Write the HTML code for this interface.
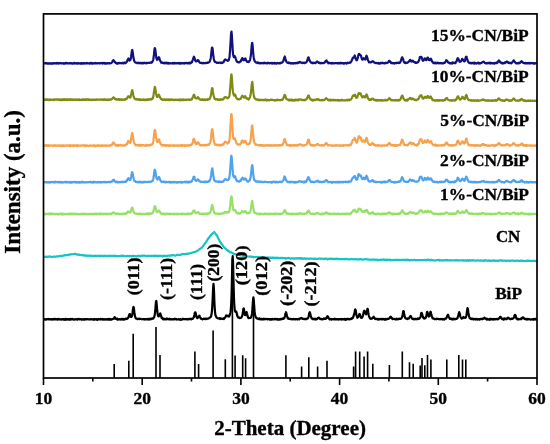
<!DOCTYPE html><html><head><meta charset="utf-8"><style>html,body{margin:0;padding:0;background:#fff;}svg{display:block;will-change:transform}</style></head><body>
<svg width="550" height="444" viewBox="0 0 550 444">
<rect width="550" height="444" fill="#fff"/>
<polyline fill="none" stroke="#10107e" stroke-width="2.2" stroke-linejoin="round" points="43.5,63.3 43.8,63.2 44.1,63.3 44.4,63.5 44.7,63.4 45.0,63.5 45.3,63.3 45.6,63.0 45.9,63.4 46.2,63.4 46.5,63.2 46.8,63.2 47.1,63.3 47.3,63.5 47.6,63.3 47.9,63.2 48.2,63.6 48.5,63.4 48.8,63.7 49.1,63.6 49.4,63.7 49.7,63.3 50.0,63.5 50.3,63.2 50.6,63.3 50.9,63.3 51.2,63.8 51.5,63.4 51.8,63.3 52.1,63.3 52.4,63.6 52.7,63.4 53.0,63.5 53.3,63.5 53.6,63.1 53.9,63.5 54.2,63.3 54.5,63.1 54.8,63.4 55.0,63.3 55.3,63.3 55.6,63.3 55.9,63.5 56.2,63.3 56.5,63.0 56.8,63.6 57.1,63.1 57.4,63.3 57.7,63.4 58.0,62.9 58.3,63.1 58.6,63.5 58.9,63.3 59.2,63.2 59.5,63.3 59.8,63.2 60.1,63.3 60.4,63.2 60.7,63.0 61.0,63.4 61.3,63.3 61.6,63.4 61.9,63.3 62.2,63.5 62.5,63.4 62.7,63.3 63.0,63.1 63.3,63.1 63.6,63.6 63.9,63.5 64.2,63.2 64.5,63.7 64.8,63.4 65.1,63.3 65.4,63.0 65.7,63.2 66.0,63.4 66.3,63.4 66.6,63.3 66.9,63.0 67.2,63.4 67.5,63.4 67.8,63.2 68.1,63.3 68.4,63.3 68.7,63.5 69.0,63.3 69.3,63.4 69.6,63.1 69.9,63.2 70.1,63.3 70.4,63.2 70.7,63.4 71.0,63.1 71.3,63.3 71.6,63.2 71.9,63.5 72.2,63.2 72.5,63.6 72.8,63.7 73.1,63.4 73.4,63.5 73.7,63.3 74.0,62.8 74.3,63.5 74.6,63.4 74.9,63.2 75.2,63.2 75.5,63.3 75.8,63.3 76.1,63.1 76.4,63.2 76.7,63.5 77.0,63.3 77.3,63.3 77.6,63.5 77.8,63.2 78.1,63.5 78.4,63.1 78.7,63.2 79.0,63.3 79.3,63.4 79.6,63.3 79.9,63.7 80.2,63.5 80.5,63.2 80.8,63.7 81.1,63.1 81.4,63.6 81.7,63.1 82.0,63.5 82.3,63.1 82.6,63.3 82.9,63.6 83.2,63.0 83.5,63.0 83.8,63.3 84.1,63.3 84.4,63.3 84.7,63.5 85.0,63.1 85.3,63.4 85.5,63.3 85.8,63.4 86.1,63.4 86.4,63.5 86.7,63.0 87.0,63.3 87.3,63.1 87.6,63.3 87.9,63.4 88.2,63.3 88.5,63.4 88.8,63.3 89.1,63.4 89.4,63.3 89.7,63.6 90.0,63.4 90.3,63.0 90.6,63.4 90.9,63.5 91.2,63.2 91.5,63.0 91.8,63.6 92.1,63.3 92.4,63.4 92.7,63.6 92.9,63.1 93.2,63.3 93.5,63.3 93.8,63.4 94.1,63.2 94.4,63.4 94.7,63.3 95.0,63.5 95.3,63.5 95.6,63.0 95.9,63.4 96.2,63.2 96.5,63.3 96.8,63.4 97.1,63.4 97.4,63.1 97.7,63.3 98.0,63.3 98.3,63.3 98.6,63.0 98.9,63.1 99.2,63.2 99.5,63.4 99.8,63.5 100.1,63.1 100.4,63.1 100.6,63.3 100.9,63.2 101.2,63.1 101.5,63.1 101.8,63.1 102.1,63.4 102.4,63.0 102.7,63.5 103.0,63.1 103.3,63.2 103.6,63.1 103.9,62.9 104.2,63.0 104.5,63.5 104.8,63.6 105.1,63.1 105.4,63.4 105.7,63.2 106.0,63.1 106.3,63.6 106.6,63.6 106.9,63.2 107.2,63.2 107.5,63.3 107.8,63.2 108.0,63.4 108.3,63.5 108.6,63.2 108.9,63.4 109.2,63.5 109.5,63.0 109.8,63.1 110.1,63.0 110.4,63.3 110.7,63.1 111.0,63.1 111.3,63.0 111.6,62.6 111.9,62.6 112.2,62.0 112.5,61.5 112.8,60.7 113.1,60.8 113.4,60.1 113.7,60.3 114.0,60.7 114.3,61.5 114.6,61.8 114.9,62.0 115.2,62.5 115.5,62.7 115.7,62.9 116.0,62.7 116.3,63.0 116.6,63.5 116.9,63.2 117.2,63.5 117.5,63.7 117.8,63.2 118.1,62.8 118.4,63.1 118.7,63.4 119.0,63.3 119.3,62.9 119.6,63.1 119.9,63.1 120.2,63.1 120.5,63.1 120.8,63.0 121.1,63.0 121.4,63.1 121.7,63.3 122.0,63.0 122.3,63.2 122.6,62.9 122.9,63.3 123.2,63.1 123.4,63.0 123.7,63.3 124.0,62.6 124.3,62.7 124.6,63.0 124.9,62.7 125.2,62.7 125.5,63.2 125.8,62.6 126.1,62.5 126.4,62.2 126.7,62.0 127.0,61.4 127.3,60.7 127.6,59.7 127.9,59.2 128.2,58.8 128.5,58.5 128.8,59.3 129.1,59.8 129.4,60.6 129.7,60.2 130.0,60.4 130.3,60.0 130.6,59.3 130.8,58.2 131.1,56.4 131.4,54.3 131.7,52.1 132.0,50.4 132.3,49.9 132.6,51.4 132.9,53.7 133.2,56.1 133.5,58.1 133.8,59.1 134.1,60.5 134.4,61.3 134.7,61.8 135.0,62.3 135.3,62.3 135.6,62.3 135.9,62.6 136.2,62.7 136.5,62.8 136.8,62.8 137.1,63.2 137.4,62.9 137.7,63.1 138.0,62.8 138.3,63.1 138.5,62.9 138.8,62.7 139.1,63.1 139.4,63.2 139.7,63.0 140.0,63.1 140.3,63.3 140.6,63.0 140.9,62.7 141.2,63.1 141.5,63.1 141.8,63.3 142.1,63.0 142.4,63.4 142.7,63.3 143.0,62.8 143.3,63.3 143.6,62.9 143.9,62.8 144.2,63.0 144.5,63.0 144.8,62.7 145.1,63.1 145.4,63.2 145.7,63.4 146.0,63.1 146.2,62.8 146.5,62.9 146.8,63.2 147.1,63.2 147.4,63.1 147.7,62.9 148.0,63.0 148.3,62.9 148.6,62.9 148.9,63.0 149.2,62.9 149.5,62.8 149.8,62.8 150.1,62.7 150.4,62.3 150.7,62.5 151.0,62.5 151.3,62.8 151.6,62.2 151.9,62.5 152.2,62.2 152.5,61.4 152.8,60.8 153.1,60.2 153.4,59.2 153.6,57.2 153.9,54.9 154.2,52.0 154.5,49.2 154.8,48.1 155.1,48.6 155.4,50.5 155.7,52.9 156.0,55.4 156.3,57.6 156.6,58.7 156.9,59.8 157.2,59.7 157.5,59.6 157.8,59.1 158.1,58.7 158.4,57.7 158.7,57.2 159.0,57.3 159.3,57.9 159.6,59.0 159.9,60.1 160.2,60.5 160.5,61.4 160.8,61.8 161.1,62.0 161.3,62.8 161.6,62.7 161.9,62.6 162.2,62.7 162.5,62.9 162.8,62.7 163.1,62.9 163.4,63.2 163.7,63.2 164.0,62.8 164.3,62.9 164.6,63.4 164.9,62.8 165.2,63.0 165.5,62.8 165.8,63.2 166.1,63.2 166.4,63.3 166.7,62.6 167.0,63.2 167.3,62.8 167.6,63.3 167.9,63.1 168.2,63.5 168.5,63.2 168.8,63.0 169.0,63.4 169.3,63.0 169.6,63.1 169.9,63.4 170.2,63.3 170.5,63.3 170.8,63.2 171.1,63.3 171.4,63.4 171.7,63.3 172.0,63.4 172.3,63.5 172.6,63.2 172.9,63.0 173.2,63.5 173.5,63.2 173.8,63.3 174.1,63.4 174.4,63.0 174.7,63.3 175.0,62.9 175.3,63.4 175.6,63.1 175.9,63.3 176.2,63.4 176.4,63.1 176.7,63.2 177.0,63.1 177.3,63.2 177.6,63.4 177.9,63.2 178.2,63.2 178.5,63.0 178.8,63.4 179.1,63.2 179.4,63.6 179.7,63.1 180.0,63.4 180.3,63.6 180.6,63.2 180.9,63.0 181.2,63.5 181.5,63.4 181.8,63.4 182.1,63.4 182.4,63.1 182.7,63.4 183.0,63.3 183.3,63.1 183.6,63.3 183.9,63.1 184.1,63.4 184.4,63.4 184.7,63.5 185.0,62.8 185.3,63.2 185.6,63.1 185.9,63.2 186.2,63.1 186.5,63.1 186.8,62.8 187.1,63.3 187.4,63.4 187.7,63.3 188.0,63.4 188.3,62.9 188.6,62.9 188.9,63.2 189.2,63.3 189.5,63.1 189.8,62.7 190.1,63.5 190.4,62.8 190.7,63.0 191.0,62.5 191.3,62.8 191.5,62.5 191.8,62.4 192.1,61.9 192.4,60.8 192.7,60.1 193.0,59.2 193.3,58.2 193.6,57.4 193.9,56.7 194.2,57.0 194.5,57.9 194.8,59.1 195.1,60.3 195.4,60.8 195.7,61.3 196.0,61.3 196.3,61.2 196.6,61.4 196.9,61.2 197.2,60.6 197.5,60.3 197.8,60.1 198.1,60.0 198.4,60.6 198.7,60.9 199.0,61.5 199.2,61.9 199.5,62.3 199.8,62.7 200.1,62.9 200.4,62.8 200.7,62.9 201.0,62.8 201.3,62.9 201.6,63.2 201.9,62.9 202.2,63.2 202.5,63.1 202.8,63.0 203.1,63.4 203.4,63.0 203.7,62.9 204.0,63.0 204.3,63.1 204.6,63.0 204.9,63.1 205.2,63.0 205.5,63.0 205.8,62.9 206.1,63.1 206.4,62.8 206.7,62.8 206.9,62.8 207.2,62.8 207.5,62.6 207.8,62.9 208.1,62.4 208.4,62.4 208.7,62.3 209.0,62.1 209.3,62.1 209.6,61.6 209.9,61.0 210.2,60.2 210.5,59.1 210.8,57.7 211.1,55.1 211.4,52.2 211.7,49.5 212.0,47.6 212.3,47.6 212.6,48.7 212.9,51.5 213.2,54.8 213.5,56.6 213.8,58.9 214.1,60.2 214.3,61.0 214.6,61.2 214.9,61.9 215.2,62.0 215.5,61.9 215.8,62.0 216.1,62.5 216.4,62.6 216.7,62.8 217.0,62.8 217.3,62.6 217.6,62.6 217.9,62.7 218.2,62.6 218.5,62.9 218.8,62.8 219.1,62.7 219.4,62.7 219.7,62.6 220.0,62.7 220.3,62.9 220.6,62.7 220.9,63.0 221.2,63.1 221.5,62.6 221.8,62.7 222.0,62.6 222.3,62.9 222.6,62.5 222.9,62.5 223.2,62.3 223.5,62.3 223.8,61.5 224.1,60.8 224.4,60.4 224.7,60.0 225.0,59.6 225.3,59.4 225.6,60.2 225.9,59.9 226.2,59.9 226.5,60.0 226.8,60.0 227.1,60.3 227.4,60.7 227.7,60.8 228.0,60.6 228.3,60.7 228.6,60.3 228.9,59.5 229.2,58.3 229.5,57.3 229.7,54.9 230.0,51.6 230.3,46.9 230.6,41.8 230.9,36.0 231.2,32.4 231.5,31.6 231.8,34.6 232.1,39.6 232.4,44.9 232.7,50.0 233.0,53.3 233.3,55.3 233.6,56.7 233.9,57.2 234.2,56.6 234.5,56.4 234.8,56.2 235.1,56.8 235.4,57.3 235.7,58.6 236.0,59.3 236.3,60.5 236.6,61.1 236.9,61.4 237.1,61.9 237.4,61.8 237.7,62.0 238.0,62.3 238.3,62.2 238.6,62.3 238.9,62.1 239.2,62.4 239.5,62.3 239.8,61.9 240.1,61.5 240.4,61.4 240.7,61.4 241.0,60.8 241.3,59.9 241.6,59.4 241.9,58.8 242.2,58.1 242.5,58.1 242.8,58.8 243.1,59.6 243.4,60.1 243.7,60.0 244.0,60.3 244.3,59.9 244.6,59.3 244.8,58.7 245.1,58.6 245.4,58.5 245.7,59.3 246.0,59.9 246.3,60.8 246.6,60.9 246.9,61.5 247.2,61.9 247.5,62.0 247.8,62.0 248.1,61.8 248.4,62.2 248.7,62.0 249.0,61.7 249.3,60.8 249.6,60.8 249.9,60.4 250.2,59.2 250.5,57.4 250.8,55.8 251.1,52.9 251.4,49.1 251.7,45.7 252.0,43.1 252.3,42.9 252.5,44.4 252.8,47.8 253.1,51.7 253.4,54.8 253.7,57.7 254.0,58.9 254.3,60.2 254.6,60.9 254.9,61.3 255.2,61.8 255.5,62.3 255.8,62.1 256.1,62.5 256.4,62.5 256.7,62.7 257.0,62.7 257.3,63.1 257.6,62.5 257.9,62.7 258.2,62.6 258.5,62.5 258.8,62.9 259.1,63.3 259.4,63.1 259.7,63.2 259.9,63.1 260.2,63.0 260.5,63.4 260.8,63.0 261.1,63.3 261.4,63.0 261.7,63.1 262.0,63.1 262.3,63.1 262.6,63.2 262.9,63.2 263.2,63.4 263.5,63.1 263.8,62.8 264.1,62.7 264.4,62.9 264.7,63.0 265.0,63.3 265.3,62.9 265.6,63.2 265.9,63.2 266.2,63.2 266.5,63.1 266.8,63.3 267.1,63.2 267.4,63.4 267.6,63.3 267.9,62.7 268.2,63.2 268.5,63.2 268.8,63.1 269.1,63.0 269.4,63.4 269.7,63.2 270.0,63.0 270.3,63.1 270.6,63.2 270.9,62.9 271.2,63.3 271.5,63.2 271.8,63.3 272.1,62.9 272.4,63.6 272.7,63.3 273.0,63.3 273.3,63.1 273.6,63.1 273.9,62.9 274.2,63.5 274.5,63.0 274.8,63.2 275.1,63.3 275.3,63.1 275.6,63.4 275.9,63.6 276.2,63.2 276.5,63.5 276.8,63.3 277.1,63.1 277.4,63.1 277.7,62.8 278.0,63.2 278.3,63.4 278.6,63.3 278.9,63.3 279.2,63.3 279.5,63.0 279.8,63.2 280.1,63.4 280.4,62.9 280.7,63.0 281.0,62.9 281.3,62.9 281.6,62.7 281.9,62.7 282.2,62.4 282.5,62.3 282.7,62.0 283.0,61.5 283.3,61.2 283.6,60.0 283.9,58.9 284.2,57.7 284.5,57.2 284.8,56.5 285.1,57.4 285.4,58.8 285.7,60.0 286.0,60.7 286.3,61.4 286.6,62.1 286.9,62.3 287.2,62.7 287.5,62.6 287.8,62.9 288.1,62.9 288.4,62.7 288.7,62.5 289.0,63.2 289.3,63.1 289.6,63.2 289.9,62.9 290.2,63.3 290.4,63.2 290.7,63.1 291.0,63.3 291.3,63.3 291.6,63.2 291.9,63.6 292.2,63.4 292.5,63.2 292.8,63.1 293.1,63.2 293.4,63.5 293.7,63.3 294.0,63.0 294.3,63.1 294.6,63.2 294.9,63.3 295.2,63.0 295.5,63.3 295.8,63.4 296.1,63.3 296.4,62.9 296.7,63.1 297.0,62.9 297.3,63.2 297.6,62.9 297.8,63.1 298.1,63.0 298.4,62.4 298.7,62.6 299.0,62.6 299.3,62.3 299.6,62.1 299.9,61.8 300.2,62.1 300.5,62.5 300.8,62.4 301.1,62.6 301.4,62.7 301.7,62.6 302.0,62.9 302.3,62.8 302.6,63.2 302.9,62.8 303.2,62.6 303.5,62.9 303.8,63.0 304.1,63.0 304.4,62.6 304.7,63.1 305.0,62.9 305.3,62.7 305.5,62.6 305.8,62.7 306.1,62.4 306.4,62.2 306.7,61.7 307.0,61.1 307.3,60.5 307.6,59.2 307.9,58.0 308.2,57.6 308.5,57.3 308.8,57.7 309.1,59.1 309.4,59.9 309.7,61.0 310.0,61.3 310.3,61.6 310.6,62.0 310.9,62.6 311.2,62.6 311.5,62.8 311.8,62.9 312.1,62.6 312.4,63.2 312.7,62.8 313.0,63.0 313.2,62.7 313.5,63.0 313.8,63.2 314.1,63.0 314.4,62.9 314.7,63.0 315.0,62.9 315.3,63.0 315.6,63.2 315.9,62.5 316.2,62.3 316.5,62.1 316.8,61.9 317.1,61.5 317.4,61.8 317.7,62.0 318.0,62.1 318.3,62.1 318.6,62.9 318.9,62.5 319.2,63.0 319.5,63.2 319.8,62.8 320.1,63.1 320.4,63.3 320.6,63.2 320.9,62.9 321.2,62.9 321.5,63.2 321.8,63.0 322.1,63.0 322.4,63.2 322.7,63.0 323.0,63.1 323.3,63.1 323.6,63.1 323.9,62.9 324.2,62.8 324.5,62.7 324.8,62.4 325.1,61.8 325.4,61.5 325.7,60.9 326.0,60.6 326.3,60.6 326.6,60.5 326.9,61.6 327.2,61.7 327.5,62.3 327.8,62.2 328.1,62.4 328.3,63.3 328.6,63.2 328.9,62.9 329.2,62.9 329.5,62.9 329.8,63.1 330.1,63.0 330.4,63.0 330.7,63.2 331.0,63.0 331.3,63.6 331.6,63.1 331.9,63.4 332.2,63.0 332.5,63.2 332.8,63.4 333.1,63.1 333.4,63.4 333.7,63.4 334.0,63.5 334.3,63.2 334.6,63.1 334.9,63.0 335.2,63.2 335.5,63.0 335.8,63.2 336.0,63.2 336.3,63.1 336.6,63.0 336.9,63.3 337.2,63.3 337.5,63.2 337.8,63.2 338.1,63.4 338.4,63.0 338.7,63.3 339.0,63.1 339.3,63.4 339.6,63.1 339.9,63.1 340.2,63.3 340.5,62.8 340.8,63.1 341.1,62.8 341.4,63.0 341.7,63.3 342.0,63.3 342.3,63.1 342.6,63.2 342.9,63.2 343.2,63.2 343.4,63.5 343.7,63.2 344.0,63.6 344.3,63.1 344.6,63.3 344.9,63.3 345.2,63.2 345.5,63.0 345.8,63.4 346.1,63.4 346.4,63.3 346.7,63.5 347.0,63.2 347.3,62.7 347.6,63.2 347.9,62.8 348.2,63.2 348.5,62.9 348.8,63.0 349.1,62.9 349.4,62.7 349.7,62.4 350.0,62.6 350.3,62.5 350.6,62.6 350.9,62.0 351.1,61.8 351.4,61.1 351.7,60.7 352.0,59.5 352.3,59.4 352.6,58.3 352.9,57.6 353.2,57.8 353.5,57.8 353.8,57.4 354.1,57.2 354.4,56.3 354.7,55.5 355.0,56.1 355.3,57.3 355.6,58.3 355.9,59.2 356.2,59.6 356.5,60.4 356.8,60.4 357.1,59.7 357.4,59.0 357.7,58.2 358.0,57.0 358.3,55.6 358.6,54.2 358.8,54.1 359.1,53.8 359.4,54.7 359.7,54.9 360.0,54.8 360.3,54.9 360.6,55.4 360.9,55.5 361.2,56.4 361.5,57.8 361.8,58.8 362.1,59.2 362.4,59.7 362.7,58.9 363.0,59.3 363.3,58.6 363.6,58.1 363.9,58.2 364.2,58.5 364.5,59.0 364.8,59.4 365.1,59.2 365.4,59.5 365.7,58.3 366.0,57.5 366.2,56.3 366.5,55.7 366.8,56.1 367.1,57.0 367.4,58.0 367.7,59.3 368.0,60.5 368.3,60.7 368.6,61.2 368.9,62.3 369.2,62.2 369.5,61.9 369.8,62.3 370.1,62.4 370.4,62.5 370.7,62.5 371.0,62.3 371.3,62.2 371.6,61.7 371.9,61.6 372.2,61.3 372.5,61.3 372.8,61.1 373.1,61.5 373.4,61.8 373.7,61.9 373.9,62.3 374.2,62.5 374.5,62.7 374.8,62.8 375.1,62.9 375.4,63.0 375.7,62.9 376.0,63.2 376.3,62.8 376.6,63.1 376.9,63.2 377.2,63.2 377.5,63.2 377.8,63.1 378.1,63.3 378.4,62.9 378.7,63.3 379.0,63.6 379.3,63.3 379.6,63.6 379.9,63.2 380.2,62.9 380.5,63.0 380.8,63.4 381.1,63.3 381.4,62.8 381.6,63.1 381.9,63.2 382.2,62.9 382.5,62.7 382.8,62.9 383.1,63.1 383.4,63.1 383.7,63.0 384.0,63.3 384.3,63.3 384.6,63.1 384.9,63.3 385.2,63.1 385.5,63.1 385.8,62.6 386.1,63.2 386.4,63.0 386.7,63.0 387.0,62.8 387.3,62.6 387.6,62.7 387.9,62.5 388.2,62.4 388.5,61.8 388.8,61.1 389.0,60.8 389.3,60.8 389.6,60.8 389.9,61.2 390.2,61.5 390.5,62.2 390.8,62.4 391.1,63.0 391.4,63.0 391.7,62.6 392.0,63.4 392.3,63.1 392.6,63.0 392.9,63.1 393.2,63.2 393.5,63.1 393.8,63.1 394.1,63.1 394.4,63.5 394.7,63.1 395.0,63.3 395.3,63.2 395.6,63.0 395.9,63.0 396.2,62.9 396.5,63.2 396.7,62.9 397.0,62.8 397.3,62.8 397.6,62.7 397.9,63.0 398.2,63.0 398.5,62.7 398.8,63.1 399.1,62.8 399.4,62.8 399.7,62.6 400.0,62.7 400.3,62.2 400.6,61.5 400.9,60.6 401.2,59.7 401.5,58.8 401.8,57.9 402.1,57.4 402.4,57.3 402.7,58.2 403.0,59.0 403.3,59.8 403.6,61.0 403.9,61.9 404.1,62.2 404.4,62.7 404.7,62.8 405.0,62.4 405.3,62.7 405.6,63.1 405.9,62.7 406.2,62.6 406.5,62.9 406.8,62.9 407.1,62.9 407.4,62.7 407.7,62.5 408.0,62.3 408.3,62.1 408.6,61.8 408.9,61.4 409.2,61.1 409.5,61.0 409.8,60.2 410.1,59.9 410.4,60.2 410.7,60.3 411.0,61.0 411.3,61.5 411.6,61.2 411.8,61.4 412.1,61.4 412.4,61.0 412.7,60.7 413.0,60.8 413.3,61.5 413.6,61.5 413.9,61.8 414.2,62.2 414.5,62.3 414.8,62.2 415.1,62.7 415.4,62.9 415.7,62.3 416.0,62.8 416.3,62.9 416.6,62.6 416.9,62.5 417.2,62.7 417.5,62.3 417.8,62.4 418.1,62.2 418.4,61.6 418.7,60.9 419.0,60.5 419.3,59.4 419.5,58.6 419.8,57.2 420.1,57.5 420.4,56.8 420.7,57.0 421.0,56.9 421.3,56.9 421.6,57.3 421.9,58.0 422.2,59.1 422.5,60.1 422.8,60.6 423.1,60.6 423.4,60.6 423.7,60.1 424.0,59.8 424.3,59.1 424.6,58.4 424.9,58.4 425.2,58.9 425.5,59.4 425.8,59.9 426.1,59.7 426.4,60.2 426.7,59.5 426.9,59.1 427.2,58.1 427.5,57.6 427.8,57.6 428.1,57.9 428.4,58.5 428.7,59.2 429.0,60.0 429.3,60.2 429.6,59.8 429.9,60.2 430.2,59.3 430.5,59.1 430.8,58.7 431.1,58.9 431.4,59.7 431.7,60.3 432.0,61.5 432.3,61.5 432.6,62.2 432.9,62.3 433.2,62.5 433.5,63.2 433.8,62.9 434.1,62.8 434.4,62.6 434.6,62.9 434.9,62.9 435.2,63.3 435.5,62.7 435.8,62.7 436.1,63.0 436.4,63.1 436.7,63.4 437.0,62.9 437.3,62.6 437.6,63.0 437.9,62.9 438.2,63.0 438.5,63.3 438.8,62.9 439.1,63.4 439.4,63.2 439.7,63.1 440.0,63.0 440.3,63.0 440.6,63.0 440.9,63.3 441.2,63.4 441.5,63.1 441.8,63.2 442.1,63.4 442.3,63.3 442.6,63.2 442.9,63.4 443.2,63.3 443.5,63.3 443.8,62.9 444.1,62.8 444.4,62.4 444.7,62.9 445.0,62.5 445.3,61.8 445.6,61.6 445.9,61.1 446.2,60.2 446.5,60.3 446.8,60.5 447.1,60.9 447.4,61.1 447.7,61.6 448.0,62.4 448.3,62.6 448.6,62.5 448.9,62.7 449.2,63.0 449.5,62.8 449.7,62.9 450.0,63.4 450.3,63.1 450.6,63.0 450.9,63.2 451.2,63.5 451.5,63.1 451.8,62.9 452.1,62.7 452.4,63.5 452.7,62.5 453.0,63.2 453.3,62.8 453.6,62.7 453.9,62.8 454.2,62.9 454.5,63.1 454.8,62.7 455.1,62.9 455.4,63.2 455.7,61.9 456.0,62.1 456.3,61.5 456.6,61.5 456.9,60.3 457.2,59.4 457.4,58.6 457.7,58.2 458.0,58.3 458.3,58.6 458.6,59.8 458.9,60.5 459.2,60.9 459.5,61.6 459.8,61.8 460.1,61.9 460.4,61.5 460.7,61.4 461.0,61.3 461.3,60.6 461.6,60.3 461.9,59.5 462.2,58.8 462.5,59.1 462.8,59.3 463.1,60.1 463.4,60.4 463.7,60.6 464.0,61.4 464.3,61.3 464.6,61.3 464.9,60.9 465.1,60.2 465.4,58.7 465.7,57.4 466.0,56.8 466.3,56.7 466.6,56.8 466.9,58.0 467.2,59.0 467.5,60.2 467.8,61.0 468.1,61.6 468.4,62.2 468.7,62.5 469.0,62.9 469.3,62.8 469.6,63.1 469.9,62.9 470.2,63.1 470.5,62.9 470.8,62.9 471.1,63.3 471.4,63.2 471.7,63.3 472.0,62.9 472.3,62.8 472.5,62.9 472.8,63.2 473.1,62.8 473.4,63.4 473.7,62.8 474.0,63.3 474.3,63.7 474.6,62.6 474.9,62.9 475.2,63.4 475.5,63.1 475.8,63.2 476.1,63.2 476.4,63.5 476.7,63.3 477.0,63.1 477.3,63.1 477.6,62.9 477.9,63.2 478.2,62.7 478.5,63.3 478.8,63.1 479.1,63.6 479.4,63.4 479.7,62.9 480.0,63.3 480.2,63.0 480.5,63.1 480.8,63.3 481.1,63.0 481.4,63.0 481.7,62.8 482.0,62.3 482.3,62.1 482.6,62.1 482.9,62.0 483.2,61.7 483.5,61.9 483.8,62.0 484.1,61.9 484.4,62.5 484.7,62.8 485.0,63.0 485.3,63.2 485.6,63.3 485.9,63.3 486.2,63.2 486.5,63.3 486.8,63.0 487.1,63.3 487.4,63.2 487.6,63.4 487.9,62.9 488.2,63.1 488.5,62.9 488.8,63.1 489.1,62.9 489.4,63.3 489.7,63.1 490.0,62.7 490.3,63.5 490.6,63.0 490.9,62.9 491.2,63.1 491.5,63.1 491.8,63.0 492.1,63.4 492.4,63.1 492.7,63.4 493.0,63.3 493.3,63.3 493.6,63.2 493.9,63.2 494.2,63.1 494.5,63.5 494.8,62.8 495.1,62.9 495.3,63.0 495.6,63.2 495.9,63.1 496.2,62.9 496.5,62.9 496.8,63.2 497.1,62.5 497.4,61.9 497.7,62.5 498.0,61.5 498.3,61.2 498.6,60.9 498.9,60.5 499.2,61.1 499.5,61.2 499.8,61.4 500.1,62.2 500.4,62.5 500.7,62.7 501.0,62.9 501.3,62.6 501.6,63.2 501.9,62.9 502.2,63.3 502.5,62.9 502.8,63.1 503.0,63.6 503.3,63.1 503.6,63.3 503.9,63.2 504.2,62.7 504.5,63.2 504.8,63.2 505.1,62.5 505.4,62.7 505.7,62.1 506.0,62.1 506.3,62.1 506.6,61.8 506.9,61.5 507.2,61.7 507.5,62.1 507.8,62.4 508.1,62.6 508.4,62.9 508.7,62.5 509.0,63.0 509.3,63.2 509.6,63.1 509.9,62.9 510.2,62.9 510.4,63.1 510.7,63.2 511.0,63.0 511.3,63.3 511.6,63.1 511.9,62.5 512.2,62.5 512.5,62.0 512.8,61.5 513.1,61.1 513.4,60.9 513.7,60.3 514.0,60.8 514.3,61.3 514.6,61.6 514.9,62.0 515.2,62.6 515.5,62.7 515.8,62.9 516.1,63.3 516.4,63.0 516.7,63.1 517.0,63.2 517.3,63.4 517.6,63.2 517.9,63.1 518.1,63.1 518.4,63.3 518.7,62.9 519.0,63.3 519.3,63.0 519.6,62.6 519.9,62.9 520.2,62.6 520.5,62.0 520.8,62.0 521.1,61.6 521.4,61.3 521.7,61.1 522.0,61.9 522.3,62.0 522.6,62.4 522.9,62.7 523.2,62.9 523.5,63.0 523.8,62.9 524.1,63.2 524.4,63.1 524.7,63.1 525.0,63.3 525.3,63.1 525.6,62.9 525.8,63.1 526.1,63.3 526.4,63.2 526.7,63.4 527.0,63.2 527.3,63.1 527.6,63.4 527.9,63.3 528.2,63.0 528.5,63.4 528.8,63.2 529.1,63.5 529.4,63.4 529.7,63.4 530.0,62.8 530.3,63.3 530.6,63.4 530.9,63.4 531.2,63.3 531.5,63.1 531.8,63.2 532.1,62.9 532.4,63.2 532.7,63.0 533.0,63.2 533.2,63.2 533.5,63.6 533.8,63.3 534.1,63.3 534.4,63.3 534.7,63.7 535.0,63.1 535.3,63.4 535.6,63.4 535.9,63.3 536.2,63.3 536.5,63.2 536.8,63.5"/>
<polyline fill="none" stroke="#7f8a12" stroke-width="2.2" stroke-linejoin="round" points="43.5,99.8 43.8,99.5 44.1,99.6 44.4,99.7 44.7,99.7 45.0,99.8 45.3,99.6 45.6,99.4 45.9,99.8 46.2,99.3 46.5,99.4 46.8,99.7 47.1,99.4 47.3,99.9 47.6,100.0 47.9,99.9 48.2,99.7 48.5,99.7 48.8,99.7 49.1,99.6 49.4,100.0 49.7,99.5 50.0,99.9 50.3,99.7 50.6,99.7 50.9,99.8 51.2,99.9 51.5,99.8 51.8,99.6 52.1,99.5 52.4,99.5 52.7,99.8 53.0,99.8 53.3,99.8 53.6,99.5 53.9,100.0 54.2,99.4 54.5,99.7 54.8,99.8 55.0,99.6 55.3,99.4 55.6,99.6 55.9,99.4 56.2,99.6 56.5,99.4 56.8,99.4 57.1,99.6 57.4,99.3 57.7,99.6 58.0,99.6 58.3,99.8 58.6,99.7 58.9,99.5 59.2,99.9 59.5,99.5 59.8,99.6 60.1,99.6 60.4,100.1 60.7,99.7 61.0,99.5 61.3,99.8 61.6,99.6 61.9,100.1 62.2,99.5 62.5,99.8 62.7,99.5 63.0,100.0 63.3,99.5 63.6,99.7 63.9,99.5 64.2,99.8 64.5,99.8 64.8,99.2 65.1,99.8 65.4,99.8 65.7,99.7 66.0,99.9 66.3,99.4 66.6,99.3 66.9,99.8 67.2,100.0 67.5,99.4 67.8,99.4 68.1,99.5 68.4,99.4 68.7,99.8 69.0,99.7 69.3,99.9 69.6,99.9 69.9,99.5 70.1,99.8 70.4,99.2 70.7,99.6 71.0,99.8 71.3,99.5 71.6,99.3 71.9,99.6 72.2,99.9 72.5,99.6 72.8,99.4 73.1,99.8 73.4,99.8 73.7,99.5 74.0,99.6 74.3,99.9 74.6,99.7 74.9,99.8 75.2,99.6 75.5,99.6 75.8,99.4 76.1,99.5 76.4,100.0 76.7,99.6 77.0,99.5 77.3,99.6 77.6,99.5 77.8,99.8 78.1,99.9 78.4,99.5 78.7,99.9 79.0,100.1 79.3,99.5 79.6,99.8 79.9,99.7 80.2,100.0 80.5,99.9 80.8,99.9 81.1,99.8 81.4,99.6 81.7,100.1 82.0,99.5 82.3,99.9 82.6,99.9 82.9,99.5 83.2,99.7 83.5,100.0 83.8,99.3 84.1,99.9 84.4,99.6 84.7,99.6 85.0,99.4 85.3,99.8 85.5,99.5 85.8,99.8 86.1,99.5 86.4,99.8 86.7,99.8 87.0,99.3 87.3,99.6 87.6,99.7 87.9,99.2 88.2,99.6 88.5,99.9 88.8,99.5 89.1,99.9 89.4,99.5 89.7,99.5 90.0,99.8 90.3,99.8 90.6,99.7 90.9,99.7 91.2,99.9 91.5,99.6 91.8,100.1 92.1,99.8 92.4,99.8 92.7,99.8 92.9,99.6 93.2,99.9 93.5,99.6 93.8,99.7 94.1,99.8 94.4,100.0 94.7,99.9 95.0,99.6 95.3,99.9 95.6,99.7 95.9,99.5 96.2,99.5 96.5,99.4 96.8,99.8 97.1,99.9 97.4,99.5 97.7,99.6 98.0,99.5 98.3,99.7 98.6,99.5 98.9,99.5 99.2,99.6 99.5,99.6 99.8,99.6 100.1,99.7 100.4,99.7 100.6,99.5 100.9,99.8 101.2,99.4 101.5,99.7 101.8,99.5 102.1,99.7 102.4,99.8 102.7,99.3 103.0,99.8 103.3,100.0 103.6,99.9 103.9,99.8 104.2,99.3 104.5,99.7 104.8,99.5 105.1,99.9 105.4,99.6 105.7,99.6 106.0,99.3 106.3,99.8 106.6,99.6 106.9,99.6 107.2,99.9 107.5,99.7 107.8,99.7 108.0,100.1 108.3,99.5 108.6,99.6 108.9,99.7 109.2,99.9 109.5,99.3 109.8,99.6 110.1,99.4 110.4,99.3 110.7,99.6 111.0,99.3 111.3,99.4 111.6,99.3 111.9,99.1 112.2,98.8 112.5,98.2 112.8,98.0 113.1,97.6 113.4,97.4 113.7,97.3 114.0,97.9 114.3,98.2 114.6,98.5 114.9,99.0 115.2,99.1 115.5,99.4 115.7,99.0 116.0,99.2 116.3,99.4 116.6,99.6 116.9,99.2 117.2,99.5 117.5,99.6 117.8,99.6 118.1,99.6 118.4,99.4 118.7,99.7 119.0,99.2 119.3,99.8 119.6,99.5 119.9,99.9 120.2,99.3 120.5,99.7 120.8,99.7 121.1,99.5 121.4,99.4 121.7,99.9 122.0,99.7 122.3,99.9 122.6,99.6 122.9,99.6 123.2,99.7 123.4,99.7 123.7,99.6 124.0,99.7 124.3,99.4 124.6,99.2 124.9,99.8 125.2,99.4 125.5,99.4 125.8,99.2 126.1,99.3 126.4,99.0 126.7,98.9 127.0,98.1 127.3,97.7 127.6,97.2 127.9,96.5 128.2,96.3 128.5,96.5 128.8,96.4 129.1,97.0 129.4,97.5 129.7,97.5 130.0,97.5 130.3,97.7 130.6,97.1 130.8,95.7 131.1,94.4 131.4,93.3 131.7,91.7 132.0,90.4 132.3,90.2 132.6,91.4 132.9,92.7 133.2,94.6 133.5,96.1 133.8,96.8 134.1,97.9 134.4,98.3 134.7,98.6 135.0,98.8 135.3,99.1 135.6,99.2 135.9,99.4 136.2,99.0 136.5,99.3 136.8,99.7 137.1,99.5 137.4,99.4 137.7,99.4 138.0,99.2 138.3,99.3 138.5,99.7 138.8,99.6 139.1,99.9 139.4,99.6 139.7,99.6 140.0,99.1 140.3,99.6 140.6,100.1 140.9,99.8 141.2,99.6 141.5,99.9 141.8,99.9 142.1,99.8 142.4,99.6 142.7,99.7 143.0,99.9 143.3,99.5 143.6,99.8 143.9,99.8 144.2,100.0 144.5,99.8 144.8,99.6 145.1,100.0 145.4,99.7 145.7,99.5 146.0,99.7 146.2,99.6 146.5,99.9 146.8,99.4 147.1,99.4 147.4,99.6 147.7,100.0 148.0,99.8 148.3,99.4 148.6,99.2 148.9,99.5 149.2,99.3 149.5,99.6 149.8,99.5 150.1,99.4 150.4,99.3 150.7,99.6 151.0,99.0 151.3,98.9 151.6,99.3 151.9,99.2 152.2,98.6 152.5,98.5 152.8,98.4 153.1,97.0 153.4,96.1 153.6,94.7 153.9,92.2 154.2,90.3 154.5,88.4 154.8,86.9 155.1,87.4 155.4,89.0 155.7,90.9 156.0,93.2 156.3,94.9 156.6,95.7 156.9,96.6 157.2,96.9 157.5,96.9 157.8,96.5 158.1,95.8 158.4,95.4 158.7,94.6 159.0,95.2 159.3,95.5 159.6,96.5 159.9,97.1 160.2,97.7 160.5,98.0 160.8,98.8 161.1,99.0 161.3,99.2 161.6,99.4 161.9,99.6 162.2,99.4 162.5,99.8 162.8,99.5 163.1,99.6 163.4,99.7 163.7,99.8 164.0,99.9 164.3,99.3 164.6,99.9 164.9,99.4 165.2,99.6 165.5,99.8 165.8,100.0 166.1,99.5 166.4,99.4 166.7,99.9 167.0,99.8 167.3,99.6 167.6,99.7 167.9,99.4 168.2,99.9 168.5,99.7 168.8,100.0 169.0,99.4 169.3,100.0 169.6,100.2 169.9,99.8 170.2,99.8 170.5,99.4 170.8,99.9 171.1,99.8 171.4,99.7 171.7,99.5 172.0,99.8 172.3,99.6 172.6,99.7 172.9,99.9 173.2,99.8 173.5,99.8 173.8,100.0 174.1,99.6 174.4,100.1 174.7,99.6 175.0,99.7 175.3,99.9 175.6,100.0 175.9,99.9 176.2,99.8 176.4,99.7 176.7,99.8 177.0,99.7 177.3,100.0 177.6,99.8 177.9,100.2 178.2,99.7 178.5,99.8 178.8,99.9 179.1,99.6 179.4,99.7 179.7,100.4 180.0,99.9 180.3,100.2 180.6,99.6 180.9,99.4 181.2,100.0 181.5,99.8 181.8,99.9 182.1,99.8 182.4,99.7 182.7,99.6 183.0,100.1 183.3,99.5 183.6,100.0 183.9,99.8 184.1,99.6 184.4,99.7 184.7,100.0 185.0,100.0 185.3,99.9 185.6,99.8 185.9,99.6 186.2,100.1 186.5,99.7 186.8,99.7 187.1,99.7 187.4,99.7 187.7,99.5 188.0,99.7 188.3,99.6 188.6,99.6 188.9,99.4 189.2,100.1 189.5,99.4 189.8,99.7 190.1,99.7 190.4,99.8 190.7,99.9 191.0,99.6 191.3,99.5 191.5,99.1 191.8,99.3 192.1,98.4 192.4,98.1 192.7,97.6 193.0,96.8 193.3,95.9 193.6,95.2 193.9,94.7 194.2,94.9 194.5,95.7 194.8,96.8 195.1,97.4 195.4,98.2 195.7,98.3 196.0,98.2 196.3,98.5 196.6,98.5 196.9,98.5 197.2,98.1 197.5,97.8 197.8,97.1 198.1,97.5 198.4,97.7 198.7,98.3 199.0,98.5 199.2,98.6 199.5,99.3 199.8,99.4 200.1,99.6 200.4,99.4 200.7,99.8 201.0,99.9 201.3,99.9 201.6,100.0 201.9,99.6 202.2,99.2 202.5,99.9 202.8,99.5 203.1,99.7 203.4,100.0 203.7,99.8 204.0,99.8 204.3,99.9 204.6,99.3 204.9,100.1 205.2,99.6 205.5,99.6 205.8,99.8 206.1,99.6 206.4,99.5 206.7,99.6 206.9,99.5 207.2,99.4 207.5,99.9 207.8,99.2 208.1,99.0 208.4,99.1 208.7,99.1 209.0,99.4 209.3,99.0 209.6,98.9 209.9,98.5 210.2,97.6 210.5,97.0 210.8,95.6 211.1,94.3 211.4,91.9 211.7,89.8 212.0,88.4 212.3,88.1 212.6,88.8 212.9,91.4 213.2,93.5 213.5,95.2 213.8,96.2 214.1,97.1 214.3,98.1 214.6,98.7 214.9,99.0 215.2,98.8 215.5,99.4 215.8,99.0 216.1,99.1 216.4,99.4 216.7,99.3 217.0,99.4 217.3,99.2 217.6,99.8 217.9,99.4 218.2,99.7 218.5,99.8 218.8,99.6 219.1,99.7 219.4,99.8 219.7,100.0 220.0,99.8 220.3,99.3 220.6,99.2 220.9,99.5 221.2,99.4 221.5,99.7 221.8,99.6 222.0,99.4 222.3,99.7 222.6,99.6 222.9,99.3 223.2,99.2 223.5,99.1 223.8,98.5 224.1,98.2 224.4,97.5 224.7,97.3 225.0,97.1 225.3,97.0 225.6,97.2 225.9,97.4 226.2,97.5 226.5,97.4 226.8,97.6 227.1,97.6 227.4,98.3 227.7,98.2 228.0,98.1 228.3,97.9 228.6,97.7 228.9,97.3 229.2,96.2 229.5,95.2 229.7,93.6 230.0,90.4 230.3,86.9 230.6,83.0 230.9,78.3 231.2,75.4 231.5,74.4 231.8,77.1 232.1,81.4 232.4,85.6 232.7,89.3 233.0,91.9 233.3,93.7 233.6,94.6 233.9,95.1 234.2,95.6 234.5,94.6 234.8,94.9 235.1,94.7 235.4,95.2 235.7,96.2 236.0,97.1 236.3,97.8 236.6,98.2 236.9,98.7 237.1,98.9 237.4,99.1 237.7,98.8 238.0,99.1 238.3,99.0 238.6,99.3 238.9,99.2 239.2,99.3 239.5,99.1 239.8,99.0 240.1,99.0 240.4,99.0 240.7,98.7 241.0,97.8 241.3,97.6 241.6,97.0 241.9,96.0 242.2,95.7 242.5,95.9 242.8,96.4 243.1,96.4 243.4,97.2 243.7,97.4 244.0,97.6 244.3,97.6 244.6,97.2 244.8,96.4 245.1,96.2 245.4,96.4 245.7,97.0 246.0,97.6 246.3,97.9 246.6,98.6 246.9,98.4 247.2,98.6 247.5,98.4 247.8,98.8 248.1,99.1 248.4,99.1 248.7,99.5 249.0,98.8 249.3,98.4 249.6,97.9 249.9,97.4 250.2,96.5 250.5,95.3 250.8,93.3 251.1,90.6 251.4,88.1 251.7,84.9 252.0,82.7 252.3,81.8 252.5,83.6 252.8,86.7 253.1,90.3 253.4,92.7 253.7,94.9 254.0,96.4 254.3,97.4 254.6,98.0 254.9,98.6 255.2,98.6 255.5,98.9 255.8,99.2 256.1,99.3 256.4,99.5 256.7,99.3 257.0,99.6 257.3,99.5 257.6,99.7 257.9,100.0 258.2,99.5 258.5,100.0 258.8,99.6 259.1,99.7 259.4,100.1 259.7,100.0 259.9,100.0 260.2,100.0 260.5,100.1 260.8,99.8 261.1,100.0 261.4,99.8 261.7,100.0 262.0,99.9 262.3,100.1 262.6,100.0 262.9,99.9 263.2,100.0 263.5,100.1 263.8,100.2 264.1,100.0 264.4,99.9 264.7,100.1 265.0,100.2 265.3,99.9 265.6,99.5 265.9,100.1 266.2,100.0 266.5,100.0 266.8,100.5 267.1,100.0 267.4,100.2 267.6,99.8 267.9,100.1 268.2,100.2 268.5,100.1 268.8,100.0 269.1,100.2 269.4,100.1 269.7,100.3 270.0,100.1 270.3,99.9 270.6,99.7 270.9,99.9 271.2,100.0 271.5,99.8 271.8,99.9 272.1,99.7 272.4,99.9 272.7,100.1 273.0,100.0 273.3,100.0 273.6,100.0 273.9,100.0 274.2,100.2 274.5,100.5 274.8,100.2 275.1,100.5 275.3,100.1 275.6,100.1 275.9,100.4 276.2,99.9 276.5,99.9 276.8,100.0 277.1,99.7 277.4,99.7 277.7,100.3 278.0,99.8 278.3,99.9 278.6,99.9 278.9,99.8 279.2,100.2 279.5,100.1 279.8,100.2 280.1,100.1 280.4,100.0 280.7,100.2 281.0,100.1 281.3,99.7 281.6,99.8 281.9,99.7 282.2,100.0 282.5,99.6 282.7,99.3 283.0,98.8 283.3,98.4 283.6,97.4 283.9,96.7 284.2,95.8 284.5,95.1 284.8,94.8 285.1,95.6 285.4,96.1 285.7,97.2 286.0,98.0 286.3,98.7 286.6,99.0 286.9,99.2 287.2,99.4 287.5,99.6 287.8,99.6 288.1,99.8 288.4,99.6 288.7,99.9 289.0,100.4 289.3,99.7 289.6,100.0 289.9,100.3 290.2,100.1 290.4,100.2 290.7,99.6 291.0,100.0 291.3,100.4 291.6,100.0 291.9,100.2 292.2,99.7 292.5,100.3 292.8,100.5 293.1,100.1 293.4,100.2 293.7,100.2 294.0,100.5 294.3,100.0 294.6,99.8 294.9,100.5 295.2,99.9 295.5,100.2 295.8,99.6 296.1,100.0 296.4,100.1 296.7,99.9 297.0,100.0 297.3,100.2 297.6,99.9 297.8,100.1 298.1,100.3 298.4,99.5 298.7,99.8 299.0,99.7 299.3,99.4 299.6,99.6 299.9,99.5 300.2,99.3 300.5,99.4 300.8,99.5 301.1,99.4 301.4,99.9 301.7,99.8 302.0,99.8 302.3,100.2 302.6,100.0 302.9,100.2 303.2,99.8 303.5,99.9 303.8,100.0 304.1,100.3 304.4,99.9 304.7,100.1 305.0,99.8 305.3,99.9 305.5,100.0 305.8,99.5 306.1,99.4 306.4,99.4 306.7,98.7 307.0,98.5 307.3,97.8 307.6,96.9 307.9,96.3 308.2,95.6 308.5,95.5 308.8,95.6 309.1,96.4 309.4,97.6 309.7,97.9 310.0,98.8 310.3,99.2 310.6,99.3 310.9,99.6 311.2,99.3 311.5,99.8 311.8,100.2 312.1,99.7 312.4,100.1 312.7,100.1 313.0,100.6 313.2,99.8 313.5,99.9 313.8,99.9 314.1,99.8 314.4,99.7 314.7,100.0 315.0,99.8 315.3,100.1 315.6,99.9 315.9,99.5 316.2,99.5 316.5,99.6 316.8,99.1 317.1,99.0 317.4,99.1 317.7,99.0 318.0,99.4 318.3,99.8 318.6,99.9 318.9,99.5 319.2,100.2 319.5,100.0 319.8,99.9 320.1,100.0 320.4,100.3 320.6,100.2 320.9,100.1 321.2,100.0 321.5,100.2 321.8,100.4 322.1,99.9 322.4,99.9 322.7,100.0 323.0,100.2 323.3,100.0 323.6,100.0 323.9,99.8 324.2,100.1 324.5,99.7 324.8,99.5 325.1,99.4 325.4,98.8 325.7,98.5 326.0,98.4 326.3,98.2 326.6,98.7 326.9,98.8 327.2,99.0 327.5,99.4 327.8,99.5 328.1,100.1 328.3,100.3 328.6,100.0 328.9,100.0 329.2,99.7 329.5,100.0 329.8,100.3 330.1,100.0 330.4,100.3 330.7,100.5 331.0,99.7 331.3,100.1 331.6,100.1 331.9,100.1 332.2,99.9 332.5,100.2 332.8,100.0 333.1,100.4 333.4,100.5 333.7,99.9 334.0,99.9 334.3,100.1 334.6,100.2 334.9,100.2 335.2,100.4 335.5,99.9 335.8,100.1 336.0,100.1 336.3,100.2 336.6,100.0 336.9,100.1 337.2,100.1 337.5,100.5 337.8,100.1 338.1,99.8 338.4,100.3 338.7,100.3 339.0,100.1 339.3,100.0 339.6,100.1 339.9,100.6 340.2,100.1 340.5,100.5 340.8,100.4 341.1,100.1 341.4,100.3 341.7,100.1 342.0,99.6 342.3,100.1 342.6,100.1 342.9,100.4 343.2,100.3 343.4,100.4 343.7,100.3 344.0,100.4 344.3,100.3 344.6,100.2 344.9,100.4 345.2,100.5 345.5,100.4 345.8,100.1 346.1,100.1 346.4,99.9 346.7,99.9 347.0,100.2 347.3,100.0 347.6,100.4 347.9,99.6 348.2,99.8 348.5,100.1 348.8,100.2 349.1,99.9 349.4,100.3 349.7,100.0 350.0,99.7 350.3,99.7 350.6,99.7 350.9,99.2 351.1,99.3 351.4,98.7 351.7,98.3 352.0,97.8 352.3,96.8 352.6,96.5 352.9,95.6 353.2,96.0 353.5,95.4 353.8,95.8 354.1,95.1 354.4,95.0 354.7,94.8 355.0,94.7 355.3,95.3 355.6,96.5 355.9,96.8 356.2,97.7 356.5,97.8 356.8,97.8 357.1,97.5 357.4,97.4 357.7,95.9 358.0,95.0 358.3,94.0 358.6,93.2 358.8,93.0 359.1,93.1 359.4,93.2 359.7,93.8 360.0,94.1 360.3,93.9 360.6,93.5 360.9,94.3 361.2,95.1 361.5,95.6 361.8,96.5 362.1,97.1 362.4,97.4 362.7,97.4 363.0,97.0 363.3,96.5 363.6,96.2 363.9,96.2 364.2,96.5 364.5,96.9 364.8,97.2 365.1,97.5 365.4,97.4 365.7,96.5 366.0,95.8 366.2,94.9 366.5,94.4 366.8,94.7 367.1,95.5 367.4,96.3 367.7,97.2 368.0,98.2 368.3,98.6 368.6,99.1 368.9,99.6 369.2,99.5 369.5,99.3 369.8,99.9 370.1,99.5 370.4,99.5 370.7,99.4 371.0,99.8 371.3,99.0 371.6,99.2 371.9,99.0 372.2,98.8 372.5,98.5 372.8,98.6 373.1,98.9 373.4,98.9 373.7,99.6 373.9,99.9 374.2,99.7 374.5,99.8 374.8,99.8 375.1,100.3 375.4,99.9 375.7,100.1 376.0,99.8 376.3,100.5 376.6,100.2 376.9,100.3 377.2,100.6 377.5,100.4 377.8,100.0 378.1,100.4 378.4,100.4 378.7,100.1 379.0,100.1 379.3,100.1 379.6,100.5 379.9,100.3 380.2,100.1 380.5,100.4 380.8,100.5 381.1,100.1 381.4,100.0 381.6,100.5 381.9,100.8 382.2,100.6 382.5,100.5 382.8,100.3 383.1,100.2 383.4,100.3 383.7,100.4 384.0,100.3 384.3,100.5 384.6,100.3 384.9,100.4 385.2,99.7 385.5,100.1 385.8,100.4 386.1,100.4 386.4,100.3 386.7,100.5 387.0,100.3 387.3,100.2 387.6,99.7 387.9,99.8 388.2,99.6 388.5,99.4 388.8,99.0 389.0,98.4 389.3,98.3 389.6,98.2 389.9,98.9 390.2,98.9 390.5,99.4 390.8,99.7 391.1,100.3 391.4,100.3 391.7,100.0 392.0,99.9 392.3,100.2 392.6,100.1 392.9,100.3 393.2,100.3 393.5,100.4 393.8,100.1 394.1,100.2 394.4,100.3 394.7,100.4 395.0,100.2 395.3,100.2 395.6,100.5 395.9,99.9 396.2,100.2 396.5,100.3 396.7,100.0 397.0,100.1 397.3,100.3 397.6,100.1 397.9,100.4 398.2,100.3 398.5,100.6 398.8,99.9 399.1,100.4 399.4,99.8 399.7,100.0 400.0,99.9 400.3,99.5 400.6,99.0 400.9,98.3 401.2,97.4 401.5,96.8 401.8,95.9 402.1,95.7 402.4,95.6 402.7,96.3 403.0,97.3 403.3,98.0 403.6,98.7 403.9,99.1 404.1,99.4 404.4,99.8 404.7,100.0 405.0,99.8 405.3,100.4 405.6,100.2 405.9,99.8 406.2,100.6 406.5,100.2 406.8,100.0 407.1,100.4 407.4,99.5 407.7,100.5 408.0,99.6 408.3,99.4 408.6,99.3 408.9,99.2 409.2,98.7 409.5,98.6 409.8,97.8 410.1,98.1 410.4,98.0 410.7,98.1 411.0,98.9 411.3,99.0 411.6,99.0 411.8,99.4 412.1,98.7 412.4,98.7 412.7,98.9 413.0,98.6 413.3,98.8 413.6,99.1 413.9,99.2 414.2,99.6 414.5,99.5 414.8,100.0 415.1,99.7 415.4,100.0 415.7,99.9 416.0,100.1 416.3,100.1 416.6,100.2 416.9,99.8 417.2,99.7 417.5,99.4 417.8,99.4 418.1,99.4 418.4,99.2 418.7,98.6 419.0,98.2 419.3,97.2 419.5,96.5 419.8,96.3 420.1,95.9 420.4,95.3 420.7,95.4 421.0,95.5 421.3,95.2 421.6,95.9 421.9,96.6 422.2,97.3 422.5,98.2 422.8,98.1 423.1,98.7 423.4,98.6 423.7,98.4 424.0,97.7 424.3,97.3 424.6,96.8 424.9,97.0 425.2,96.8 425.5,97.5 425.8,97.6 426.1,97.8 426.4,97.9 426.7,97.3 426.9,97.2 427.2,96.6 427.5,96.1 427.8,96.0 428.1,96.0 428.4,96.5 428.7,97.6 429.0,97.6 429.3,97.9 429.6,97.8 429.9,97.7 430.2,97.6 430.5,97.3 430.8,96.5 431.1,97.1 431.4,98.0 431.7,98.2 432.0,98.9 432.3,99.6 432.6,100.1 432.9,100.1 433.2,99.9 433.5,100.1 433.8,100.2 434.1,100.1 434.4,100.1 434.6,100.7 434.9,100.3 435.2,100.5 435.5,100.6 435.8,100.5 436.1,100.4 436.4,100.4 436.7,100.7 437.0,100.5 437.3,100.0 437.6,100.6 437.9,100.7 438.2,100.4 438.5,100.3 438.8,100.3 439.1,100.6 439.4,100.2 439.7,100.6 440.0,100.7 440.3,100.5 440.6,100.4 440.9,100.3 441.2,100.3 441.5,100.4 441.8,100.2 442.1,100.4 442.3,100.2 442.6,100.7 442.9,100.7 443.2,100.2 443.5,100.6 443.8,100.4 444.1,100.3 444.4,100.2 444.7,100.1 445.0,99.5 445.3,100.0 445.6,99.0 445.9,98.3 446.2,98.3 446.5,98.1 446.8,98.0 447.1,98.1 447.4,99.1 447.7,99.3 448.0,99.7 448.3,99.8 448.6,100.0 448.9,100.0 449.2,100.3 449.5,100.3 449.7,100.5 450.0,100.5 450.3,100.4 450.6,100.4 450.9,100.6 451.2,100.1 451.5,100.4 451.8,100.7 452.1,100.2 452.4,100.5 452.7,100.3 453.0,100.4 453.3,100.3 453.6,100.3 453.9,100.4 454.2,100.3 454.5,99.9 454.8,100.7 455.1,100.2 455.4,100.0 455.7,100.2 456.0,100.0 456.3,99.0 456.6,99.1 456.9,98.0 457.2,97.7 457.4,97.0 457.7,96.4 458.0,96.3 458.3,96.6 458.6,97.4 458.9,98.1 459.2,98.7 459.5,98.8 459.8,99.2 460.1,99.7 460.4,99.6 460.7,99.3 461.0,99.2 461.3,98.7 461.6,98.3 461.9,97.6 462.2,97.0 462.5,96.9 462.8,97.3 463.1,97.4 463.4,98.4 463.7,98.1 464.0,98.8 464.3,98.9 464.6,99.0 464.9,99.1 465.1,98.0 465.4,97.1 465.7,95.9 466.0,95.8 466.3,94.8 466.6,95.6 466.9,96.2 467.2,97.8 467.5,98.1 467.8,98.9 468.1,99.2 468.4,99.7 468.7,100.1 469.0,99.9 469.3,100.0 469.6,100.1 469.9,100.1 470.2,100.1 470.5,100.4 470.8,100.7 471.1,100.7 471.4,100.2 471.7,100.3 472.0,100.4 472.3,100.6 472.5,100.5 472.8,100.5 473.1,100.6 473.4,100.7 473.7,100.1 474.0,100.5 474.3,100.7 474.6,100.8 474.9,100.7 475.2,100.4 475.5,100.4 475.8,100.6 476.1,100.5 476.4,100.6 476.7,100.8 477.0,100.3 477.3,100.5 477.6,100.1 477.9,100.7 478.2,100.6 478.5,100.4 478.8,100.6 479.1,100.8 479.4,100.7 479.7,100.5 480.0,100.5 480.2,100.5 480.5,100.3 480.8,100.3 481.1,100.3 481.4,100.3 481.7,100.2 482.0,99.9 482.3,99.6 482.6,99.6 482.9,99.4 483.2,99.5 483.5,99.8 483.8,100.0 484.1,99.8 484.4,100.1 484.7,100.0 485.0,100.4 485.3,100.3 485.6,100.2 485.9,100.3 486.2,100.7 486.5,100.6 486.8,100.6 487.1,100.8 487.4,100.5 487.6,100.4 487.9,100.7 488.2,100.2 488.5,100.7 488.8,100.7 489.1,100.7 489.4,100.8 489.7,100.5 490.0,100.6 490.3,100.3 490.6,100.5 490.9,100.5 491.2,100.7 491.5,100.9 491.8,100.6 492.1,100.8 492.4,100.4 492.7,100.6 493.0,100.3 493.3,100.5 493.6,100.4 493.9,100.6 494.2,100.6 494.5,100.5 494.8,100.4 495.1,100.7 495.3,100.5 495.6,100.0 495.9,100.5 496.2,100.5 496.5,100.6 496.8,100.6 497.1,100.0 497.4,100.0 497.7,99.7 498.0,99.1 498.3,98.6 498.6,99.0 498.9,98.5 499.2,98.7 499.5,99.0 499.8,99.3 500.1,99.8 500.4,99.7 500.7,100.1 501.0,100.3 501.3,100.2 501.6,100.3 501.9,100.4 502.2,100.5 502.5,100.2 502.8,100.4 503.0,100.6 503.3,100.7 503.6,100.6 503.9,100.8 504.2,100.5 504.5,100.4 504.8,100.8 505.1,100.3 505.4,100.1 505.7,100.0 506.0,100.0 506.3,99.4 506.6,99.6 506.9,99.7 507.2,99.8 507.5,99.8 507.8,99.8 508.1,99.9 508.4,100.3 508.7,100.6 509.0,100.6 509.3,100.7 509.6,100.6 509.9,100.9 510.2,100.5 510.4,100.4 510.7,100.5 511.0,100.4 511.3,100.6 511.6,100.6 511.9,100.4 512.2,99.8 512.5,99.6 512.8,99.6 513.1,98.9 513.4,98.9 513.7,98.4 514.0,98.7 514.3,99.2 514.6,99.3 514.9,100.0 515.2,100.2 515.5,100.5 515.8,100.3 516.1,100.5 516.4,100.5 516.7,100.6 517.0,100.3 517.3,100.7 517.6,100.7 517.9,100.3 518.1,100.3 518.4,100.5 518.7,100.9 519.0,100.7 519.3,100.4 519.6,100.4 519.9,100.0 520.2,100.4 520.5,99.8 520.8,99.8 521.1,99.1 521.4,99.2 521.7,98.9 522.0,99.4 522.3,99.8 522.6,100.1 522.9,100.2 523.2,100.5 523.5,100.2 523.8,100.2 524.1,100.5 524.4,100.8 524.7,100.7 525.0,100.8 525.3,100.4 525.6,100.6 525.8,100.6 526.1,100.8 526.4,101.1 526.7,100.9 527.0,100.9 527.3,100.7 527.6,100.7 527.9,100.9 528.2,100.8 528.5,100.4 528.8,100.9 529.1,100.9 529.4,100.8 529.7,100.9 530.0,100.8 530.3,100.6 530.6,100.4 530.9,101.1 531.2,100.8 531.5,100.8 531.8,100.8 532.1,100.8 532.4,100.8 532.7,100.6 533.0,100.9 533.2,100.8 533.5,100.8 533.8,100.8 534.1,100.8 534.4,100.6 534.7,100.8 535.0,100.7 535.3,100.8 535.6,101.0 535.9,100.9 536.2,101.0 536.5,100.7 536.8,100.9"/>
<polyline fill="none" stroke="#f7a24a" stroke-width="2.2" stroke-linejoin="round" points="43.5,145.8 43.8,145.5 44.1,145.5 44.4,145.9 44.7,145.3 45.0,145.6 45.3,145.6 45.6,145.4 45.9,145.6 46.2,145.7 46.5,145.2 46.8,145.8 47.1,145.6 47.3,145.4 47.6,145.8 47.9,145.6 48.2,145.5 48.5,145.1 48.8,145.8 49.1,145.6 49.4,145.5 49.7,145.6 50.0,145.8 50.3,145.5 50.6,145.6 50.9,145.5 51.2,145.4 51.5,145.4 51.8,145.5 52.1,145.5 52.4,145.8 52.7,145.6 53.0,145.5 53.3,145.7 53.6,145.6 53.9,145.8 54.2,145.3 54.5,145.2 54.8,145.7 55.0,145.5 55.3,145.6 55.6,145.3 55.9,145.5 56.2,145.6 56.5,145.6 56.8,145.6 57.1,145.8 57.4,145.5 57.7,145.7 58.0,145.5 58.3,145.6 58.6,145.4 58.9,145.6 59.2,145.4 59.5,145.8 59.8,145.5 60.1,145.6 60.4,145.6 60.7,145.6 61.0,145.4 61.3,146.0 61.6,145.5 61.9,145.9 62.2,145.4 62.5,146.0 62.7,145.8 63.0,145.9 63.3,145.3 63.6,145.8 63.9,145.6 64.2,145.7 64.5,146.0 64.8,145.7 65.1,145.5 65.4,145.6 65.7,145.4 66.0,145.7 66.3,145.6 66.6,145.7 66.9,145.5 67.2,145.2 67.5,145.5 67.8,145.6 68.1,145.7 68.4,145.7 68.7,145.3 69.0,145.8 69.3,145.8 69.6,145.6 69.9,145.7 70.1,145.2 70.4,146.1 70.7,145.5 71.0,145.4 71.3,145.8 71.6,145.7 71.9,145.5 72.2,145.3 72.5,145.8 72.8,145.9 73.1,145.4 73.4,145.3 73.7,145.7 74.0,146.0 74.3,145.3 74.6,145.6 74.9,145.4 75.2,145.6 75.5,145.7 75.8,145.7 76.1,145.3 76.4,145.3 76.7,146.0 77.0,145.8 77.3,145.2 77.6,145.7 77.8,145.9 78.1,145.6 78.4,145.6 78.7,145.6 79.0,145.7 79.3,145.6 79.6,145.7 79.9,145.5 80.2,145.7 80.5,145.6 80.8,145.6 81.1,145.3 81.4,145.5 81.7,145.6 82.0,145.5 82.3,145.5 82.6,145.4 82.9,145.5 83.2,145.2 83.5,145.3 83.8,145.6 84.1,145.7 84.4,145.4 84.7,145.5 85.0,145.6 85.3,145.9 85.5,146.0 85.8,145.5 86.1,145.4 86.4,145.4 86.7,145.8 87.0,145.4 87.3,145.7 87.6,145.5 87.9,145.5 88.2,145.7 88.5,145.7 88.8,146.0 89.1,145.8 89.4,145.9 89.7,145.5 90.0,145.6 90.3,145.4 90.6,145.5 90.9,145.7 91.2,145.5 91.5,145.7 91.8,145.5 92.1,145.5 92.4,145.8 92.7,145.6 92.9,145.6 93.2,145.6 93.5,145.4 93.8,145.2 94.1,145.7 94.4,145.6 94.7,146.0 95.0,145.6 95.3,145.7 95.6,146.0 95.9,145.5 96.2,145.5 96.5,145.7 96.8,145.6 97.1,145.8 97.4,145.4 97.7,145.9 98.0,145.6 98.3,145.2 98.6,145.6 98.9,145.5 99.2,145.6 99.5,145.8 99.8,145.6 100.1,145.5 100.4,145.8 100.6,145.5 100.9,145.3 101.2,145.3 101.5,145.9 101.8,145.8 102.1,145.9 102.4,145.3 102.7,145.4 103.0,145.4 103.3,145.7 103.6,145.8 103.9,145.5 104.2,145.5 104.5,145.7 104.8,145.5 105.1,145.4 105.4,145.5 105.7,145.7 106.0,146.0 106.3,145.6 106.6,145.5 106.9,145.6 107.2,145.6 107.5,145.6 107.8,145.4 108.0,145.5 108.3,145.5 108.6,145.7 108.9,145.6 109.2,145.4 109.5,145.6 109.8,145.7 110.1,145.5 110.4,145.1 110.7,145.3 111.0,144.9 111.3,145.1 111.6,145.0 111.9,145.0 112.2,144.5 112.5,143.6 112.8,143.3 113.1,142.7 113.4,142.4 113.7,142.6 114.0,143.1 114.3,143.5 114.6,143.9 114.9,144.4 115.2,144.7 115.5,145.0 115.7,145.3 116.0,145.3 116.3,145.5 116.6,145.1 116.9,145.8 117.2,145.4 117.5,144.9 117.8,145.5 118.1,145.6 118.4,145.4 118.7,145.2 119.0,145.5 119.3,145.3 119.6,145.4 119.9,145.5 120.2,144.8 120.5,145.4 120.8,145.5 121.1,145.5 121.4,145.3 121.7,145.3 122.0,145.2 122.3,145.4 122.6,145.7 122.9,145.3 123.2,145.4 123.4,145.4 123.7,145.6 124.0,145.4 124.3,145.4 124.6,145.2 124.9,145.5 125.2,145.1 125.5,145.0 125.8,145.1 126.1,144.9 126.4,144.7 126.7,144.0 127.0,144.2 127.3,143.1 127.6,142.6 127.9,141.6 128.2,140.9 128.5,141.2 128.8,141.5 129.1,142.3 129.4,142.2 129.7,142.7 130.0,142.7 130.3,142.9 130.6,142.1 130.8,140.5 131.1,139.1 131.4,137.0 131.7,134.8 132.0,133.6 132.3,132.9 132.6,134.3 132.9,136.3 133.2,138.7 133.5,140.4 133.8,142.1 134.1,142.8 134.4,143.5 134.7,144.0 135.0,144.3 135.3,144.5 135.6,145.3 135.9,144.7 136.2,145.0 136.5,145.0 136.8,145.2 137.1,145.4 137.4,145.3 137.7,145.1 138.0,145.0 138.3,145.4 138.5,145.5 138.8,145.0 139.1,145.5 139.4,144.9 139.7,145.3 140.0,145.5 140.3,145.2 140.6,145.0 140.9,145.7 141.2,145.1 141.5,145.5 141.8,145.1 142.1,145.5 142.4,145.7 142.7,145.3 143.0,145.2 143.3,145.0 143.6,145.1 143.9,145.3 144.2,145.4 144.5,145.5 144.8,145.5 145.1,145.6 145.4,145.4 145.7,145.9 146.0,145.3 146.2,145.4 146.5,144.8 146.8,145.2 147.1,145.4 147.4,145.2 147.7,145.5 148.0,145.4 148.3,145.6 148.6,145.0 148.9,145.1 149.2,145.4 149.5,145.2 149.8,144.9 150.1,145.0 150.4,144.9 150.7,145.1 151.0,145.0 151.3,144.7 151.6,144.4 151.9,144.6 152.2,144.4 152.5,143.5 152.8,143.4 153.1,142.1 153.4,140.9 153.6,138.9 153.9,136.4 154.2,133.8 154.5,131.2 154.8,129.9 155.1,130.2 155.4,131.9 155.7,134.4 156.0,137.0 156.3,138.9 156.6,140.8 156.9,141.7 157.2,141.9 157.5,142.0 157.8,141.6 158.1,141.1 158.4,139.9 158.7,139.7 159.0,139.4 159.3,140.4 159.6,140.8 159.9,142.3 160.2,142.8 160.5,144.0 160.8,144.2 161.1,144.2 161.3,144.9 161.6,144.8 161.9,145.1 162.2,145.5 162.5,145.0 162.8,145.1 163.1,145.4 163.4,145.1 163.7,145.4 164.0,145.5 164.3,145.3 164.6,145.5 164.9,144.9 165.2,145.7 165.5,145.2 165.8,145.2 166.1,145.8 166.4,145.8 166.7,145.3 167.0,145.5 167.3,145.4 167.6,145.2 167.9,145.5 168.2,145.7 168.5,146.0 168.8,145.4 169.0,145.7 169.3,145.4 169.6,145.4 169.9,145.8 170.2,145.1 170.5,145.3 170.8,145.3 171.1,145.7 171.4,145.6 171.7,145.6 172.0,145.6 172.3,145.7 172.6,145.4 172.9,145.5 173.2,145.4 173.5,145.6 173.8,145.2 174.1,145.5 174.4,146.1 174.7,145.6 175.0,145.5 175.3,145.3 175.6,145.6 175.9,145.6 176.2,145.6 176.4,145.4 176.7,145.6 177.0,145.6 177.3,145.7 177.6,145.4 177.9,145.6 178.2,145.8 178.5,145.4 178.8,145.7 179.1,145.4 179.4,145.4 179.7,145.3 180.0,145.3 180.3,145.6 180.6,145.5 180.9,145.8 181.2,145.2 181.5,145.4 181.8,145.2 182.1,145.6 182.4,145.9 182.7,145.2 183.0,145.5 183.3,145.5 183.6,145.5 183.9,145.4 184.1,145.4 184.4,145.8 184.7,145.3 185.0,145.6 185.3,145.6 185.6,145.1 185.9,145.3 186.2,145.5 186.5,145.8 186.8,145.4 187.1,145.3 187.4,145.4 187.7,145.7 188.0,145.5 188.3,145.6 188.6,145.3 188.9,145.2 189.2,145.1 189.5,145.4 189.8,145.2 190.1,145.1 190.4,145.3 190.7,145.1 191.0,144.6 191.3,144.8 191.5,144.5 191.8,144.5 192.1,144.0 192.4,143.7 192.7,142.5 193.0,141.2 193.3,139.9 193.6,139.1 193.9,138.8 194.2,139.3 194.5,140.3 194.8,141.4 195.1,142.2 195.4,143.3 195.7,143.4 196.0,144.1 196.3,144.2 196.6,143.9 196.9,143.7 197.2,143.2 197.5,142.3 197.8,142.3 198.1,142.3 198.4,142.5 198.7,143.0 199.0,143.9 199.2,144.0 199.5,144.5 199.8,144.8 200.1,144.9 200.4,145.3 200.7,145.3 201.0,145.2 201.3,145.1 201.6,145.3 201.9,145.3 202.2,145.1 202.5,145.0 202.8,145.1 203.1,145.0 203.4,145.4 203.7,145.3 204.0,145.2 204.3,145.3 204.6,145.4 204.9,144.9 205.2,145.3 205.5,145.4 205.8,145.1 206.1,144.8 206.4,145.1 206.7,144.9 206.9,145.2 207.2,145.1 207.5,145.1 207.8,144.9 208.1,144.4 208.4,144.9 208.7,144.3 209.0,144.6 209.3,144.2 209.6,143.7 209.9,143.2 210.2,142.4 210.5,141.6 210.8,139.4 211.1,137.4 211.4,133.8 211.7,131.5 212.0,129.3 212.3,129.2 212.6,130.7 212.9,133.6 213.2,136.1 213.5,138.8 213.8,140.6 214.1,142.2 214.3,143.1 214.6,143.4 214.9,144.2 215.2,144.7 215.5,144.4 215.8,144.8 216.1,144.8 216.4,144.6 216.7,145.0 217.0,144.7 217.3,145.1 217.6,144.7 217.9,144.8 218.2,145.1 218.5,145.1 218.8,145.2 219.1,145.0 219.4,144.9 219.7,145.4 220.0,144.9 220.3,145.3 220.6,145.2 220.9,145.4 221.2,144.6 221.5,145.0 221.8,144.9 222.0,145.1 222.3,144.7 222.6,145.2 222.9,144.6 223.2,144.0 223.5,144.2 223.8,143.8 224.1,143.2 224.4,142.9 224.7,142.2 225.0,141.7 225.3,141.8 225.6,141.9 225.9,142.2 226.2,142.2 226.5,142.4 226.8,142.4 227.1,142.7 227.4,143.1 227.7,143.6 228.0,143.0 228.3,142.8 228.6,142.8 228.9,142.4 229.2,141.3 229.5,139.4 229.7,137.5 230.0,134.0 230.3,129.5 230.6,123.9 230.9,118.7 231.2,114.7 231.5,114.1 231.8,116.6 232.1,121.9 232.4,127.5 232.7,132.3 233.0,135.6 233.3,137.6 233.6,139.0 233.9,139.1 234.2,139.0 234.5,138.7 234.8,138.5 235.1,138.9 235.4,140.0 235.7,140.9 236.0,141.4 236.3,142.9 236.6,143.4 236.9,143.5 237.1,144.0 237.4,144.4 237.7,144.6 238.0,144.3 238.3,144.3 238.6,144.3 238.9,144.5 239.2,144.3 239.5,144.7 239.8,144.4 240.1,144.4 240.4,144.0 240.7,143.5 241.0,142.9 241.3,142.7 241.6,141.4 241.9,141.0 242.2,140.6 242.5,140.5 242.8,141.2 243.1,141.6 243.4,142.1 243.7,142.5 244.0,142.3 244.3,142.2 244.6,141.7 244.8,141.4 245.1,140.8 245.4,141.1 245.7,141.6 246.0,142.2 246.3,142.8 246.6,143.7 246.9,144.1 247.2,144.1 247.5,144.1 247.8,144.2 248.1,144.1 248.4,143.9 248.7,144.0 249.0,143.9 249.3,143.9 249.6,143.5 249.9,142.8 250.2,141.7 250.5,140.2 250.8,138.2 251.1,135.4 251.4,131.9 251.7,128.5 252.0,125.9 252.3,125.5 252.5,127.6 252.8,131.1 253.1,134.3 253.4,137.3 253.7,139.8 254.0,141.5 254.3,142.1 254.6,143.5 254.9,143.8 255.2,144.1 255.5,144.6 255.8,144.5 256.1,144.3 256.4,144.6 256.7,144.7 257.0,144.8 257.3,145.0 257.6,144.9 257.9,145.1 258.2,145.2 258.5,145.1 258.8,145.0 259.1,145.2 259.4,145.1 259.7,145.7 259.9,145.1 260.2,144.8 260.5,145.1 260.8,145.4 261.1,145.5 261.4,145.3 261.7,145.6 262.0,145.2 262.3,145.5 262.6,145.2 262.9,145.1 263.2,145.8 263.5,145.4 263.8,145.6 264.1,145.7 264.4,145.6 264.7,145.5 265.0,145.2 265.3,145.8 265.6,145.2 265.9,145.1 266.2,145.3 266.5,145.4 266.8,145.5 267.1,145.7 267.4,145.4 267.6,145.4 267.9,145.3 268.2,145.0 268.5,145.3 268.8,145.4 269.1,145.2 269.4,145.8 269.7,145.7 270.0,145.6 270.3,145.6 270.6,145.4 270.9,145.6 271.2,145.1 271.5,145.2 271.8,145.3 272.1,145.6 272.4,145.4 272.7,145.3 273.0,145.7 273.3,145.4 273.6,145.4 273.9,145.4 274.2,145.2 274.5,145.2 274.8,145.7 275.1,145.5 275.3,145.7 275.6,145.4 275.9,145.7 276.2,145.3 276.5,145.4 276.8,145.3 277.1,145.5 277.4,145.7 277.7,145.1 278.0,145.5 278.3,145.2 278.6,145.3 278.9,145.3 279.2,145.0 279.5,145.3 279.8,145.1 280.1,145.6 280.4,145.1 280.7,145.3 281.0,145.3 281.3,145.2 281.6,145.1 281.9,144.7 282.2,145.3 282.5,144.7 282.7,144.5 283.0,143.7 283.3,143.3 283.6,142.2 283.9,141.3 284.2,139.9 284.5,139.0 284.8,139.2 285.1,139.7 285.4,141.1 285.7,141.9 286.0,142.8 286.3,143.8 286.6,144.0 286.9,145.0 287.2,145.2 287.5,145.3 287.8,145.2 288.1,145.2 288.4,145.2 288.7,145.3 289.0,145.2 289.3,145.4 289.6,145.6 289.9,145.6 290.2,145.0 290.4,145.9 290.7,145.5 291.0,145.1 291.3,145.3 291.6,145.6 291.9,145.5 292.2,145.3 292.5,145.2 292.8,145.6 293.1,145.3 293.4,145.4 293.7,145.2 294.0,145.2 294.3,145.5 294.6,145.8 294.9,145.4 295.2,145.1 295.5,145.3 295.8,145.4 296.1,145.0 296.4,145.7 296.7,145.3 297.0,145.5 297.3,145.4 297.6,145.4 297.8,145.0 298.1,145.4 298.4,145.3 298.7,145.3 299.0,144.7 299.3,144.7 299.6,144.3 299.9,144.5 300.2,144.4 300.5,144.3 300.8,144.7 301.1,144.7 301.4,144.9 301.7,145.2 302.0,145.5 302.3,145.1 302.6,145.3 302.9,145.1 303.2,145.7 303.5,145.7 303.8,145.7 304.1,145.5 304.4,145.1 304.7,145.1 305.0,145.2 305.3,145.1 305.5,144.9 305.8,145.0 306.1,144.7 306.4,144.4 306.7,144.4 307.0,143.5 307.3,142.3 307.6,141.6 307.9,140.5 308.2,139.8 308.5,139.7 308.8,139.9 309.1,141.2 309.4,142.4 309.7,143.7 310.0,143.9 310.3,144.7 310.6,145.0 310.9,144.7 311.2,144.9 311.5,145.5 311.8,145.0 312.1,145.1 312.4,145.4 312.7,145.1 313.0,145.6 313.2,145.6 313.5,145.6 313.8,145.6 314.1,145.2 314.4,145.6 314.7,145.5 315.0,145.4 315.3,145.2 315.6,145.2 315.9,144.8 316.2,144.9 316.5,144.7 316.8,144.3 317.1,144.0 317.4,144.2 317.7,144.1 318.0,144.0 318.3,144.8 318.6,144.9 318.9,144.8 319.2,145.3 319.5,145.4 319.8,145.5 320.1,145.3 320.4,145.3 320.6,145.4 320.9,145.4 321.2,145.2 321.5,145.2 321.8,145.7 322.1,145.4 322.4,145.4 322.7,145.2 323.0,145.4 323.3,145.5 323.6,145.4 323.9,145.6 324.2,145.1 324.5,145.0 324.8,144.5 325.1,144.5 325.4,143.9 325.7,143.6 326.0,143.3 326.3,142.9 326.6,143.4 326.9,143.6 327.2,144.4 327.5,144.5 327.8,145.2 328.1,145.1 328.3,145.3 328.6,145.2 328.9,145.3 329.2,145.4 329.5,145.2 329.8,145.4 330.1,145.3 330.4,145.3 330.7,145.5 331.0,145.5 331.3,145.4 331.6,145.6 331.9,145.4 332.2,145.3 332.5,145.3 332.8,145.6 333.1,145.8 333.4,145.5 333.7,145.5 334.0,145.3 334.3,145.6 334.6,145.6 334.9,145.4 335.2,145.6 335.5,145.5 335.8,145.2 336.0,145.2 336.3,145.4 336.6,145.5 336.9,145.7 337.2,145.4 337.5,145.5 337.8,145.5 338.1,145.6 338.4,145.5 338.7,145.5 339.0,145.4 339.3,145.2 339.6,145.4 339.9,145.8 340.2,145.7 340.5,145.8 340.8,145.7 341.1,145.4 341.4,145.4 341.7,145.6 342.0,145.4 342.3,145.6 342.6,145.8 342.9,145.8 343.2,145.6 343.4,145.2 343.7,145.7 344.0,145.2 344.3,145.2 344.6,145.5 344.9,145.4 345.2,145.5 345.5,145.4 345.8,145.3 346.1,145.4 346.4,145.2 346.7,145.1 347.0,145.3 347.3,145.3 347.6,145.3 347.9,145.2 348.2,145.5 348.5,145.2 348.8,145.2 349.1,145.3 349.4,144.7 349.7,145.2 350.0,145.1 350.3,144.8 350.6,145.1 350.9,144.6 351.1,144.4 351.4,143.8 351.7,143.0 352.0,142.1 352.3,141.1 352.6,140.4 352.9,139.9 353.2,139.9 353.5,140.0 353.8,139.5 354.1,139.3 354.4,138.7 354.7,138.0 355.0,138.4 355.3,139.4 355.6,140.3 355.9,141.2 356.2,142.4 356.5,142.5 356.8,142.8 357.1,142.2 357.4,141.6 357.7,140.2 358.0,139.0 358.3,137.8 358.6,136.4 358.8,136.2 359.1,136.2 359.4,136.7 359.7,137.3 360.0,137.9 360.3,137.5 360.6,137.3 360.9,137.9 361.2,138.7 361.5,140.3 361.8,140.8 362.1,141.6 362.4,141.7 362.7,141.5 363.0,141.0 363.3,140.8 363.6,140.3 363.9,140.7 364.2,141.1 364.5,141.3 364.8,141.7 365.1,142.0 365.4,141.5 365.7,140.6 366.0,139.3 366.2,138.4 366.5,137.9 366.8,138.6 367.1,139.2 367.4,140.4 367.7,141.6 368.0,142.6 368.3,143.5 368.6,143.6 368.9,144.0 369.2,144.6 369.5,144.9 369.8,144.4 370.1,144.9 370.4,144.6 370.7,144.4 371.0,144.8 371.3,144.4 371.6,144.2 371.9,143.7 372.2,143.5 372.5,143.0 372.8,143.3 373.1,143.7 373.4,143.8 373.7,144.4 373.9,144.8 374.2,144.5 374.5,145.2 374.8,145.3 375.1,145.2 375.4,145.5 375.7,145.7 376.0,145.1 376.3,145.5 376.6,145.5 376.9,145.5 377.2,145.6 377.5,145.6 377.8,145.4 378.1,145.0 378.4,145.3 378.7,145.3 379.0,145.8 379.3,145.5 379.6,145.7 379.9,145.3 380.2,145.5 380.5,145.5 380.8,145.5 381.1,145.6 381.4,145.8 381.6,145.4 381.9,145.7 382.2,145.7 382.5,145.5 382.8,145.6 383.1,145.4 383.4,145.3 383.7,145.4 384.0,145.4 384.3,145.4 384.6,145.3 384.9,145.8 385.2,145.3 385.5,145.6 385.8,145.6 386.1,145.4 386.4,145.4 386.7,145.2 387.0,145.0 387.3,145.6 387.6,145.0 387.9,144.3 388.2,144.2 388.5,143.6 388.8,143.5 389.0,143.4 389.3,143.1 389.6,142.9 389.9,143.3 390.2,144.1 390.5,144.4 390.8,144.6 391.1,145.3 391.4,145.2 391.7,144.9 392.0,144.8 392.3,145.3 392.6,145.0 392.9,145.5 393.2,145.5 393.5,145.8 393.8,145.2 394.1,145.5 394.4,144.9 394.7,145.3 395.0,145.4 395.3,145.8 395.6,145.1 395.9,145.5 396.2,145.4 396.5,145.8 396.7,145.2 397.0,145.2 397.3,145.5 397.6,145.3 397.9,145.2 398.2,145.1 398.5,145.2 398.8,144.8 399.1,145.2 399.4,145.1 399.7,145.0 400.0,145.2 400.3,144.5 400.6,143.6 400.9,143.0 401.2,142.3 401.5,141.1 401.8,140.5 402.1,139.6 402.4,139.6 402.7,140.3 403.0,141.6 403.3,142.3 403.6,142.9 403.9,144.0 404.1,144.2 404.4,145.0 404.7,145.2 405.0,144.8 405.3,145.0 405.6,145.0 405.9,145.2 406.2,145.2 406.5,145.0 406.8,144.8 407.1,145.1 407.4,145.4 407.7,144.7 408.0,144.7 408.3,144.5 408.6,144.4 408.9,143.5 409.2,143.5 409.5,142.9 409.8,142.9 410.1,142.4 410.4,142.6 410.7,142.8 411.0,143.2 411.3,143.8 411.6,143.5 411.8,144.1 412.1,143.8 412.4,143.4 412.7,143.5 413.0,143.1 413.3,143.2 413.6,143.7 413.9,143.6 414.2,144.3 414.5,144.5 414.8,145.0 415.1,145.2 415.4,145.1 415.7,145.1 416.0,145.1 416.3,144.8 416.6,145.5 416.9,145.2 417.2,145.2 417.5,144.5 417.8,144.7 418.1,144.4 418.4,144.1 418.7,143.2 419.0,142.7 419.3,141.7 419.5,141.3 419.8,139.8 420.1,139.5 420.4,139.3 420.7,139.1 421.0,139.3 421.3,139.3 421.6,139.6 421.9,140.5 422.2,141.5 422.5,142.3 422.8,142.9 423.1,142.9 423.4,142.8 423.7,142.7 424.0,141.8 424.3,141.9 424.6,141.1 424.9,140.4 425.2,141.0 425.5,141.8 425.8,141.7 426.1,142.2 426.4,142.6 426.7,141.9 426.9,141.7 427.2,141.1 427.5,140.2 427.8,140.0 428.1,140.4 428.4,140.9 428.7,141.8 429.0,142.2 429.3,142.5 429.6,142.3 429.9,142.2 430.2,141.9 430.5,141.5 430.8,141.1 431.1,141.1 431.4,141.9 431.7,142.9 432.0,143.3 432.3,144.3 432.6,144.2 432.9,144.8 433.2,144.7 433.5,144.9 433.8,145.2 434.1,145.1 434.4,145.4 434.6,145.3 434.9,145.1 435.2,144.5 435.5,145.2 435.8,145.3 436.1,145.6 436.4,145.2 436.7,145.7 437.0,145.6 437.3,145.3 437.6,145.7 437.9,145.1 438.2,145.2 438.5,145.5 438.8,145.5 439.1,145.7 439.4,145.7 439.7,145.3 440.0,145.3 440.3,145.4 440.6,145.4 440.9,145.5 441.2,145.4 441.5,145.7 441.8,145.4 442.1,145.1 442.3,145.1 442.6,145.5 442.9,145.4 443.2,145.1 443.5,144.9 443.8,145.6 444.1,145.3 444.4,145.0 444.7,144.7 445.0,144.8 445.3,144.2 445.6,143.9 445.9,142.8 446.2,142.7 446.5,142.6 446.8,142.7 447.1,142.8 447.4,143.4 447.7,144.2 448.0,144.4 448.3,145.0 448.6,145.1 448.9,145.4 449.2,145.5 449.5,145.4 449.7,145.5 450.0,145.2 450.3,145.2 450.6,145.4 450.9,145.6 451.2,145.2 451.5,145.8 451.8,145.7 452.1,145.2 452.4,145.2 452.7,145.1 453.0,145.4 453.3,145.6 453.6,145.4 453.9,145.2 454.2,145.4 454.5,145.3 454.8,145.4 455.1,145.3 455.4,144.8 455.7,144.7 456.0,144.8 456.3,144.4 456.6,143.7 456.9,142.8 457.2,142.3 457.4,141.2 457.7,141.0 458.0,140.6 458.3,140.8 458.6,141.5 458.9,142.7 459.2,143.4 459.5,143.6 459.8,144.1 460.1,144.3 460.4,144.1 460.7,144.0 461.0,143.4 461.3,143.0 461.6,142.6 461.9,141.8 462.2,141.3 462.5,141.4 462.8,141.7 463.1,141.9 463.4,143.1 463.7,143.1 464.0,143.5 464.3,143.7 464.6,143.3 464.9,142.9 465.1,142.0 465.4,141.4 465.7,140.2 466.0,139.3 466.3,138.5 466.6,139.1 466.9,140.5 467.2,141.5 467.5,142.7 467.8,143.4 468.1,144.0 468.4,144.0 468.7,145.1 469.0,144.7 469.3,144.9 469.6,145.2 469.9,145.2 470.2,145.3 470.5,145.3 470.8,145.1 471.1,145.6 471.4,145.1 471.7,145.4 472.0,145.1 472.3,145.3 472.5,145.2 472.8,145.3 473.1,145.2 473.4,145.4 473.7,145.6 474.0,145.3 474.3,145.3 474.6,145.1 474.9,145.9 475.2,145.5 475.5,145.3 475.8,145.7 476.1,145.5 476.4,145.1 476.7,145.2 477.0,145.7 477.3,145.2 477.6,145.3 477.9,145.3 478.2,145.4 478.5,145.4 478.8,145.7 479.1,145.6 479.4,145.3 479.7,145.4 480.0,145.1 480.2,145.5 480.5,145.9 480.8,145.4 481.1,145.2 481.4,145.1 481.7,145.0 482.0,145.0 482.3,144.2 482.6,144.4 482.9,144.0 483.2,144.1 483.5,144.5 483.8,144.2 484.1,145.2 484.4,145.1 484.7,145.0 485.0,145.3 485.3,145.2 485.6,145.4 485.9,145.5 486.2,145.0 486.5,145.5 486.8,145.5 487.1,145.7 487.4,145.7 487.6,145.4 487.9,145.4 488.2,145.5 488.5,145.7 488.8,145.4 489.1,145.9 489.4,145.6 489.7,145.6 490.0,145.7 490.3,145.5 490.6,145.7 490.9,145.7 491.2,145.2 491.5,145.4 491.8,145.3 492.1,145.5 492.4,145.3 492.7,145.4 493.0,145.3 493.3,145.0 493.6,145.5 493.9,145.4 494.2,145.5 494.5,146.2 494.8,145.7 495.1,145.4 495.3,145.3 495.6,145.5 495.9,145.1 496.2,145.1 496.5,145.3 496.8,144.9 497.1,144.6 497.4,144.7 497.7,144.6 498.0,143.7 498.3,143.6 498.6,143.3 498.9,143.0 499.2,143.3 499.5,143.4 499.8,143.9 500.1,144.2 500.4,144.6 500.7,145.1 501.0,145.2 501.3,145.1 501.6,145.4 501.9,144.8 502.2,145.4 502.5,145.5 502.8,145.2 503.0,145.2 503.3,145.4 503.6,145.4 503.9,145.3 504.2,145.2 504.5,145.2 504.8,145.3 505.1,145.0 505.4,144.8 505.7,144.6 506.0,145.1 506.3,144.4 506.6,144.2 506.9,144.1 507.2,144.1 507.5,144.2 507.8,144.6 508.1,144.9 508.4,145.1 508.7,144.8 509.0,145.4 509.3,145.3 509.6,145.0 509.9,145.3 510.2,145.8 510.4,145.3 510.7,145.4 511.0,145.3 511.3,145.0 511.6,145.0 511.9,145.0 512.2,144.5 512.5,144.3 512.8,144.0 513.1,143.5 513.4,143.1 513.7,143.1 514.0,143.3 514.3,143.6 514.6,144.2 514.9,144.7 515.2,144.5 515.5,145.0 515.8,145.1 516.1,145.3 516.4,145.3 516.7,145.3 517.0,145.3 517.3,145.5 517.6,145.2 517.9,145.5 518.1,145.2 518.4,145.8 518.7,145.6 519.0,145.1 519.3,145.3 519.6,145.3 519.9,145.0 520.2,145.0 520.5,144.5 520.8,144.7 521.1,144.0 521.4,143.7 521.7,143.5 522.0,143.6 522.3,144.3 522.6,144.1 522.9,144.9 523.2,145.4 523.5,145.6 523.8,145.0 524.1,145.4 524.4,145.5 524.7,145.6 525.0,145.7 525.3,145.2 525.6,145.5 525.8,145.1 526.1,145.6 526.4,146.0 526.7,145.4 527.0,145.6 527.3,145.6 527.6,145.2 527.9,145.6 528.2,145.3 528.5,145.6 528.8,145.7 529.1,145.5 529.4,145.7 529.7,145.3 530.0,145.4 530.3,145.6 530.6,145.4 530.9,145.5 531.2,145.6 531.5,145.4 531.8,145.6 532.1,145.4 532.4,145.8 532.7,145.6 533.0,145.5 533.2,145.7 533.5,145.7 533.8,145.7 534.1,145.4 534.4,145.7 534.7,145.5 535.0,145.3 535.3,145.5 535.6,145.9 535.9,145.6 536.2,145.4 536.5,145.6 536.8,145.4"/>
<polyline fill="none" stroke="#4ea2f0" stroke-width="2.2" stroke-linejoin="round" points="43.5,182.1 43.8,182.1 44.1,182.2 44.4,182.3 44.7,182.2 45.0,182.2 45.3,182.1 45.6,182.1 45.9,182.3 46.2,182.2 46.5,182.1 46.8,182.5 47.1,182.3 47.3,182.4 47.6,182.2 47.9,182.2 48.2,182.2 48.5,182.4 48.8,182.1 49.1,182.1 49.4,182.5 49.7,182.2 50.0,182.4 50.3,181.9 50.6,182.3 50.9,182.3 51.2,182.2 51.5,182.2 51.8,182.2 52.1,181.9 52.4,182.1 52.7,182.0 53.0,182.0 53.3,182.4 53.6,181.9 53.9,182.1 54.2,182.0 54.5,182.4 54.8,182.0 55.0,182.1 55.3,182.3 55.6,181.7 55.9,182.1 56.2,182.2 56.5,182.2 56.8,182.0 57.1,182.0 57.4,182.1 57.7,181.9 58.0,181.9 58.3,182.4 58.6,182.3 58.9,182.4 59.2,182.2 59.5,181.9 59.8,182.1 60.1,182.4 60.4,182.2 60.7,182.0 61.0,182.3 61.3,182.2 61.6,182.1 61.9,182.6 62.2,182.0 62.5,182.1 62.7,182.1 63.0,182.4 63.3,182.3 63.6,182.3 63.9,182.1 64.2,182.2 64.5,182.2 64.8,181.8 65.1,181.9 65.4,182.3 65.7,182.3 66.0,181.8 66.3,182.3 66.6,181.9 66.9,181.9 67.2,182.3 67.5,182.2 67.8,182.2 68.1,182.4 68.4,182.4 68.7,182.3 69.0,182.0 69.3,182.3 69.6,182.2 69.9,182.3 70.1,182.5 70.4,181.9 70.7,182.7 71.0,182.3 71.3,182.1 71.6,182.5 71.9,182.1 72.2,181.9 72.5,182.4 72.8,182.1 73.1,182.4 73.4,182.1 73.7,182.2 74.0,182.1 74.3,181.9 74.6,182.1 74.9,181.9 75.2,182.1 75.5,182.4 75.8,182.1 76.1,182.1 76.4,182.5 76.7,181.9 77.0,182.2 77.3,182.1 77.6,182.4 77.8,182.2 78.1,182.1 78.4,182.3 78.7,182.2 79.0,182.6 79.3,181.9 79.6,182.4 79.9,182.6 80.2,182.4 80.5,182.4 80.8,182.1 81.1,182.4 81.4,182.1 81.7,182.4 82.0,181.7 82.3,182.1 82.6,181.8 82.9,182.4 83.2,182.1 83.5,182.4 83.8,182.1 84.1,182.0 84.4,182.5 84.7,182.4 85.0,182.4 85.3,182.5 85.5,182.3 85.8,182.4 86.1,182.5 86.4,182.2 86.7,182.1 87.0,182.4 87.3,182.3 87.6,182.2 87.9,182.2 88.2,182.3 88.5,182.0 88.8,182.0 89.1,182.0 89.4,182.2 89.7,181.8 90.0,181.8 90.3,182.3 90.6,182.2 90.9,181.9 91.2,182.3 91.5,182.1 91.8,182.2 92.1,182.3 92.4,182.2 92.7,182.5 92.9,182.3 93.2,182.6 93.5,181.7 93.8,181.9 94.1,181.9 94.4,182.1 94.7,182.0 95.0,181.9 95.3,182.0 95.6,182.0 95.9,182.4 96.2,182.1 96.5,182.3 96.8,182.4 97.1,182.4 97.4,182.1 97.7,182.0 98.0,182.4 98.3,181.8 98.6,181.9 98.9,182.3 99.2,182.3 99.5,182.2 99.8,182.0 100.1,182.2 100.4,182.4 100.6,182.1 100.9,182.6 101.2,182.1 101.5,181.9 101.8,182.1 102.1,182.0 102.4,182.1 102.7,182.0 103.0,182.1 103.3,182.3 103.6,182.2 103.9,182.2 104.2,181.9 104.5,181.8 104.8,182.1 105.1,182.3 105.4,182.3 105.7,182.2 106.0,181.9 106.3,182.1 106.6,182.1 106.9,182.3 107.2,182.0 107.5,182.1 107.8,182.1 108.0,182.1 108.3,181.8 108.6,182.1 108.9,181.8 109.2,181.8 109.5,182.1 109.8,181.9 110.1,182.0 110.4,182.2 110.7,182.0 111.0,182.1 111.3,181.7 111.6,181.7 111.9,181.3 112.2,181.0 112.5,181.4 112.8,180.3 113.1,180.3 113.4,179.7 113.7,179.9 114.0,180.0 114.3,180.2 114.6,181.2 114.9,181.2 115.2,181.5 115.5,182.1 115.7,181.7 116.0,181.9 116.3,182.0 116.6,182.1 116.9,181.4 117.2,182.1 117.5,182.4 117.8,182.2 118.1,182.1 118.4,182.1 118.7,182.1 119.0,182.3 119.3,182.0 119.6,182.2 119.9,182.3 120.2,182.2 120.5,182.1 120.8,181.9 121.1,182.0 121.4,182.1 121.7,182.0 122.0,182.0 122.3,181.6 122.6,182.1 122.9,181.9 123.2,181.9 123.4,182.2 123.7,181.9 124.0,181.9 124.3,182.0 124.6,181.8 124.9,181.6 125.2,181.6 125.5,181.8 125.8,181.6 126.1,181.0 126.4,181.5 126.7,181.0 127.0,180.4 127.3,180.0 127.6,179.3 127.9,178.8 128.2,178.3 128.5,178.2 128.8,178.9 129.1,179.3 129.4,179.7 129.7,180.1 130.0,180.0 130.3,180.0 130.6,179.1 130.8,178.0 131.1,176.7 131.4,175.1 131.7,173.9 132.0,172.2 132.3,172.5 132.6,173.3 132.9,174.6 133.2,176.9 133.5,178.0 133.8,179.2 134.1,180.2 134.4,180.9 134.7,181.0 135.0,181.4 135.3,181.2 135.6,181.3 135.9,181.9 136.2,181.8 136.5,181.8 136.8,182.0 137.1,182.1 137.4,181.9 137.7,181.9 138.0,182.3 138.3,182.0 138.5,181.9 138.8,182.2 139.1,182.2 139.4,181.7 139.7,181.7 140.0,182.3 140.3,182.3 140.6,181.9 140.9,182.3 141.2,182.1 141.5,182.1 141.8,181.9 142.1,182.5 142.4,182.5 142.7,182.3 143.0,181.8 143.3,182.1 143.6,182.4 143.9,181.9 144.2,181.9 144.5,182.1 144.8,182.1 145.1,181.9 145.4,181.8 145.7,182.0 146.0,181.9 146.2,182.0 146.5,182.1 146.8,182.2 147.1,181.9 147.4,182.0 147.7,182.0 148.0,181.8 148.3,181.8 148.6,181.7 148.9,182.2 149.2,181.8 149.5,182.0 149.8,182.0 150.1,181.9 150.4,181.5 150.7,181.5 151.0,181.7 151.3,181.7 151.6,181.4 151.9,181.3 152.2,180.7 152.5,181.0 152.8,180.6 153.1,179.6 153.4,178.5 153.6,177.0 153.9,175.0 154.2,172.5 154.5,170.9 154.8,169.7 155.1,170.2 155.4,171.4 155.7,173.4 156.0,175.6 156.3,177.0 156.6,178.4 156.9,178.8 157.2,179.3 157.5,179.5 157.8,179.0 158.1,178.6 158.4,178.0 158.7,177.1 159.0,177.0 159.3,177.3 159.6,178.5 159.9,179.3 160.2,180.2 160.5,180.4 160.8,180.9 161.1,181.4 161.3,181.3 161.6,181.5 161.9,182.1 162.2,181.6 162.5,181.8 162.8,181.9 163.1,182.0 163.4,181.6 163.7,181.6 164.0,181.6 164.3,182.2 164.6,182.1 164.9,181.8 165.2,182.3 165.5,182.2 165.8,182.4 166.1,181.7 166.4,181.8 166.7,182.0 167.0,182.0 167.3,182.2 167.6,182.2 167.9,182.0 168.2,182.2 168.5,181.8 168.8,182.2 169.0,182.3 169.3,181.8 169.6,182.1 169.9,182.0 170.2,182.2 170.5,182.6 170.8,182.0 171.1,182.4 171.4,181.9 171.7,182.4 172.0,182.5 172.3,182.1 172.6,182.0 172.9,182.1 173.2,182.4 173.5,181.9 173.8,182.4 174.1,182.2 174.4,182.3 174.7,182.2 175.0,182.0 175.3,182.3 175.6,182.0 175.9,182.0 176.2,182.5 176.4,182.4 176.7,182.2 177.0,182.2 177.3,182.1 177.6,182.5 177.9,182.0 178.2,182.0 178.5,182.2 178.8,182.4 179.1,182.1 179.4,182.2 179.7,182.0 180.0,182.1 180.3,182.0 180.6,182.2 180.9,181.8 181.2,182.6 181.5,182.3 181.8,182.0 182.1,182.4 182.4,182.0 182.7,182.4 183.0,182.1 183.3,182.3 183.6,182.2 183.9,182.1 184.1,182.1 184.4,182.2 184.7,181.7 185.0,182.1 185.3,182.3 185.6,181.9 185.9,181.9 186.2,181.8 186.5,181.7 186.8,182.3 187.1,181.8 187.4,181.8 187.7,182.0 188.0,182.0 188.3,182.6 188.6,182.1 188.9,181.6 189.2,182.3 189.5,182.0 189.8,181.9 190.1,181.8 190.4,181.5 190.7,182.1 191.0,181.7 191.3,181.4 191.5,181.7 191.8,181.2 192.1,180.5 192.4,180.1 192.7,179.5 193.0,179.3 193.3,177.8 193.6,176.9 193.9,176.7 194.2,177.0 194.5,177.1 194.8,178.7 195.1,179.7 195.4,180.1 195.7,180.6 196.0,180.8 196.3,180.8 196.6,180.5 196.9,180.3 197.2,180.2 197.5,179.6 197.8,179.3 198.1,179.6 198.4,179.6 198.7,180.1 199.0,180.9 199.2,181.0 199.5,181.0 199.8,181.2 200.1,181.7 200.4,181.6 200.7,181.9 201.0,182.1 201.3,181.8 201.6,181.8 201.9,181.8 202.2,181.9 202.5,181.9 202.8,182.0 203.1,181.8 203.4,181.8 203.7,181.9 204.0,181.8 204.3,182.3 204.6,182.1 204.9,181.6 205.2,181.5 205.5,181.8 205.8,181.9 206.1,182.1 206.4,181.7 206.7,181.6 206.9,182.1 207.2,181.6 207.5,181.6 207.8,181.5 208.1,181.8 208.4,181.4 208.7,181.7 209.0,180.9 209.3,181.0 209.6,181.0 209.9,180.0 210.2,179.4 210.5,178.8 210.8,176.7 211.1,175.4 211.4,172.9 211.7,170.3 212.0,169.2 212.3,168.3 212.6,169.8 212.9,172.1 213.2,174.7 213.5,176.5 213.8,178.4 214.1,179.5 214.3,180.2 214.6,180.8 214.9,180.6 215.2,181.4 215.5,181.4 215.8,181.4 216.1,181.5 216.4,181.4 216.7,181.4 217.0,181.7 217.3,181.8 217.6,181.7 217.9,181.6 218.2,181.6 218.5,181.9 218.8,182.2 219.1,181.3 219.4,181.6 219.7,181.7 220.0,181.7 220.3,181.9 220.6,182.0 220.9,181.8 221.2,181.8 221.5,181.8 221.8,182.0 222.0,181.7 222.3,181.5 222.6,181.6 222.9,181.4 223.2,181.6 223.5,181.0 223.8,180.7 224.1,180.5 224.4,180.2 224.7,179.3 225.0,179.3 225.3,179.0 225.6,179.3 225.9,179.2 226.2,179.5 226.5,179.9 226.8,179.8 227.1,180.0 227.4,180.0 227.7,180.2 228.0,180.2 228.3,179.8 228.6,179.5 228.9,179.1 229.2,178.2 229.5,177.1 229.7,175.1 230.0,172.3 230.3,168.7 230.6,164.3 230.9,159.8 231.2,155.9 231.5,155.8 231.8,158.4 232.1,162.7 232.4,167.1 232.7,170.9 233.0,174.0 233.3,176.0 233.6,176.5 233.9,177.2 234.2,176.7 234.5,176.5 234.8,176.2 235.1,176.4 235.4,177.3 235.7,178.4 236.0,179.3 236.3,179.9 236.6,180.3 236.9,181.0 237.1,180.9 237.4,181.1 237.7,181.0 238.0,181.3 238.3,181.3 238.6,181.5 238.9,181.4 239.2,181.7 239.5,181.3 239.8,180.9 240.1,181.1 240.4,180.8 240.7,180.8 241.0,179.9 241.3,179.8 241.6,178.8 241.9,178.3 242.2,178.1 242.5,177.7 242.8,178.3 243.1,178.8 243.4,179.2 243.7,179.6 244.0,179.6 244.3,179.2 244.6,179.0 244.8,178.5 245.1,178.4 245.4,178.6 245.7,178.9 246.0,179.5 246.3,179.9 246.6,180.1 246.9,181.0 247.2,180.9 247.5,181.5 247.8,181.3 248.1,181.2 248.4,181.5 248.7,181.3 249.0,180.8 249.3,180.6 249.6,180.3 249.9,179.9 250.2,178.5 250.5,177.7 250.8,176.1 251.1,173.2 251.4,170.5 251.7,167.8 252.0,165.3 252.3,165.1 252.5,166.7 252.8,169.6 253.1,172.8 253.4,175.0 253.7,177.2 254.0,178.9 254.3,179.8 254.6,180.1 254.9,180.7 255.2,180.9 255.5,181.0 255.8,181.2 256.1,181.7 256.4,181.4 256.7,181.4 257.0,181.5 257.3,181.4 257.6,181.7 257.9,181.6 258.2,181.5 258.5,181.9 258.8,181.5 259.1,181.5 259.4,181.7 259.7,181.6 259.9,181.8 260.2,182.1 260.5,181.7 260.8,181.9 261.1,181.9 261.4,182.0 261.7,181.7 262.0,181.9 262.3,182.2 262.6,181.9 262.9,181.9 263.2,182.2 263.5,182.1 263.8,182.1 264.1,182.2 264.4,182.0 264.7,181.9 265.0,181.7 265.3,181.8 265.6,181.9 265.9,181.9 266.2,181.8 266.5,182.2 266.8,182.0 267.1,182.0 267.4,182.1 267.6,182.2 267.9,182.2 268.2,182.2 268.5,182.3 268.8,182.0 269.1,182.1 269.4,182.1 269.7,182.0 270.0,182.0 270.3,182.2 270.6,182.1 270.9,182.4 271.2,182.6 271.5,182.5 271.8,181.8 272.1,182.5 272.4,182.0 272.7,181.8 273.0,182.2 273.3,181.8 273.6,181.7 273.9,181.9 274.2,181.6 274.5,182.0 274.8,182.3 275.1,182.0 275.3,182.2 275.6,182.4 275.9,182.4 276.2,181.6 276.5,182.2 276.8,182.1 277.1,182.2 277.4,182.1 277.7,182.1 278.0,182.1 278.3,182.3 278.6,182.3 278.9,182.2 279.2,182.0 279.5,181.6 279.8,181.8 280.1,181.6 280.4,181.9 280.7,182.0 281.0,182.2 281.3,181.9 281.6,182.2 281.9,181.8 282.2,181.3 282.5,181.4 282.7,181.0 283.0,180.9 283.3,180.5 283.6,179.6 283.9,178.6 284.2,177.4 284.5,176.5 284.8,176.9 285.1,177.4 285.4,178.2 285.7,179.2 286.0,180.2 286.3,180.6 286.6,181.0 286.9,181.3 287.2,181.8 287.5,181.7 287.8,182.1 288.1,181.7 288.4,182.1 288.7,182.0 289.0,182.0 289.3,182.1 289.6,182.2 289.9,182.4 290.2,181.7 290.4,182.0 290.7,182.0 291.0,181.6 291.3,182.1 291.6,182.0 291.9,182.1 292.2,181.8 292.5,182.0 292.8,182.0 293.1,182.1 293.4,182.0 293.7,181.9 294.0,182.5 294.3,182.1 294.6,182.2 294.9,182.1 295.2,182.5 295.5,181.9 295.8,182.2 296.1,182.1 296.4,182.2 296.7,182.4 297.0,182.1 297.3,182.4 297.6,182.2 297.8,182.0 298.1,181.9 298.4,181.8 298.7,181.7 299.0,181.1 299.3,181.3 299.6,181.5 299.9,181.2 300.2,181.3 300.5,181.3 300.8,181.5 301.1,181.8 301.4,181.4 301.7,181.8 302.0,182.0 302.3,182.0 302.6,182.0 302.9,181.7 303.2,181.9 303.5,181.7 303.8,182.6 304.1,181.9 304.4,181.7 304.7,181.5 305.0,181.8 305.3,182.1 305.5,181.6 305.8,181.8 306.1,181.8 306.4,181.4 306.7,180.7 307.0,180.1 307.3,179.5 307.6,179.0 307.9,177.4 308.2,177.5 308.5,177.2 308.8,178.0 309.1,178.2 309.4,179.3 309.7,180.0 310.0,180.7 310.3,181.1 310.6,181.4 310.9,182.0 311.2,181.5 311.5,181.6 311.8,181.9 312.1,181.9 312.4,181.8 312.7,181.6 313.0,181.9 313.2,181.9 313.5,182.1 313.8,182.3 314.1,182.1 314.4,181.9 314.7,182.0 315.0,181.9 315.3,181.7 315.6,181.7 315.9,181.6 316.2,181.3 316.5,181.2 316.8,181.1 317.1,180.8 317.4,181.2 317.7,180.7 318.0,181.5 318.3,181.2 318.6,181.6 318.9,181.5 319.2,181.8 319.5,182.1 319.8,181.7 320.1,182.0 320.4,182.0 320.6,182.0 320.9,181.8 321.2,181.9 321.5,182.0 321.8,182.3 322.1,182.1 322.4,182.0 322.7,181.6 323.0,181.9 323.3,182.0 323.6,181.7 323.9,181.9 324.2,181.8 324.5,181.6 324.8,181.7 325.1,180.9 325.4,180.7 325.7,180.4 326.0,180.3 326.3,180.0 326.6,180.0 326.9,180.7 327.2,181.2 327.5,181.2 327.8,181.9 328.1,182.2 328.3,181.9 328.6,182.0 328.9,182.0 329.2,182.1 329.5,182.0 329.8,182.1 330.1,182.2 330.4,182.2 330.7,181.9 331.0,181.9 331.3,181.9 331.6,181.9 331.9,182.8 332.2,182.3 332.5,182.2 332.8,182.1 333.1,182.4 333.4,181.8 333.7,182.0 334.0,182.2 334.3,182.1 334.6,182.2 334.9,182.3 335.2,182.0 335.5,182.2 335.8,182.4 336.0,182.2 336.3,182.1 336.6,182.3 336.9,181.9 337.2,182.3 337.5,181.8 337.8,181.9 338.1,182.3 338.4,182.1 338.7,181.9 339.0,182.1 339.3,182.3 339.6,182.1 339.9,181.7 340.2,182.4 340.5,182.0 340.8,182.1 341.1,182.1 341.4,182.2 341.7,182.2 342.0,181.9 342.3,182.0 342.6,182.3 342.9,181.8 343.2,182.3 343.4,181.9 343.7,182.0 344.0,181.8 344.3,182.0 344.6,181.8 344.9,182.0 345.2,181.8 345.5,182.0 345.8,181.6 346.1,182.1 346.4,181.8 346.7,181.9 347.0,181.9 347.3,182.1 347.6,181.8 347.9,182.2 348.2,182.2 348.5,181.7 348.8,182.2 349.1,181.5 349.4,181.8 349.7,181.7 350.0,181.6 350.3,181.5 350.6,181.5 350.9,181.3 351.1,181.0 351.4,180.3 351.7,179.8 352.0,179.1 352.3,178.6 352.6,178.0 352.9,178.0 353.2,177.4 353.5,177.3 353.8,177.3 354.1,176.7 354.4,176.1 354.7,176.1 355.0,176.2 355.3,177.0 355.6,178.3 355.9,178.8 356.2,179.4 356.5,179.5 356.8,179.8 357.1,179.5 357.4,179.0 357.7,177.9 358.0,176.8 358.3,175.3 358.6,174.4 358.8,174.1 359.1,174.3 359.4,174.9 359.7,175.3 360.0,175.1 360.3,175.9 360.6,175.4 360.9,175.8 361.2,176.4 361.5,177.7 361.8,178.2 362.1,178.6 362.4,179.0 362.7,179.2 363.0,178.5 363.3,178.3 363.6,177.7 363.9,178.0 364.2,177.9 364.5,178.6 364.8,179.1 365.1,179.1 365.4,178.9 365.7,178.0 366.0,176.9 366.2,176.4 366.5,175.7 366.8,176.3 367.1,176.8 367.4,177.4 367.7,179.2 368.0,179.5 368.3,180.2 368.6,181.2 368.9,181.4 369.2,181.5 369.5,181.2 369.8,181.6 370.1,181.5 370.4,181.4 370.7,181.4 371.0,181.3 371.3,181.3 371.6,180.7 371.9,180.9 372.2,180.1 372.5,180.4 372.8,180.5 373.1,180.4 373.4,180.8 373.7,181.6 373.9,181.4 374.2,181.9 374.5,181.9 374.8,181.7 375.1,182.0 375.4,181.8 375.7,182.0 376.0,181.6 376.3,182.0 376.6,182.2 376.9,182.2 377.2,182.2 377.5,182.0 377.8,182.0 378.1,181.8 378.4,182.0 378.7,182.0 379.0,182.0 379.3,182.1 379.6,182.0 379.9,181.9 380.2,181.9 380.5,182.2 380.8,182.4 381.1,182.2 381.4,182.0 381.6,182.6 381.9,182.2 382.2,182.0 382.5,182.2 382.8,182.3 383.1,181.7 383.4,181.8 383.7,182.1 384.0,181.8 384.3,181.8 384.6,182.3 384.9,181.5 385.2,182.2 385.5,182.1 385.8,182.2 386.1,182.0 386.4,182.2 386.7,181.9 387.0,181.6 387.3,181.7 387.6,181.7 387.9,181.1 388.2,181.3 388.5,180.6 388.8,180.5 389.0,180.0 389.3,180.0 389.6,180.1 389.9,180.4 390.2,181.0 390.5,181.3 390.8,181.3 391.1,181.6 391.4,182.0 391.7,182.0 392.0,182.0 392.3,182.0 392.6,181.9 392.9,182.0 393.2,182.1 393.5,182.0 393.8,182.3 394.1,182.6 394.4,182.0 394.7,182.4 395.0,182.2 395.3,182.3 395.6,181.9 395.9,182.3 396.2,182.0 396.5,182.1 396.7,182.2 397.0,182.3 397.3,181.9 397.6,181.9 397.9,181.8 398.2,181.5 398.5,181.8 398.8,181.8 399.1,181.8 399.4,181.7 399.7,181.6 400.0,181.6 400.3,180.7 400.6,181.1 400.9,180.1 401.2,179.3 401.5,178.4 401.8,177.8 402.1,177.2 402.4,177.4 402.7,178.1 403.0,178.8 403.3,179.7 403.6,180.4 403.9,180.7 404.1,181.4 404.4,181.3 404.7,181.7 405.0,181.6 405.3,181.7 405.6,181.7 405.9,182.0 406.2,182.0 406.5,182.0 406.8,181.8 407.1,181.6 407.4,181.5 407.7,181.8 408.0,181.6 408.3,181.7 408.6,181.6 408.9,181.0 409.2,180.6 409.5,180.3 409.8,180.0 410.1,179.3 410.4,179.7 410.7,180.2 411.0,179.8 411.3,180.5 411.6,180.8 411.8,180.6 412.1,180.8 412.4,180.1 412.7,180.6 413.0,180.4 413.3,180.3 413.6,180.7 413.9,180.6 414.2,181.5 414.5,181.5 414.8,181.5 415.1,181.5 415.4,181.5 415.7,181.6 416.0,181.3 416.3,181.8 416.6,181.6 416.9,181.5 417.2,181.6 417.5,181.5 417.8,181.4 418.1,181.3 418.4,181.0 418.7,180.5 419.0,180.1 419.3,179.0 419.5,178.6 419.8,177.2 420.1,176.9 420.4,176.9 420.7,177.0 421.0,177.0 421.3,176.7 421.6,177.3 421.9,177.9 422.2,178.9 422.5,179.2 422.8,180.0 423.1,180.1 423.4,180.4 423.7,180.0 424.0,179.3 424.3,179.0 424.6,178.5 424.9,178.0 425.2,178.4 425.5,178.5 425.8,179.7 426.1,179.4 426.4,179.4 426.7,179.6 426.9,179.1 427.2,178.0 427.5,177.9 427.8,177.6 428.1,177.6 428.4,178.3 428.7,178.8 429.0,179.5 429.3,179.5 429.6,179.4 429.9,179.3 430.2,179.4 430.5,178.4 430.8,178.4 431.1,178.9 431.4,179.0 431.7,180.2 432.0,180.1 432.3,181.0 432.6,180.9 432.9,181.5 433.2,181.9 433.5,181.7 433.8,181.7 434.1,181.7 434.4,181.7 434.6,182.1 434.9,181.8 435.2,181.8 435.5,182.0 435.8,182.2 436.1,182.2 436.4,181.9 436.7,181.9 437.0,182.2 437.3,182.3 437.6,181.8 437.9,182.4 438.2,182.0 438.5,182.2 438.8,182.4 439.1,182.0 439.4,182.1 439.7,181.8 440.0,181.6 440.3,182.1 440.6,181.9 440.9,181.9 441.2,182.2 441.5,182.2 441.8,181.7 442.1,182.1 442.3,182.0 442.6,182.1 442.9,182.0 443.2,182.1 443.5,181.8 443.8,181.7 444.1,181.9 444.4,182.0 444.7,181.6 445.0,181.7 445.3,181.3 445.6,180.5 445.9,179.9 446.2,179.8 446.5,179.9 446.8,179.6 447.1,180.5 447.4,180.6 447.7,180.6 448.0,181.1 448.3,181.8 448.6,182.0 448.9,181.6 449.2,181.9 449.5,182.0 449.7,181.9 450.0,182.1 450.3,182.4 450.6,181.8 450.9,182.1 451.2,182.2 451.5,182.3 451.8,182.0 452.1,182.2 452.4,181.9 452.7,182.0 453.0,181.8 453.3,182.0 453.6,182.1 453.9,182.3 454.2,182.1 454.5,181.7 454.8,181.2 455.1,182.0 455.4,181.9 455.7,181.5 456.0,181.2 456.3,181.2 456.6,180.6 456.9,180.3 457.2,179.3 457.4,178.4 457.7,177.7 458.0,177.9 458.3,178.3 458.6,178.8 458.9,179.4 459.2,180.1 459.5,180.8 459.8,180.9 460.1,180.9 460.4,181.2 460.7,181.1 461.0,180.5 461.3,180.1 461.6,179.4 461.9,179.0 462.2,178.7 462.5,178.6 462.8,179.0 463.1,179.5 463.4,180.0 463.7,180.4 464.0,180.3 464.3,180.8 464.6,180.4 464.9,180.2 465.1,179.1 465.4,178.6 465.7,177.8 466.0,176.8 466.3,176.6 466.6,177.1 466.9,177.5 467.2,178.6 467.5,179.3 467.8,180.1 468.1,180.7 468.4,181.2 468.7,181.7 469.0,181.5 469.3,181.7 469.6,181.7 469.9,181.8 470.2,182.0 470.5,182.1 470.8,181.8 471.1,181.7 471.4,182.1 471.7,181.9 472.0,181.8 472.3,182.2 472.5,182.1 472.8,182.3 473.1,181.8 473.4,182.0 473.7,182.2 474.0,182.4 474.3,182.1 474.6,181.9 474.9,182.2 475.2,182.2 475.5,182.0 475.8,182.4 476.1,182.1 476.4,182.0 476.7,182.3 477.0,182.3 477.3,182.1 477.6,182.1 477.9,182.2 478.2,182.1 478.5,182.1 478.8,182.3 479.1,182.2 479.4,182.0 479.7,181.9 480.0,181.8 480.2,182.2 480.5,181.8 480.8,181.8 481.1,181.9 481.4,181.7 481.7,181.5 482.0,181.2 482.3,181.5 482.6,181.0 482.9,181.0 483.2,181.0 483.5,180.8 483.8,181.1 484.1,181.7 484.4,181.7 484.7,181.8 485.0,182.2 485.3,181.8 485.6,182.0 485.9,182.0 486.2,182.0 486.5,181.7 486.8,182.1 487.1,182.2 487.4,181.8 487.6,182.2 487.9,182.2 488.2,182.4 488.5,181.9 488.8,182.1 489.1,182.0 489.4,182.1 489.7,182.2 490.0,182.3 490.3,182.3 490.6,182.1 490.9,182.1 491.2,181.8 491.5,182.3 491.8,182.2 492.1,182.3 492.4,181.9 492.7,182.4 493.0,182.0 493.3,181.8 493.6,182.1 493.9,182.0 494.2,182.5 494.5,182.2 494.8,182.4 495.1,182.0 495.3,182.1 495.6,182.2 495.9,181.8 496.2,181.9 496.5,182.0 496.8,181.9 497.1,182.0 497.4,181.5 497.7,180.8 498.0,181.0 498.3,180.4 498.6,180.3 498.9,179.9 499.2,180.1 499.5,180.6 499.8,181.2 500.1,181.3 500.4,181.3 500.7,181.7 501.0,181.7 501.3,182.0 501.6,182.3 501.9,181.9 502.2,181.9 502.5,182.1 502.8,182.1 503.0,182.0 503.3,182.2 503.6,182.0 503.9,182.1 504.2,182.5 504.5,182.0 504.8,182.0 505.1,182.0 505.4,181.6 505.7,181.6 506.0,181.2 506.3,180.9 506.6,180.9 506.9,181.2 507.2,181.2 507.5,181.0 507.8,181.5 508.1,181.8 508.4,181.8 508.7,181.8 509.0,181.9 509.3,181.8 509.6,182.2 509.9,182.1 510.2,182.0 510.4,182.0 510.7,182.4 511.0,182.0 511.3,182.2 511.6,181.5 511.9,181.4 512.2,181.1 512.5,181.1 512.8,181.0 513.1,180.3 513.4,180.2 513.7,180.0 514.0,180.4 514.3,180.6 514.6,180.8 514.9,180.9 515.2,181.5 515.5,181.2 515.8,181.3 516.1,182.1 516.4,182.0 516.7,182.2 517.0,182.0 517.3,182.1 517.6,182.0 517.9,181.8 518.1,181.8 518.4,182.0 518.7,182.0 519.0,181.9 519.3,181.9 519.6,181.7 519.9,181.7 520.2,181.5 520.5,181.6 520.8,180.9 521.1,180.4 521.4,180.5 521.7,180.8 522.0,180.4 522.3,181.0 522.6,181.8 522.9,181.5 523.2,181.6 523.5,181.8 523.8,181.7 524.1,181.9 524.4,182.0 524.7,182.5 525.0,182.3 525.3,182.1 525.6,182.0 525.8,182.3 526.1,182.2 526.4,182.0 526.7,182.5 527.0,182.5 527.3,182.2 527.6,182.1 527.9,182.3 528.2,182.6 528.5,182.2 528.8,182.4 529.1,182.0 529.4,182.2 529.7,182.1 530.0,182.0 530.3,182.3 530.6,182.0 530.9,181.9 531.2,182.1 531.5,181.9 531.8,182.3 532.1,182.0 532.4,182.1 532.7,182.4 533.0,182.2 533.2,182.3 533.5,182.3 533.8,182.2 534.1,182.0 534.4,182.2 534.7,182.2 535.0,182.5 535.3,182.2 535.6,182.0 535.9,182.0 536.2,182.1 536.5,182.3 536.8,182.4"/>
<polyline fill="none" stroke="#96e068" stroke-width="2.2" stroke-linejoin="round" points="43.5,214.0 43.8,214.3 44.1,214.2 44.4,213.8 44.7,214.2 45.0,213.6 45.3,214.3 45.6,213.9 45.9,214.2 46.2,214.0 46.5,214.2 46.8,214.0 47.1,214.0 47.3,214.1 47.6,213.9 47.9,213.7 48.2,214.1 48.5,213.8 48.8,214.0 49.1,214.0 49.4,213.6 49.7,214.4 50.0,214.1 50.3,214.4 50.6,214.1 50.9,214.0 51.2,213.2 51.5,213.9 51.8,213.6 52.1,213.7 52.4,214.1 52.7,213.9 53.0,213.7 53.3,214.0 53.6,214.0 53.9,213.9 54.2,214.3 54.5,214.2 54.8,213.9 55.0,213.9 55.3,214.2 55.6,214.1 55.9,214.0 56.2,214.0 56.5,213.9 56.8,214.0 57.1,214.0 57.4,214.3 57.7,214.2 58.0,213.9 58.3,214.3 58.6,213.9 58.9,214.1 59.2,214.2 59.5,213.9 59.8,214.1 60.1,214.2 60.4,214.1 60.7,214.0 61.0,213.5 61.3,214.4 61.6,214.0 61.9,214.0 62.2,213.8 62.5,214.1 62.7,214.5 63.0,213.7 63.3,214.2 63.6,214.0 63.9,214.3 64.2,214.2 64.5,214.1 64.8,213.8 65.1,213.8 65.4,214.1 65.7,213.9 66.0,214.1 66.3,214.0 66.6,214.0 66.9,213.9 67.2,214.1 67.5,214.0 67.8,214.0 68.1,214.0 68.4,214.2 68.7,213.7 69.0,214.1 69.3,213.8 69.6,214.0 69.9,213.8 70.1,214.4 70.4,213.6 70.7,214.0 71.0,214.2 71.3,214.0 71.6,213.6 71.9,213.9 72.2,214.2 72.5,214.1 72.8,213.7 73.1,214.3 73.4,214.0 73.7,214.1 74.0,213.6 74.3,214.1 74.6,213.7 74.9,214.1 75.2,214.2 75.5,213.8 75.8,213.9 76.1,214.3 76.4,213.9 76.7,213.9 77.0,214.1 77.3,214.0 77.6,213.9 77.8,214.1 78.1,214.1 78.4,214.1 78.7,214.1 79.0,214.3 79.3,214.0 79.6,214.3 79.9,214.0 80.2,214.0 80.5,214.2 80.8,213.8 81.1,213.6 81.4,213.7 81.7,214.3 82.0,213.7 82.3,214.0 82.6,214.0 82.9,214.1 83.2,214.0 83.5,213.7 83.8,213.9 84.1,214.1 84.4,214.1 84.7,214.1 85.0,213.9 85.3,213.6 85.5,214.2 85.8,214.0 86.1,214.1 86.4,214.1 86.7,213.9 87.0,213.9 87.3,214.3 87.6,214.2 87.9,213.8 88.2,213.9 88.5,213.9 88.8,214.1 89.1,214.1 89.4,213.9 89.7,214.1 90.0,214.2 90.3,214.0 90.6,213.8 90.9,214.2 91.2,213.8 91.5,213.9 91.8,214.2 92.1,214.0 92.4,214.0 92.7,213.9 92.9,213.9 93.2,214.3 93.5,214.3 93.8,213.8 94.1,214.0 94.4,213.9 94.7,213.9 95.0,213.7 95.3,214.2 95.6,213.8 95.9,214.2 96.2,213.8 96.5,213.7 96.8,214.3 97.1,213.9 97.4,214.0 97.7,214.0 98.0,214.0 98.3,214.2 98.6,214.2 98.9,213.9 99.2,213.8 99.5,214.1 99.8,214.3 100.1,213.5 100.4,213.8 100.6,213.9 100.9,214.2 101.2,214.1 101.5,213.9 101.8,214.2 102.1,213.7 102.4,214.0 102.7,213.9 103.0,214.2 103.3,214.2 103.6,214.1 103.9,213.9 104.2,214.0 104.5,214.0 104.8,213.9 105.1,213.9 105.4,213.7 105.7,214.0 106.0,214.2 106.3,214.0 106.6,213.7 106.9,214.1 107.2,214.0 107.5,214.0 107.8,213.9 108.0,213.9 108.3,214.1 108.6,214.0 108.9,213.7 109.2,213.7 109.5,213.7 109.8,213.7 110.1,214.0 110.4,213.9 110.7,213.7 111.0,214.0 111.3,213.7 111.6,214.0 111.9,213.6 112.2,213.4 112.5,213.3 112.8,212.6 113.1,212.6 113.4,212.4 113.7,212.4 114.0,212.7 114.3,212.6 114.6,213.2 114.9,213.3 115.2,213.8 115.5,213.8 115.7,213.8 116.0,213.9 116.3,213.9 116.6,213.8 116.9,213.6 117.2,213.9 117.5,213.9 117.8,214.0 118.1,213.4 118.4,213.6 118.7,213.8 119.0,213.8 119.3,214.1 119.6,213.9 119.9,213.9 120.2,213.9 120.5,214.1 120.8,214.1 121.1,213.8 121.4,213.8 121.7,214.3 122.0,213.9 122.3,213.6 122.6,214.0 122.9,213.8 123.2,214.2 123.4,213.7 123.7,214.1 124.0,214.1 124.3,213.9 124.6,213.3 124.9,213.9 125.2,214.0 125.5,213.6 125.8,213.6 126.1,213.2 126.4,213.6 126.7,213.5 127.0,213.0 127.3,212.5 127.6,212.0 127.9,211.5 128.2,211.7 128.5,211.6 128.8,211.7 129.1,211.9 129.4,212.2 129.7,212.6 130.0,212.7 130.3,212.2 130.6,211.8 130.8,210.9 131.1,210.5 131.4,209.1 131.7,208.5 132.0,207.6 132.3,207.5 132.6,208.1 132.9,209.3 133.2,210.4 133.5,211.3 133.8,212.1 134.1,212.5 134.4,213.0 134.7,213.2 135.0,213.1 135.3,213.4 135.6,213.5 135.9,213.6 136.2,213.7 136.5,213.6 136.8,213.9 137.1,213.5 137.4,213.5 137.7,213.6 138.0,213.9 138.3,214.1 138.5,213.9 138.8,213.8 139.1,213.7 139.4,213.9 139.7,213.9 140.0,213.6 140.3,214.0 140.6,213.7 140.9,213.7 141.2,214.2 141.5,213.8 141.8,214.0 142.1,214.1 142.4,214.3 142.7,214.2 143.0,213.8 143.3,214.0 143.6,213.8 143.9,214.1 144.2,214.0 144.5,214.0 144.8,214.2 145.1,214.2 145.4,213.8 145.7,213.9 146.0,214.1 146.2,213.9 146.5,213.7 146.8,213.5 147.1,214.0 147.4,213.7 147.7,213.4 148.0,213.8 148.3,213.5 148.6,214.3 148.9,213.5 149.2,213.8 149.5,214.1 149.8,213.6 150.1,213.5 150.4,213.5 150.7,213.4 151.0,213.6 151.3,213.7 151.6,213.6 151.9,213.4 152.2,213.2 152.5,213.2 152.8,212.8 153.1,212.1 153.4,211.6 153.6,210.2 153.9,209.1 154.2,208.3 154.5,206.8 154.8,206.2 155.1,206.3 155.4,207.0 155.7,208.6 156.0,210.0 156.3,210.9 156.6,211.4 156.9,212.1 157.2,212.2 157.5,211.9 157.8,211.7 158.1,211.3 158.4,210.7 158.7,210.8 159.0,210.5 159.3,211.0 159.6,211.2 159.9,211.9 160.2,212.7 160.5,212.7 160.8,213.4 161.1,213.2 161.3,213.5 161.6,213.8 161.9,213.9 162.2,213.8 162.5,213.7 162.8,213.9 163.1,213.7 163.4,214.1 163.7,213.8 164.0,213.8 164.3,214.2 164.6,213.8 164.9,214.1 165.2,214.4 165.5,214.0 165.8,213.9 166.1,213.7 166.4,214.0 166.7,213.6 167.0,213.6 167.3,213.7 167.6,213.7 167.9,213.9 168.2,214.0 168.5,213.8 168.8,213.7 169.0,213.9 169.3,214.0 169.6,214.2 169.9,213.8 170.2,213.9 170.5,214.2 170.8,213.9 171.1,213.8 171.4,214.0 171.7,213.8 172.0,213.8 172.3,214.2 172.6,214.0 172.9,213.9 173.2,213.8 173.5,213.7 173.8,214.3 174.1,214.0 174.4,213.8 174.7,213.7 175.0,213.6 175.3,214.1 175.6,214.0 175.9,214.2 176.2,213.8 176.4,214.2 176.7,213.7 177.0,213.8 177.3,213.9 177.6,214.4 177.9,214.1 178.2,213.8 178.5,214.2 178.8,214.0 179.1,214.0 179.4,213.8 179.7,213.9 180.0,213.9 180.3,214.0 180.6,214.0 180.9,214.0 181.2,213.8 181.5,214.0 181.8,213.7 182.1,214.3 182.4,213.7 182.7,214.0 183.0,213.7 183.3,213.9 183.6,213.8 183.9,213.6 184.1,214.0 184.4,213.9 184.7,214.0 185.0,213.9 185.3,214.3 185.6,214.0 185.9,214.0 186.2,214.1 186.5,214.0 186.8,214.2 187.1,213.6 187.4,213.8 187.7,213.5 188.0,214.1 188.3,214.1 188.6,213.8 188.9,214.2 189.2,213.8 189.5,214.0 189.8,213.9 190.1,213.7 190.4,213.7 190.7,213.4 191.0,213.5 191.3,213.9 191.5,213.3 191.8,213.6 192.1,213.1 192.4,213.0 192.7,212.4 193.0,211.4 193.3,211.1 193.6,210.6 193.9,210.3 194.2,210.5 194.5,210.7 194.8,211.8 195.1,212.4 195.4,212.5 195.7,213.2 196.0,213.1 196.3,212.8 196.6,212.9 196.9,212.8 197.2,212.6 197.5,212.4 197.8,212.2 198.1,212.1 198.4,212.1 198.7,212.5 199.0,213.1 199.2,213.4 199.5,213.3 199.8,213.9 200.1,213.7 200.4,213.8 200.7,214.0 201.0,214.0 201.3,213.7 201.6,214.1 201.9,214.0 202.2,213.9 202.5,213.8 202.8,214.1 203.1,213.6 203.4,213.9 203.7,213.9 204.0,213.9 204.3,214.0 204.6,214.0 204.9,213.6 205.2,213.8 205.5,213.8 205.8,213.6 206.1,213.9 206.4,213.6 206.7,213.7 206.9,213.9 207.2,213.5 207.5,214.0 207.8,213.5 208.1,213.8 208.4,213.4 208.7,213.2 209.0,213.3 209.3,213.4 209.6,213.1 209.9,212.8 210.2,212.6 210.5,211.9 210.8,210.7 211.1,209.3 211.4,208.3 211.7,206.4 212.0,205.1 212.3,205.0 212.6,206.1 212.9,207.2 213.2,209.2 213.5,210.2 213.8,211.1 214.1,212.5 214.3,212.6 214.6,212.9 214.9,213.1 215.2,213.5 215.5,213.5 215.8,213.8 216.1,213.5 216.4,213.5 216.7,213.7 217.0,213.8 217.3,213.8 217.6,213.7 217.9,213.7 218.2,213.7 218.5,213.7 218.8,214.0 219.1,214.3 219.4,213.6 219.7,213.5 220.0,214.0 220.3,213.9 220.6,213.7 220.9,213.5 221.2,213.6 221.5,213.4 221.8,213.7 222.0,213.6 222.3,213.5 222.6,213.6 222.9,213.2 223.2,213.2 223.5,213.0 223.8,213.1 224.1,212.5 224.4,212.6 224.7,212.0 225.0,212.4 225.3,212.1 225.6,211.8 225.9,212.1 226.2,212.1 226.5,212.5 226.8,212.0 227.1,212.4 227.4,212.6 227.7,212.5 228.0,212.5 228.3,212.2 228.6,212.3 228.9,212.3 229.2,211.5 229.5,210.4 229.7,209.2 230.0,207.5 230.3,204.8 230.6,201.9 230.9,198.7 231.2,196.9 231.5,196.4 231.8,197.8 232.1,200.8 232.4,203.7 232.7,206.0 233.0,208.4 233.3,209.5 233.6,210.3 233.9,210.5 234.2,210.3 234.5,210.4 234.8,210.5 235.1,210.0 235.4,210.8 235.7,211.1 236.0,211.9 236.3,212.3 236.6,212.6 236.9,212.8 237.1,213.4 237.4,213.0 237.7,213.5 238.0,213.3 238.3,212.9 238.6,213.4 238.9,213.1 239.2,213.5 239.5,213.3 239.8,213.3 240.1,213.2 240.4,213.3 240.7,213.1 241.0,212.6 241.3,212.5 241.6,211.9 241.9,211.2 242.2,211.2 242.5,211.3 242.8,211.6 243.1,211.7 243.4,212.1 243.7,212.2 244.0,212.2 244.3,211.7 244.6,211.8 244.8,211.8 245.1,211.2 245.4,211.3 245.7,211.6 246.0,212.4 246.3,212.2 246.6,212.7 246.9,213.0 247.2,213.4 247.5,213.1 247.8,213.2 248.1,212.9 248.4,213.2 248.7,213.3 249.0,212.9 249.3,213.0 249.6,212.5 249.9,212.4 250.2,211.6 250.5,210.6 250.8,209.2 251.1,207.5 251.4,205.4 251.7,203.0 252.0,201.4 252.3,201.0 252.5,202.3 252.8,204.9 253.1,206.7 253.4,208.4 253.7,210.2 254.0,211.2 254.3,212.0 254.6,212.6 254.9,213.1 255.2,212.9 255.5,213.0 255.8,213.2 256.1,213.3 256.4,213.4 256.7,213.5 257.0,213.5 257.3,213.6 257.6,213.6 257.9,213.9 258.2,213.8 258.5,213.6 258.8,213.8 259.1,214.3 259.4,213.8 259.7,214.3 259.9,213.5 260.2,213.7 260.5,213.7 260.8,214.0 261.1,214.1 261.4,213.9 261.7,213.9 262.0,214.0 262.3,213.9 262.6,213.8 262.9,213.8 263.2,214.1 263.5,214.3 263.8,213.9 264.1,214.0 264.4,213.8 264.7,213.6 265.0,213.6 265.3,213.9 265.6,213.7 265.9,213.6 266.2,213.9 266.5,213.9 266.8,213.8 267.1,213.9 267.4,214.0 267.6,214.1 267.9,213.9 268.2,214.1 268.5,213.8 268.8,214.0 269.1,213.7 269.4,213.7 269.7,214.2 270.0,213.7 270.3,214.0 270.6,213.7 270.9,213.9 271.2,214.0 271.5,213.8 271.8,214.1 272.1,213.9 272.4,213.9 272.7,214.0 273.0,213.9 273.3,214.1 273.6,213.8 273.9,214.2 274.2,213.8 274.5,213.9 274.8,213.8 275.1,214.1 275.3,213.4 275.6,214.0 275.9,213.9 276.2,214.1 276.5,213.7 276.8,214.0 277.1,213.7 277.4,214.1 277.7,213.9 278.0,214.0 278.3,213.7 278.6,214.0 278.9,214.1 279.2,213.8 279.5,214.1 279.8,214.1 280.1,213.7 280.4,214.2 280.7,213.7 281.0,213.9 281.3,214.0 281.6,213.7 281.9,213.6 282.2,213.7 282.5,213.5 282.7,213.2 283.0,212.9 283.3,212.7 283.6,212.3 283.9,211.7 284.2,211.0 284.5,210.2 284.8,210.2 285.1,210.6 285.4,211.0 285.7,212.0 286.0,212.6 286.3,213.0 286.6,212.9 286.9,213.8 287.2,213.5 287.5,213.6 287.8,213.7 288.1,213.3 288.4,213.6 288.7,213.7 289.0,214.0 289.3,213.8 289.6,213.9 289.9,213.9 290.2,213.8 290.4,214.0 290.7,213.8 291.0,213.6 291.3,213.7 291.6,213.9 291.9,214.3 292.2,213.7 292.5,213.7 292.8,214.0 293.1,214.0 293.4,213.8 293.7,214.1 294.0,213.8 294.3,214.1 294.6,214.1 294.9,213.9 295.2,214.2 295.5,213.9 295.8,213.8 296.1,214.2 296.4,213.7 296.7,214.0 297.0,213.8 297.3,213.8 297.6,214.0 297.8,213.9 298.1,214.1 298.4,213.9 298.7,213.8 299.0,213.3 299.3,213.3 299.6,213.6 299.9,213.1 300.2,213.2 300.5,213.4 300.8,213.4 301.1,213.4 301.4,213.8 301.7,213.8 302.0,213.8 302.3,214.0 302.6,213.8 302.9,213.9 303.2,214.0 303.5,214.0 303.8,213.8 304.1,213.7 304.4,213.7 304.7,214.0 305.0,213.6 305.3,213.7 305.5,213.6 305.8,213.4 306.1,213.7 306.4,213.4 306.7,213.2 307.0,212.9 307.3,211.9 307.6,211.5 307.9,211.4 308.2,210.6 308.5,210.7 308.8,210.7 309.1,211.5 309.4,212.1 309.7,212.6 310.0,212.9 310.3,213.3 310.6,213.5 310.9,213.6 311.2,213.6 311.5,213.9 311.8,213.8 312.1,213.8 312.4,213.9 312.7,213.7 313.0,214.1 313.2,213.9 313.5,214.0 313.8,213.7 314.1,213.9 314.4,213.8 314.7,213.8 315.0,214.1 315.3,213.7 315.6,213.8 315.9,213.7 316.2,213.5 316.5,213.2 316.8,213.1 317.1,212.8 317.4,213.1 317.7,213.3 318.0,213.4 318.3,213.3 318.6,213.3 318.9,213.6 319.2,213.9 319.5,213.8 319.8,213.8 320.1,213.9 320.4,214.0 320.6,214.4 320.9,214.0 321.2,213.7 321.5,213.8 321.8,214.3 322.1,213.9 322.4,214.2 322.7,213.5 323.0,213.8 323.3,214.1 323.6,213.7 323.9,213.9 324.2,213.6 324.5,213.6 324.8,213.7 325.1,213.1 325.4,213.3 325.7,212.5 326.0,212.6 326.3,212.7 326.6,213.0 326.9,212.6 327.2,212.9 327.5,213.6 327.8,213.3 328.1,213.6 328.3,213.8 328.6,213.8 328.9,213.9 329.2,213.6 329.5,213.9 329.8,214.2 330.1,213.5 330.4,213.7 330.7,214.1 331.0,214.0 331.3,214.1 331.6,213.9 331.9,213.9 332.2,213.9 332.5,214.1 332.8,214.1 333.1,213.8 333.4,214.0 333.7,213.5 334.0,214.1 334.3,213.8 334.6,213.9 334.9,214.1 335.2,213.7 335.5,213.9 335.8,214.1 336.0,214.0 336.3,213.8 336.6,214.2 336.9,213.7 337.2,213.8 337.5,214.0 337.8,213.7 338.1,213.6 338.4,213.8 338.7,213.9 339.0,213.6 339.3,213.7 339.6,214.1 339.9,214.0 340.2,214.0 340.5,214.0 340.8,214.2 341.1,213.8 341.4,213.9 341.7,213.9 342.0,213.7 342.3,214.0 342.6,213.9 342.9,213.9 343.2,214.0 343.4,213.9 343.7,213.8 344.0,213.9 344.3,213.7 344.6,214.0 344.9,213.9 345.2,214.2 345.5,213.9 345.8,214.0 346.1,213.6 346.4,213.7 346.7,213.8 347.0,213.5 347.3,213.6 347.6,213.7 347.9,213.9 348.2,214.1 348.5,213.8 348.8,213.8 349.1,213.9 349.4,213.8 349.7,214.0 350.0,213.3 350.3,213.8 350.6,213.6 350.9,213.2 351.1,213.4 351.4,212.7 351.7,212.3 352.0,212.1 352.3,211.8 352.6,211.2 352.9,211.2 353.2,210.5 353.5,210.7 353.8,210.8 354.1,210.5 354.4,209.9 354.7,209.6 355.0,210.2 355.3,210.6 355.6,211.4 355.9,211.5 356.2,212.0 356.5,211.8 356.8,212.3 357.1,212.1 357.4,211.8 357.7,210.9 358.0,210.6 358.3,209.3 358.6,208.7 358.8,208.6 359.1,208.8 359.4,208.8 359.7,208.9 360.0,209.4 360.3,209.2 360.6,209.0 360.9,209.8 361.2,210.2 361.5,211.0 361.8,211.3 362.1,211.7 362.4,211.8 362.7,211.8 363.0,211.8 363.3,211.4 363.6,211.2 363.9,210.9 364.2,211.4 364.5,211.7 364.8,211.6 365.1,211.7 365.4,211.7 365.7,211.3 366.0,210.5 366.2,209.9 366.5,209.8 366.8,209.8 367.1,210.3 367.4,210.9 367.7,211.9 368.0,212.2 368.3,212.7 368.6,213.3 368.9,213.1 369.2,213.2 369.5,213.7 369.8,213.1 370.1,213.8 370.4,213.7 370.7,213.6 371.0,213.3 371.3,213.2 371.6,213.2 371.9,212.7 372.2,212.7 372.5,212.4 372.8,212.2 373.1,212.9 373.4,213.6 373.7,213.4 373.9,213.7 374.2,213.6 374.5,213.7 374.8,214.0 375.1,214.0 375.4,213.9 375.7,213.9 376.0,214.3 376.3,213.7 376.6,213.9 376.9,213.9 377.2,213.8 377.5,214.1 377.8,213.9 378.1,213.7 378.4,213.7 378.7,213.8 379.0,214.0 379.3,214.1 379.6,213.7 379.9,213.8 380.2,214.0 380.5,214.3 380.8,214.1 381.1,214.3 381.4,213.7 381.6,213.9 381.9,214.1 382.2,214.0 382.5,213.4 382.8,213.7 383.1,214.2 383.4,213.9 383.7,214.2 384.0,214.2 384.3,213.9 384.6,213.4 384.9,213.6 385.2,213.9 385.5,214.0 385.8,213.8 386.1,213.7 386.4,214.1 386.7,214.2 387.0,213.4 387.3,213.7 387.6,213.3 387.9,213.4 388.2,213.0 388.5,213.2 388.8,212.7 389.0,212.3 389.3,212.3 389.6,212.6 389.9,212.6 390.2,213.2 390.5,213.6 390.8,213.4 391.1,213.3 391.4,213.5 391.7,214.0 392.0,213.6 392.3,213.7 392.6,213.9 392.9,214.4 393.2,213.7 393.5,213.7 393.8,213.8 394.1,214.2 394.4,214.2 394.7,213.7 395.0,213.7 395.3,213.8 395.6,213.9 395.9,213.8 396.2,214.0 396.5,213.9 396.7,214.0 397.0,213.8 397.3,213.9 397.6,213.6 397.9,213.7 398.2,214.0 398.5,213.4 398.8,214.0 399.1,213.6 399.4,213.4 399.7,213.3 400.0,213.9 400.3,213.1 400.6,212.7 400.9,212.3 401.2,212.5 401.5,211.6 401.8,210.9 402.1,210.6 402.4,210.3 402.7,211.2 403.0,211.4 403.3,212.1 403.6,213.0 403.9,213.3 404.1,213.4 404.4,213.4 404.7,213.4 405.0,213.7 405.3,213.5 405.6,214.0 405.9,214.3 406.2,213.8 406.5,213.6 406.8,213.8 407.1,213.9 407.4,213.6 407.7,213.3 408.0,213.6 408.3,213.6 408.6,213.5 408.9,212.7 409.2,212.8 409.5,212.4 409.8,212.0 410.1,211.9 410.4,212.4 410.7,212.2 411.0,212.5 411.3,212.8 411.6,212.8 411.8,213.1 412.1,212.9 412.4,212.9 412.7,212.5 413.0,212.7 413.3,212.6 413.6,213.1 413.9,213.1 414.2,213.4 414.5,213.4 414.8,213.5 415.1,213.6 415.4,213.7 415.7,214.1 416.0,213.4 416.3,213.8 416.6,213.7 416.9,213.8 417.2,213.4 417.5,213.7 417.8,213.3 418.1,213.0 418.4,212.7 418.7,212.5 419.0,212.2 419.3,212.1 419.5,211.0 419.8,210.6 420.1,210.4 420.4,210.3 420.7,210.4 421.0,210.5 421.3,210.2 421.6,210.4 421.9,211.4 422.2,211.5 422.5,212.0 422.8,212.2 423.1,212.5 423.4,212.3 423.7,212.2 424.0,211.9 424.3,212.0 424.6,211.2 424.9,211.2 425.2,211.6 425.5,211.5 425.8,212.2 426.1,211.9 426.4,211.8 426.7,212.1 426.9,211.5 427.2,211.2 427.5,210.7 427.8,211.0 428.1,210.8 428.4,211.3 428.7,211.6 429.0,212.0 429.3,212.0 429.6,212.1 429.9,211.9 430.2,211.5 430.5,211.4 430.8,211.2 431.1,211.5 431.4,211.9 431.7,212.5 432.0,212.6 432.3,212.8 432.6,213.3 432.9,213.3 433.2,213.5 433.5,213.9 433.8,213.6 434.1,213.5 434.4,213.9 434.6,214.1 434.9,213.8 435.2,213.9 435.5,213.5 435.8,213.9 436.1,213.9 436.4,214.0 436.7,213.8 437.0,214.0 437.3,214.1 437.6,213.9 437.9,214.0 438.2,213.6 438.5,214.1 438.8,213.9 439.1,214.0 439.4,214.2 439.7,213.6 440.0,214.3 440.3,213.6 440.6,214.2 440.9,213.9 441.2,213.4 441.5,214.3 441.8,214.2 442.1,213.6 442.3,213.8 442.6,214.0 442.9,213.9 443.2,214.0 443.5,213.8 443.8,213.5 444.1,213.8 444.4,213.7 444.7,213.4 445.0,213.1 445.3,213.4 445.6,212.9 445.9,212.8 446.2,212.5 446.5,212.3 446.8,212.4 447.1,212.8 447.4,213.2 447.7,213.2 448.0,213.3 448.3,213.3 448.6,213.7 448.9,213.7 449.2,213.6 449.5,213.6 449.7,213.8 450.0,213.8 450.3,213.5 450.6,213.9 450.9,213.9 451.2,214.2 451.5,213.8 451.8,213.9 452.1,213.5 452.4,213.9 452.7,213.7 453.0,213.7 453.3,213.5 453.6,214.1 453.9,213.5 454.2,213.8 454.5,213.8 454.8,213.8 455.1,213.8 455.4,213.7 455.7,214.0 456.0,213.3 456.3,213.2 456.6,213.1 456.9,212.5 457.2,211.5 457.4,211.4 457.7,211.2 458.0,210.7 458.3,211.4 458.6,211.8 458.9,212.3 459.2,212.7 459.5,212.8 459.8,213.0 460.1,213.3 460.4,213.2 460.7,213.1 461.0,212.9 461.3,212.6 461.6,212.3 461.9,211.9 462.2,211.5 462.5,211.7 462.8,211.6 463.1,212.1 463.4,212.6 463.7,212.8 464.0,212.9 464.3,212.9 464.6,212.7 464.9,212.5 465.1,212.3 465.4,211.2 465.7,210.7 466.0,210.3 466.3,210.0 466.6,210.3 466.9,211.0 467.2,211.6 467.5,211.7 467.8,212.5 468.1,212.9 468.4,213.4 468.7,213.4 469.0,213.1 469.3,213.6 469.6,213.5 469.9,213.5 470.2,213.6 470.5,213.5 470.8,213.8 471.1,213.7 471.4,214.0 471.7,213.3 472.0,213.8 472.3,213.9 472.5,213.6 472.8,214.0 473.1,213.9 473.4,214.1 473.7,213.9 474.0,214.0 474.3,213.8 474.6,213.9 474.9,214.0 475.2,214.0 475.5,213.9 475.8,214.0 476.1,213.7 476.4,213.8 476.7,213.9 477.0,214.2 477.3,213.8 477.6,214.2 477.9,213.9 478.2,213.9 478.5,214.0 478.8,214.1 479.1,214.1 479.4,213.5 479.7,214.0 480.0,213.9 480.2,213.7 480.5,213.8 480.8,213.6 481.1,214.0 481.4,214.0 481.7,213.0 482.0,213.5 482.3,213.4 482.6,213.2 482.9,212.9 483.2,213.3 483.5,213.1 483.8,213.3 484.1,213.4 484.4,213.6 484.7,213.8 485.0,214.0 485.3,214.3 485.6,213.7 485.9,214.2 486.2,214.0 486.5,213.6 486.8,214.0 487.1,213.8 487.4,214.0 487.6,213.8 487.9,213.9 488.2,214.0 488.5,213.7 488.8,214.0 489.1,214.2 489.4,214.0 489.7,213.8 490.0,214.2 490.3,213.8 490.6,213.8 490.9,213.5 491.2,214.1 491.5,213.8 491.8,214.3 492.1,214.0 492.4,213.9 492.7,213.9 493.0,214.0 493.3,214.0 493.6,214.1 493.9,214.0 494.2,213.9 494.5,213.8 494.8,213.8 495.1,213.7 495.3,213.7 495.6,214.2 495.9,214.0 496.2,213.9 496.5,213.9 496.8,213.5 497.1,213.5 497.4,213.5 497.7,213.3 498.0,212.9 498.3,212.9 498.6,212.7 498.9,212.4 499.2,212.5 499.5,212.6 499.8,213.0 500.1,213.2 500.4,213.6 500.7,213.8 501.0,213.7 501.3,214.3 501.6,213.7 501.9,213.7 502.2,213.8 502.5,213.9 502.8,213.7 503.0,213.9 503.3,213.7 503.6,213.5 503.9,213.7 504.2,213.7 504.5,213.7 504.8,213.7 505.1,213.7 505.4,213.6 505.7,213.3 506.0,213.7 506.3,213.3 506.6,213.0 506.9,213.3 507.2,213.2 507.5,213.5 507.8,213.4 508.1,213.4 508.4,213.4 508.7,213.7 509.0,213.9 509.3,213.8 509.6,213.7 509.9,213.6 510.2,214.3 510.4,213.8 510.7,214.2 511.0,213.7 511.3,213.7 511.6,213.6 511.9,213.5 512.2,213.4 512.5,213.4 512.8,213.0 513.1,212.6 513.4,212.6 513.7,212.5 514.0,212.9 514.3,212.6 514.6,213.2 514.9,213.5 515.2,213.6 515.5,213.8 515.8,213.8 516.1,213.5 516.4,213.7 516.7,213.6 517.0,213.6 517.3,214.0 517.6,213.8 517.9,213.6 518.1,213.4 518.4,214.1 518.7,214.1 519.0,213.7 519.3,213.9 519.6,213.9 519.9,213.6 520.2,213.7 520.5,213.8 520.8,213.2 521.1,213.0 521.4,212.7 521.7,212.7 522.0,212.9 522.3,213.2 522.6,213.5 522.9,213.8 523.2,213.7 523.5,213.6 523.8,213.7 524.1,213.5 524.4,213.9 524.7,214.2 525.0,213.8 525.3,213.7 525.6,214.2 525.8,214.2 526.1,213.9 526.4,213.8 526.7,214.2 527.0,214.0 527.3,214.1 527.6,214.2 527.9,214.2 528.2,213.9 528.5,214.0 528.8,214.1 529.1,214.5 529.4,213.6 529.7,214.2 530.0,214.0 530.3,214.2 530.6,213.9 530.9,214.3 531.2,214.0 531.5,214.0 531.8,213.8 532.1,214.2 532.4,214.1 532.7,214.0 533.0,213.6 533.2,214.3 533.5,213.9 533.8,214.1 534.1,213.9 534.4,213.9 534.7,214.0 535.0,213.9 535.3,213.9 535.6,214.1 535.9,214.0 536.2,214.3 536.5,214.1 536.8,214.1"/>
<polyline fill="none" stroke="#16c4c4" stroke-width="2.2" stroke-linejoin="round" points="43.5,256.7 44.2,257.2 44.9,256.9 45.6,256.8 46.3,256.6 47.0,256.9 47.7,256.9 48.4,256.6 49.1,256.6 49.8,256.4 50.5,256.7 51.2,256.8 51.9,256.8 52.6,256.8 53.3,256.8 54.0,256.5 54.7,256.5 55.4,256.8 56.1,256.6 56.8,256.3 57.5,256.4 58.2,256.4 58.9,256.3 59.6,256.1 60.3,255.9 61.0,256.0 61.7,256.2 62.4,255.8 63.1,255.6 63.8,255.6 64.5,255.2 65.2,255.3 65.9,255.1 66.6,255.2 67.3,254.9 68.0,255.0 68.7,255.1 69.4,254.5 70.1,254.2 70.8,254.4 71.5,254.3 72.2,254.2 72.9,254.0 73.6,254.2 74.3,254.0 75.0,253.7 75.7,254.2 76.4,254.4 77.1,254.7 77.8,254.4 78.5,254.5 79.2,255.0 79.9,254.8 80.6,255.0 81.3,255.1 82.0,255.3 82.7,255.2 83.4,255.1 84.1,255.6 84.8,255.4 85.5,255.4 86.2,256.0 86.9,255.8 87.6,255.6 88.3,255.7 89.0,255.8 89.7,255.7 90.4,255.5 91.1,256.0 91.8,256.0 92.5,255.9 93.2,255.8 93.9,255.9 94.6,256.0 95.3,255.7 96.0,255.8 96.7,255.8 97.4,256.0 98.1,255.9 98.8,255.7 99.5,255.8 100.2,256.2 100.9,255.7 101.6,255.9 102.3,255.8 103.0,256.1 103.7,255.9 104.4,255.8 105.1,255.7 105.8,255.9 106.5,256.1 107.2,256.1 107.9,255.7 108.6,256.2 109.3,255.9 110.0,255.7 110.7,256.0 111.4,255.8 112.1,255.8 112.8,255.8 113.5,255.9 114.2,255.9 114.9,255.6 115.6,256.1 116.3,255.9 117.0,256.2 117.7,256.1 118.4,256.1 119.1,256.0 119.8,256.2 120.5,255.9 121.2,255.8 121.9,256.0 122.6,255.5 123.3,255.9 124.0,256.0 124.7,255.9 125.4,256.2 126.1,256.1 126.8,256.0 127.5,255.9 128.2,256.2 128.9,255.9 129.6,255.9 130.3,256.1 131.0,256.1 131.7,256.4 132.4,256.0 133.1,255.6 133.8,256.1 134.5,256.2 135.2,256.0 135.9,256.3 136.6,256.3 137.3,255.9 138.0,255.9 138.7,255.7 139.4,256.1 140.1,256.1 140.8,256.1 141.5,255.7 142.2,255.8 142.9,255.7 143.6,255.7 144.3,255.7 145.0,255.7 145.7,255.9 146.4,256.0 147.1,256.1 147.8,255.9 148.5,255.8 149.2,255.9 149.9,256.0 150.6,255.9 151.3,255.9 152.0,255.9 152.7,255.8 153.4,255.9 154.1,255.7 154.8,256.1 155.5,255.6 156.2,256.0 156.9,255.7 157.6,256.2 158.3,256.1 159.0,255.8 159.7,255.8 160.4,255.7 161.1,255.9 161.8,256.0 162.5,256.4 163.2,255.7 163.9,256.1 164.6,255.8 165.3,255.9 166.0,256.0 166.7,255.9 167.4,255.8 168.1,255.7 168.8,255.7 169.5,255.7 170.2,255.8 170.9,255.3 171.6,255.4 172.3,255.2 173.0,255.2 173.7,255.2 174.4,255.5 175.1,255.7 175.8,255.5 176.5,254.9 177.2,255.1 177.9,254.8 178.6,255.0 179.3,255.0 180.0,254.8 180.7,254.8 181.4,254.5 182.1,254.1 182.8,254.0 183.5,254.2 184.2,254.2 184.9,254.3 185.6,253.9 186.3,253.9 187.0,253.8 187.7,253.8 188.4,253.5 189.1,253.2 189.8,253.4 190.5,253.2 191.2,253.0 191.9,252.6 192.6,252.7 193.3,252.2 194.0,252.0 194.7,252.1 195.4,251.7 196.1,251.4 196.8,251.2 197.5,250.5 198.2,250.4 198.9,249.6 199.6,249.3 200.3,248.5 201.0,248.3 201.7,247.7 202.4,247.0 203.1,246.2 203.8,244.9 204.5,244.3 205.2,243.1 205.9,242.2 206.6,241.2 207.3,240.0 208.0,239.0 208.7,237.9 209.4,237.3 210.1,236.1 210.8,235.4 211.5,234.2 212.2,234.0 212.9,233.0 213.6,232.8 214.3,232.0 215.0,233.1 215.7,233.9 216.4,235.0 217.1,235.8 217.8,237.4 218.5,238.7 219.2,240.1 219.9,241.7 220.6,242.3 221.3,243.7 222.0,244.4 222.7,245.2 223.4,246.5 224.1,247.2 224.8,248.2 225.5,248.5 226.2,249.2 226.9,250.0 227.6,250.3 228.3,251.2 229.0,251.3 229.7,252.1 230.4,252.4 231.1,252.4 231.8,252.5 232.5,253.1 233.2,253.5 233.9,253.9 234.6,254.0 235.3,254.2 236.0,254.5 236.7,254.5 237.4,255.1 238.1,254.8 238.8,254.9 239.5,255.2 240.2,255.1 240.9,255.4 241.6,255.5 242.3,255.6 243.0,255.8 243.7,256.2 244.4,256.2 245.1,256.0 245.8,256.2 246.5,256.5 247.2,256.3 247.9,256.5 248.6,256.5 249.3,256.7 250.0,256.6 250.7,256.7 251.4,256.6 252.1,256.9 252.8,256.7 253.5,257.2 254.2,257.0 254.9,257.0 255.6,257.2 256.3,257.1 257.0,257.2 257.7,257.2 258.4,257.1 259.1,257.2 259.8,257.3 260.5,257.6 261.2,257.3 261.9,257.4 262.6,257.4 263.3,257.6 264.0,257.9 264.7,257.4 265.4,257.7 266.1,257.6 266.8,257.5 267.5,257.7 268.2,257.4 268.9,257.8 269.6,257.7 270.3,257.5 271.0,258.0 271.7,257.9 272.4,258.0 273.1,257.5 273.8,257.8 274.5,257.7 275.2,258.0 275.9,258.1 276.6,257.5 277.3,257.9 278.0,257.9 278.7,258.1 279.4,258.0 280.1,257.8 280.8,258.0 281.5,257.9 282.2,257.9 282.9,258.1 283.6,258.0 284.3,258.2 285.0,257.9 285.7,258.6 286.4,258.4 287.1,258.3 287.8,258.0 288.5,257.9 289.2,258.1 289.9,258.3 290.6,258.7 291.3,258.6 292.0,258.2 292.7,258.6 293.4,258.6 294.1,258.4 294.8,258.6 295.5,258.4 296.2,258.3 296.9,258.2 297.6,258.4 298.3,258.6 299.0,258.2 299.7,258.1 300.4,258.6 301.1,258.0 301.8,258.8 302.5,258.4 303.2,258.6 303.9,258.9 304.6,258.3 305.3,258.3 306.0,259.0 306.7,258.5 307.4,258.5 308.1,258.6 308.8,258.8 309.5,258.8 310.2,258.6 310.9,258.6 311.6,258.6 312.3,258.7 313.0,258.9 313.7,258.7 314.4,259.0 315.1,258.5 315.8,258.8 316.5,259.0 317.2,258.9 317.9,258.8 318.6,258.6 319.3,258.6 320.0,258.7 320.7,258.8 321.4,258.7 322.1,258.5 322.8,258.7 323.5,258.9 324.2,259.0 324.9,258.6 325.6,258.8 326.3,258.5 327.0,258.8 327.7,259.5 328.4,258.9 329.1,258.8 329.8,258.8 330.5,258.7 331.2,258.6 331.9,258.9 332.6,258.9 333.3,259.2 334.0,258.7 334.7,259.1 335.4,259.2 336.1,258.6 336.8,259.1 337.5,258.7 338.2,259.1 338.9,259.3 339.6,259.0 340.3,259.1 341.0,258.9 341.7,259.1 342.4,259.3 343.1,259.1 343.8,259.1 344.5,259.2 345.2,259.3 345.9,258.8 346.6,259.2 347.3,259.0 348.0,259.3 348.7,259.4 349.4,259.3 350.1,259.4 350.8,259.0 351.5,259.2 352.2,259.1 352.9,259.3 353.6,259.3 354.3,259.2 355.0,259.1 355.7,259.3 356.4,259.2 357.1,259.4 357.8,259.3 358.5,259.6 359.2,259.4 359.9,259.0 360.6,259.3 361.3,259.1 362.0,259.6 362.7,259.7 363.4,259.4 364.1,259.5 364.8,259.2 365.5,259.0 366.2,259.4 366.9,259.4 367.6,259.2 368.3,259.5 369.0,259.6 369.7,259.6 370.4,259.8 371.1,259.7 371.8,259.5 372.5,259.6 373.2,259.7 373.9,259.4 374.6,259.8 375.3,259.8 376.0,259.6 376.7,259.5 377.4,260.3 378.1,259.8 378.8,259.8 379.5,260.0 380.2,259.9 380.9,259.7 381.6,259.8 382.3,259.5 383.0,259.8 383.7,259.4 384.4,259.8 385.1,259.9 385.8,259.5 386.5,260.1 387.2,259.6 387.9,260.0 388.6,259.7 389.3,259.9 390.0,259.7 390.7,260.3 391.4,260.0 392.1,260.2 392.8,260.0 393.5,260.0 394.2,259.9 394.9,259.9 395.6,260.0 396.3,259.9 397.0,259.9 397.7,259.7 398.4,259.9 399.1,260.0 399.8,259.9 400.5,260.0 401.2,259.9 401.9,259.8 402.6,259.8 403.3,259.8 404.0,259.9 404.7,259.9 405.4,260.2 406.1,259.8 406.8,259.6 407.5,260.1 408.2,259.9 408.9,260.0 409.6,260.5 410.3,260.3 411.0,260.1 411.7,260.2 412.4,260.1 413.1,260.2 413.8,259.9 414.5,259.9 415.2,260.0 415.9,260.4 416.6,260.4 417.3,260.0 418.0,260.3 418.7,260.1 419.4,260.3 420.1,260.0 420.8,260.3 421.5,260.1 422.2,260.1 422.9,260.1 423.6,260.2 424.3,260.0 425.0,259.9 425.7,260.5 426.4,260.1 427.1,259.8 427.8,259.7 428.5,259.6 429.2,260.1 429.9,260.4 430.6,259.9 431.3,260.1 432.0,259.9 432.7,260.4 433.4,260.3 434.1,260.3 434.8,260.5 435.5,260.5 436.2,260.4 436.9,260.1 437.6,260.0 438.3,260.0 439.0,259.9 439.7,260.6 440.4,260.2 441.1,260.3 441.8,260.3 442.5,260.6 443.2,260.2 443.9,260.5 444.6,260.3 445.3,260.3 446.0,259.9 446.7,260.5 447.4,260.2 448.1,260.2 448.8,260.4 449.5,260.3 450.2,260.5 450.9,260.2 451.6,260.4 452.3,260.4 453.0,260.4 453.7,260.5 454.4,260.3 455.1,260.6 455.8,260.2 456.5,260.1 457.2,260.4 457.9,260.6 458.6,260.3 459.3,260.3 460.0,260.3 460.7,260.4 461.4,260.4 462.1,260.5 462.8,260.1 463.5,260.7 464.2,260.5 464.9,260.3 465.6,260.7 466.3,260.5 467.0,260.7 467.7,260.2 468.4,260.8 469.1,260.5 469.8,260.1 470.5,260.6 471.2,260.4 471.9,260.3 472.6,260.4 473.3,260.1 474.0,260.6 474.7,260.5 475.4,260.5 476.1,260.8 476.8,260.5 477.5,260.4 478.2,260.3 478.9,260.5 479.6,260.7 480.3,260.4 481.0,260.4 481.7,260.7 482.4,260.6 483.1,260.6 483.8,260.9 484.5,260.3 485.2,260.6 485.9,260.2 486.6,260.5 487.3,260.7 488.0,260.8 488.7,260.4 489.4,260.8 490.1,260.7 490.8,260.6 491.5,261.1 492.2,260.6 492.9,260.5 493.6,260.7 494.3,260.3 495.0,260.9 495.7,260.8 496.4,260.6 497.1,260.8 497.8,260.8 498.5,261.0 499.2,260.5 499.9,260.4 500.6,260.3 501.3,260.6 502.0,260.4 502.7,260.7 503.4,260.8 504.1,260.6 504.8,260.5 505.5,260.9 506.2,260.7 506.9,260.8 507.6,260.9 508.3,260.5 509.0,260.6 509.7,261.2 510.4,260.7 511.1,260.5 511.8,260.7 512.5,260.6 513.2,260.5 513.9,260.7 514.6,260.8 515.3,260.8 516.0,260.9 516.7,260.5 517.4,260.5 518.1,260.9 518.8,260.7 519.5,261.0 520.2,260.9 520.9,260.5 521.6,260.9 522.3,260.6 523.0,260.9 523.7,261.0 524.4,261.2 525.1,260.8 525.8,261.0 526.5,260.9 527.2,261.0 527.9,260.4 528.6,260.8 529.3,260.9 530.0,260.9 530.7,260.7 531.4,261.0 532.1,261.1 532.8,260.9 533.5,260.8 534.2,260.8 534.9,260.9 535.6,261.1 536.3,261.2 537.0,260.8"/>
<polyline fill="none" stroke="#000" stroke-width="2.2" stroke-linejoin="round" points="43.5,319.3 43.8,319.2 44.1,319.2 44.4,319.2 44.7,319.1 45.0,319.7 45.3,319.2 45.6,319.3 45.9,319.3 46.2,319.5 46.5,319.2 46.8,319.1 47.1,319.1 47.3,319.3 47.6,319.2 47.9,319.1 48.2,318.9 48.5,319.1 48.8,319.3 49.1,319.3 49.4,319.3 49.7,319.2 50.0,319.4 50.3,319.1 50.6,319.4 50.9,319.4 51.2,319.2 51.5,319.4 51.8,319.3 52.1,319.7 52.4,319.1 52.7,319.3 53.0,319.3 53.3,319.2 53.6,319.3 53.9,319.4 54.2,318.9 54.5,319.4 54.8,319.1 55.0,318.9 55.3,319.4 55.6,319.3 55.9,319.4 56.2,319.1 56.5,319.4 56.8,319.5 57.1,319.0 57.4,319.1 57.7,319.5 58.0,319.1 58.3,319.3 58.6,318.8 58.9,319.0 59.2,319.4 59.5,319.3 59.8,319.5 60.1,319.3 60.4,319.3 60.7,319.2 61.0,319.3 61.3,319.6 61.6,319.4 61.9,319.0 62.2,319.1 62.5,319.3 62.7,319.3 63.0,319.3 63.3,319.3 63.6,319.6 63.9,319.1 64.2,319.4 64.5,319.3 64.8,319.8 65.1,319.2 65.4,319.0 65.7,319.7 66.0,319.0 66.3,319.2 66.6,319.4 66.9,319.6 67.2,319.1 67.5,319.2 67.8,319.2 68.1,319.3 68.4,319.4 68.7,319.1 69.0,319.5 69.3,319.1 69.6,319.6 69.9,319.5 70.1,319.6 70.4,319.0 70.7,319.6 71.0,319.5 71.3,319.2 71.6,319.2 71.9,318.9 72.2,318.9 72.5,319.2 72.8,319.2 73.1,319.6 73.4,319.5 73.7,319.4 74.0,319.3 74.3,319.6 74.6,319.5 74.9,319.5 75.2,319.1 75.5,319.2 75.8,319.4 76.1,319.3 76.4,319.2 76.7,319.4 77.0,319.3 77.3,319.6 77.6,319.2 77.8,319.1 78.1,319.2 78.4,319.2 78.7,319.2 79.0,318.9 79.3,319.3 79.6,319.5 79.9,319.5 80.2,319.2 80.5,319.1 80.8,319.1 81.1,319.1 81.4,319.3 81.7,319.6 82.0,319.4 82.3,319.6 82.6,319.4 82.9,319.5 83.2,319.3 83.5,319.3 83.8,319.7 84.1,319.1 84.4,319.1 84.7,319.6 85.0,319.3 85.3,319.2 85.5,319.3 85.8,319.1 86.1,319.3 86.4,319.1 86.7,319.3 87.0,319.3 87.3,319.2 87.6,319.1 87.9,319.2 88.2,319.4 88.5,319.4 88.8,319.4 89.1,319.4 89.4,319.2 89.7,319.3 90.0,319.3 90.3,319.3 90.6,319.3 90.9,319.0 91.2,319.1 91.5,319.4 91.8,319.2 92.1,319.4 92.4,319.3 92.7,319.3 92.9,319.4 93.2,319.5 93.5,319.8 93.8,319.2 94.1,319.1 94.4,319.5 94.7,319.2 95.0,319.4 95.3,319.2 95.6,319.4 95.9,319.3 96.2,319.3 96.5,319.7 96.8,319.2 97.1,319.3 97.4,319.8 97.7,319.2 98.0,319.3 98.3,319.2 98.6,319.2 98.9,319.4 99.2,319.5 99.5,319.4 99.8,319.4 100.1,318.9 100.4,318.9 100.6,319.4 100.9,319.4 101.2,319.2 101.5,319.2 101.8,319.4 102.1,319.5 102.4,318.9 102.7,319.1 103.0,319.6 103.3,319.6 103.6,319.4 103.9,319.2 104.2,319.2 104.5,319.3 104.8,319.6 105.1,319.2 105.4,319.2 105.7,319.3 106.0,319.4 106.3,319.2 106.6,319.3 106.9,319.5 107.2,319.2 107.5,319.5 107.8,319.1 108.0,319.2 108.3,319.5 108.6,319.2 108.9,319.0 109.2,319.7 109.5,319.3 109.8,318.9 110.1,319.5 110.4,319.3 110.7,319.5 111.0,319.2 111.3,319.7 111.6,319.5 111.9,319.3 112.2,319.1 112.5,319.1 112.8,319.0 113.1,318.8 113.4,318.7 113.7,318.5 114.0,318.6 114.3,318.1 114.6,317.2 114.9,317.3 115.2,317.8 115.5,318.1 115.7,318.4 116.0,318.9 116.3,318.6 116.6,319.1 116.9,319.1 117.2,318.7 117.5,319.6 117.8,319.1 118.1,319.5 118.4,319.3 118.7,319.2 119.0,319.3 119.3,319.2 119.6,319.3 119.9,319.2 120.2,319.4 120.5,319.3 120.8,319.5 121.1,319.1 121.4,319.4 121.7,319.0 122.0,319.3 122.3,319.2 122.6,318.9 122.9,319.1 123.2,319.5 123.4,319.0 123.7,319.7 124.0,319.1 124.3,319.2 124.6,319.4 124.9,319.1 125.2,319.1 125.5,318.6 125.8,319.1 126.1,318.6 126.4,318.6 126.7,319.0 127.0,318.9 127.3,318.4 127.6,318.5 127.9,318.1 128.2,317.7 128.5,317.2 128.8,316.1 129.1,315.1 129.4,314.4 129.7,314.0 130.0,314.1 130.3,315.1 130.6,316.2 130.8,316.8 131.1,317.0 131.4,316.8 131.7,316.6 132.0,315.9 132.3,314.5 132.6,312.2 132.9,309.4 133.2,307.7 133.5,307.0 133.8,307.5 134.1,310.0 134.4,312.5 134.7,314.4 135.0,316.1 135.3,317.4 135.6,318.1 135.9,318.1 136.2,318.6 136.5,318.5 136.8,318.9 137.1,318.8 137.4,319.1 137.7,318.9 138.0,319.0 138.3,318.8 138.5,318.7 138.8,319.0 139.1,319.2 139.4,318.7 139.7,319.0 140.0,319.0 140.3,319.0 140.6,318.8 140.9,318.9 141.2,319.0 141.5,319.0 141.8,319.3 142.1,319.3 142.4,319.2 142.7,319.1 143.0,319.1 143.3,319.1 143.6,319.1 143.9,319.2 144.2,319.5 144.5,319.0 144.8,319.0 145.1,319.3 145.4,319.0 145.7,319.1 146.0,319.1 146.2,319.5 146.5,319.4 146.8,319.2 147.1,318.8 147.4,319.3 147.7,319.2 148.0,319.3 148.3,319.2 148.6,319.0 148.9,319.5 149.2,319.6 149.5,318.9 149.8,319.0 150.1,319.1 150.4,318.8 150.7,318.7 151.0,319.3 151.3,318.9 151.6,318.6 151.9,318.9 152.2,318.7 152.5,318.4 152.8,318.5 153.1,318.6 153.4,318.3 153.6,318.2 153.9,317.4 154.2,317.2 154.5,315.6 154.8,314.5 155.1,311.7 155.4,308.7 155.7,304.8 156.0,301.6 156.3,301.0 156.6,303.3 156.9,307.1 157.2,310.5 157.5,313.1 157.8,314.9 158.1,316.1 158.4,316.3 158.7,316.4 159.0,315.9 159.3,315.3 159.6,314.3 159.9,313.7 160.2,313.3 160.5,314.0 160.8,314.9 161.1,316.0 161.3,316.8 161.6,317.9 161.9,317.4 162.2,318.4 162.5,318.3 162.8,318.5 163.1,319.3 163.4,318.9 163.7,318.6 164.0,319.4 164.3,318.8 164.6,319.2 164.9,319.1 165.2,319.0 165.5,319.4 165.8,319.0 166.1,319.2 166.4,319.3 166.7,319.0 167.0,318.4 167.3,319.1 167.6,319.0 167.9,319.2 168.2,319.3 168.5,319.1 168.8,318.9 169.0,319.1 169.3,319.0 169.6,319.2 169.9,318.7 170.2,319.5 170.5,319.1 170.8,319.1 171.1,319.1 171.4,319.4 171.7,319.4 172.0,319.3 172.3,319.2 172.6,319.5 172.9,319.4 173.2,319.1 173.5,319.0 173.8,319.3 174.1,319.4 174.4,319.4 174.7,318.7 175.0,319.1 175.3,319.2 175.6,319.0 175.9,318.8 176.2,319.0 176.4,319.5 176.7,319.2 177.0,319.3 177.3,319.3 177.6,319.5 177.9,319.3 178.2,319.4 178.5,319.2 178.8,319.2 179.1,319.5 179.4,319.6 179.7,319.3 180.0,319.1 180.3,319.1 180.6,319.2 180.9,319.9 181.2,319.3 181.5,319.4 181.8,319.3 182.1,319.5 182.4,319.3 182.7,319.3 183.0,318.7 183.3,319.1 183.6,319.2 183.9,319.2 184.1,319.2 184.4,319.2 184.7,319.3 185.0,319.2 185.3,319.0 185.6,319.0 185.9,319.1 186.2,318.9 186.5,319.1 186.8,319.4 187.1,319.5 187.4,319.3 187.7,319.2 188.0,319.1 188.3,318.9 188.6,319.3 188.9,319.3 189.2,319.0 189.5,318.9 189.8,319.2 190.1,319.0 190.4,318.8 190.7,319.0 191.0,319.0 191.3,319.4 191.5,318.7 191.8,318.8 192.1,318.8 192.4,318.8 192.7,318.9 193.0,318.5 193.3,318.2 193.6,317.4 193.9,317.2 194.2,315.6 194.5,314.5 194.8,312.8 195.1,312.4 195.4,312.3 195.7,313.2 196.0,314.8 196.3,316.4 196.6,317.1 196.9,317.4 197.2,318.1 197.5,318.2 197.8,317.7 198.1,317.5 198.4,316.6 198.7,316.3 199.0,315.9 199.2,315.6 199.5,315.6 199.8,316.8 200.1,317.4 200.4,317.8 200.7,318.5 201.0,318.3 201.3,318.6 201.6,318.7 201.9,319.1 202.2,319.2 202.5,319.4 202.8,318.9 203.1,318.9 203.4,318.8 203.7,318.6 204.0,319.0 204.3,319.0 204.6,318.8 204.9,318.6 205.2,319.0 205.5,318.7 205.8,318.9 206.1,318.9 206.4,318.6 206.7,318.9 206.9,319.0 207.2,318.6 207.5,318.7 207.8,318.7 208.1,318.6 208.4,318.4 208.7,318.4 209.0,318.1 209.3,318.1 209.6,317.7 209.9,317.5 210.2,317.4 210.5,317.3 210.8,316.8 211.1,316.2 211.4,314.5 211.7,313.4 212.0,310.4 212.3,306.0 212.6,300.6 212.9,293.3 213.2,286.6 213.5,283.9 213.8,286.8 214.1,293.3 214.3,300.0 214.6,306.1 214.9,310.5 215.2,313.3 215.5,315.4 215.8,315.9 216.1,316.6 216.4,317.4 216.7,317.4 217.0,317.8 217.3,318.0 217.6,318.3 217.9,318.3 218.2,318.5 218.5,318.3 218.8,318.3 219.1,318.4 219.4,318.5 219.7,318.6 220.0,318.2 220.3,319.0 220.6,318.4 220.9,318.6 221.2,318.6 221.5,318.7 221.8,318.7 222.0,318.9 222.3,318.9 222.6,318.6 222.9,318.9 223.2,318.4 223.5,318.3 223.8,319.1 224.1,318.6 224.4,318.2 224.7,318.0 225.0,317.7 225.3,317.2 225.6,316.6 225.9,316.0 226.2,315.4 226.5,315.6 226.8,315.5 227.1,316.1 227.4,315.8 227.7,316.0 228.0,315.5 228.3,315.5 228.6,316.1 228.9,316.5 229.2,316.1 229.5,315.8 229.7,315.3 230.0,314.4 230.3,313.3 230.6,312.2 230.9,308.3 231.2,303.7 231.5,296.2 231.8,285.2 232.1,272.8 232.4,261.3 232.7,256.2 233.0,261.0 233.3,272.5 233.6,285.0 233.9,295.8 234.2,303.3 234.5,307.5 234.8,310.5 235.1,311.3 235.4,311.8 235.7,311.6 236.0,311.4 236.3,311.6 236.6,312.7 236.9,314.0 237.1,315.1 237.4,316.1 237.7,316.6 238.0,317.1 238.3,317.5 238.6,317.7 238.9,317.8 239.2,317.5 239.5,317.9 239.8,318.1 240.1,318.0 240.4,317.8 240.7,317.9 241.0,317.8 241.3,317.6 241.6,317.2 241.9,316.6 242.2,315.7 242.5,314.8 242.8,312.8 243.1,311.1 243.4,308.7 243.7,308.3 244.0,309.5 244.3,311.6 244.6,313.1 244.8,314.6 245.1,315.1 245.4,315.2 245.7,314.4 246.0,313.4 246.3,312.3 246.6,312.0 246.9,313.3 247.2,314.4 247.5,315.6 247.8,316.7 248.1,317.6 248.4,317.8 248.7,318.1 249.0,318.0 249.3,318.0 249.6,318.0 249.9,318.0 250.2,317.7 250.5,317.9 250.8,317.3 251.1,317.4 251.4,316.5 251.7,315.4 252.0,313.9 252.3,311.5 252.5,307.5 252.8,303.4 253.1,299.2 253.4,297.4 253.7,299.3 254.0,303.4 254.3,307.5 254.6,311.2 254.9,314.1 255.2,315.6 255.5,316.5 255.8,317.2 256.1,317.7 256.4,318.0 256.7,318.2 257.0,318.5 257.3,318.7 257.6,318.3 257.9,318.7 258.2,318.6 258.5,319.0 258.8,318.8 259.1,319.0 259.4,318.3 259.7,319.1 259.9,319.1 260.2,318.8 260.5,318.8 260.8,319.4 261.1,319.0 261.4,318.9 261.7,319.3 262.0,318.9 262.3,319.2 262.6,319.3 262.9,319.2 263.2,319.2 263.5,319.4 263.8,318.7 264.1,319.2 264.4,319.3 264.7,319.0 265.0,319.2 265.3,318.9 265.6,319.2 265.9,319.1 266.2,319.1 266.5,319.1 266.8,319.2 267.1,319.2 267.4,318.8 267.6,319.3 267.9,319.3 268.2,319.2 268.5,319.1 268.8,319.1 269.1,319.0 269.4,319.5 269.7,319.1 270.0,319.2 270.3,319.3 270.6,319.2 270.9,319.6 271.2,319.1 271.5,319.2 271.8,319.5 272.1,319.2 272.4,318.9 272.7,319.3 273.0,319.1 273.3,319.2 273.6,319.4 273.9,319.4 274.2,319.3 274.5,318.9 274.8,319.0 275.1,319.3 275.3,319.0 275.6,319.2 275.9,319.3 276.2,319.1 276.5,319.4 276.8,319.5 277.1,318.9 277.4,319.6 277.7,319.1 278.0,319.5 278.3,319.2 278.6,319.2 278.9,319.3 279.2,319.6 279.5,319.2 279.8,319.2 280.1,319.3 280.4,319.1 280.7,318.9 281.0,319.3 281.3,319.0 281.6,319.3 281.9,319.0 282.2,318.9 282.5,318.5 282.7,318.8 283.0,318.8 283.3,318.5 283.6,318.8 283.9,318.2 284.2,318.2 284.5,317.7 284.8,316.5 285.1,315.5 285.4,313.9 285.7,313.1 286.0,312.2 286.3,312.9 286.6,314.2 286.9,315.9 287.2,316.5 287.5,317.5 287.8,318.3 288.1,318.7 288.4,318.8 288.7,318.5 289.0,318.9 289.3,319.0 289.6,318.9 289.9,319.0 290.2,319.0 290.4,318.9 290.7,319.0 291.0,318.9 291.3,319.4 291.6,319.1 291.9,319.2 292.2,319.1 292.5,319.2 292.8,319.3 293.1,319.2 293.4,319.0 293.7,319.3 294.0,319.4 294.3,319.1 294.6,319.0 294.9,319.2 295.2,319.2 295.5,319.4 295.8,319.2 296.1,319.0 296.4,319.0 296.7,319.2 297.0,319.2 297.3,319.5 297.6,319.1 297.8,319.1 298.1,319.0 298.4,318.8 298.7,319.1 299.0,318.9 299.3,319.3 299.6,318.8 299.9,318.7 300.2,318.4 300.5,318.4 300.8,318.2 301.1,317.8 301.4,318.1 301.7,318.0 302.0,318.2 302.3,318.8 302.6,319.0 302.9,318.8 303.2,319.0 303.5,318.9 303.8,318.9 304.1,319.2 304.4,319.0 304.7,318.8 305.0,319.1 305.3,319.1 305.5,319.2 305.8,318.8 306.1,318.6 306.4,319.2 306.7,318.7 307.0,318.6 307.3,318.7 307.6,318.5 307.9,318.3 308.2,317.7 308.5,316.7 308.8,315.4 309.1,314.1 309.4,312.6 309.7,312.2 310.0,313.0 310.3,313.8 310.6,315.3 310.9,316.8 311.2,317.2 311.5,318.0 311.8,318.4 312.1,318.3 312.4,319.2 312.7,319.2 313.0,318.8 313.2,319.0 313.5,319.2 313.8,318.7 314.1,318.9 314.4,319.3 314.7,319.2 315.0,318.9 315.3,318.7 315.6,319.5 315.9,319.0 316.2,319.1 316.5,319.3 316.8,319.0 317.1,319.1 317.4,318.7 317.7,318.1 318.0,318.0 318.3,317.7 318.6,317.6 318.9,317.8 319.2,317.9 319.5,318.6 319.8,318.7 320.1,318.7 320.4,319.1 320.6,319.1 320.9,318.8 321.2,318.8 321.5,319.2 321.8,319.3 322.1,319.0 322.4,319.1 322.7,319.3 323.0,319.0 323.3,319.0 323.6,319.1 323.9,318.5 324.2,318.8 324.5,318.9 324.8,318.8 325.1,318.4 325.4,318.7 325.7,318.9 326.0,318.4 326.3,318.1 326.6,317.8 326.9,317.0 327.2,316.4 327.5,316.2 327.8,316.6 328.1,316.9 328.3,318.0 328.6,318.0 328.9,318.5 329.2,318.7 329.5,319.4 329.8,318.7 330.1,319.4 330.4,319.2 330.7,319.0 331.0,319.2 331.3,319.2 331.6,319.6 331.9,319.2 332.2,319.1 332.5,319.0 332.8,319.2 333.1,319.1 333.4,319.1 333.7,319.3 334.0,319.3 334.3,318.8 334.6,319.4 334.9,319.0 335.2,319.2 335.5,318.9 335.8,319.3 336.0,319.1 336.3,319.2 336.6,319.3 336.9,319.2 337.2,319.4 337.5,319.2 337.8,319.3 338.1,319.1 338.4,319.2 338.7,319.5 339.0,319.3 339.3,319.2 339.6,319.4 339.9,319.0 340.2,319.1 340.5,319.0 340.8,319.4 341.1,319.3 341.4,319.0 341.7,319.5 342.0,319.1 342.3,319.2 342.6,319.3 342.9,319.2 343.2,319.4 343.4,319.1 343.7,319.4 344.0,319.4 344.3,318.9 344.6,319.3 344.9,319.6 345.2,319.0 345.5,319.3 345.8,319.9 346.1,319.2 346.4,319.0 346.7,319.1 347.0,318.8 347.3,319.2 347.6,319.0 347.9,319.3 348.2,319.1 348.5,318.8 348.8,319.0 349.1,319.0 349.4,319.4 349.7,319.1 350.0,319.2 350.3,318.8 350.6,319.1 350.9,318.8 351.1,319.0 351.4,318.4 351.7,318.9 352.0,318.5 352.3,317.9 352.6,318.1 352.9,317.9 353.2,317.0 353.5,316.2 353.8,315.2 354.1,314.6 354.4,313.0 354.7,312.1 355.0,309.9 355.3,309.4 355.6,310.0 355.9,311.3 356.2,313.3 356.5,315.3 356.8,315.9 357.1,317.1 357.4,317.8 357.7,317.3 358.0,317.2 358.3,317.0 358.6,316.6 358.8,316.1 359.1,314.9 359.4,314.0 359.7,314.1 360.0,314.5 360.3,315.8 360.6,316.3 360.9,316.9 361.2,317.8 361.5,318.0 361.8,317.8 362.1,317.5 362.4,317.0 362.7,316.5 363.0,315.5 363.3,314.1 363.6,312.6 363.9,311.2 364.2,310.7 364.5,310.9 364.8,311.2 365.1,312.0 365.4,312.7 365.7,313.9 366.0,314.1 366.2,314.4 366.5,313.5 366.8,312.3 367.1,310.5 367.4,308.9 367.7,308.8 368.0,310.3 368.3,312.4 368.6,314.2 368.9,315.7 369.2,316.7 369.5,317.3 369.8,318.0 370.1,318.6 370.4,318.4 370.7,318.8 371.0,318.8 371.3,318.3 371.6,318.4 371.9,318.6 372.2,318.4 372.5,318.0 372.8,318.0 373.1,317.2 373.4,317.1 373.7,316.7 373.9,317.7 374.2,317.7 374.5,318.4 374.8,318.3 375.1,318.9 375.4,318.7 375.7,319.0 376.0,319.1 376.3,319.0 376.6,318.9 376.9,319.0 377.2,318.8 377.5,318.9 377.8,319.6 378.1,319.2 378.4,319.5 378.7,319.2 379.0,319.0 379.3,319.4 379.6,319.4 379.9,319.1 380.2,319.2 380.5,318.8 380.8,319.1 381.1,319.1 381.4,318.8 381.6,319.3 381.9,319.2 382.2,319.4 382.5,319.1 382.8,319.0 383.1,318.9 383.4,319.2 383.7,319.3 384.0,319.3 384.3,319.5 384.6,319.1 384.9,318.9 385.2,319.6 385.5,319.6 385.8,318.9 386.1,319.5 386.4,319.1 386.7,319.4 387.0,319.0 387.3,318.9 387.6,319.0 387.9,318.9 388.2,319.0 388.5,318.8 388.8,318.5 389.0,318.4 389.3,318.5 389.6,318.2 389.9,317.5 390.2,317.0 390.5,316.6 390.8,316.8 391.1,317.0 391.4,317.7 391.7,318.1 392.0,318.5 392.3,318.6 392.6,319.1 392.9,318.6 393.2,318.9 393.5,319.0 393.8,318.9 394.1,318.9 394.4,318.9 394.7,319.1 395.0,319.1 395.3,319.4 395.6,319.1 395.9,319.2 396.2,319.2 396.5,318.6 396.7,319.5 397.0,319.1 397.3,318.8 397.6,318.9 397.9,318.8 398.2,319.3 398.5,319.2 398.8,318.9 399.1,319.0 399.4,318.6 399.7,318.9 400.0,318.8 400.3,318.7 400.6,318.8 400.9,318.6 401.2,318.5 401.5,318.1 401.8,317.7 402.1,316.8 402.4,316.0 402.7,314.4 403.0,312.3 403.3,311.0 403.6,311.0 403.9,311.9 404.1,313.8 404.4,314.8 404.7,316.8 405.0,317.0 405.3,318.1 405.6,318.2 405.9,318.5 406.2,318.7 406.5,318.5 406.8,318.6 407.1,318.8 407.4,319.0 407.7,318.4 408.0,318.5 408.3,318.7 408.6,318.7 408.9,318.4 409.2,318.1 409.5,317.4 409.8,317.3 410.1,316.5 410.4,316.3 410.7,316.0 411.0,316.4 411.3,317.4 411.6,317.8 411.8,318.0 412.1,318.6 412.4,318.9 412.7,318.6 413.0,318.8 413.3,319.0 413.6,318.7 413.9,319.0 414.2,319.4 414.5,319.0 414.8,319.0 415.1,318.7 415.4,319.0 415.7,319.1 416.0,318.9 416.3,319.0 416.6,319.3 416.9,319.0 417.2,319.0 417.5,318.7 417.8,318.4 418.1,319.1 418.4,319.0 418.7,319.0 419.0,318.8 419.3,318.7 419.5,318.4 419.8,317.8 420.1,317.8 420.4,317.1 420.7,316.0 421.0,314.1 421.3,312.9 421.6,312.9 421.9,313.4 422.2,314.3 422.5,315.4 422.8,316.4 423.1,317.4 423.4,317.7 423.7,318.1 424.0,318.4 424.3,318.0 424.6,318.3 424.9,318.5 425.2,318.2 425.5,318.2 425.8,317.4 426.1,316.5 426.4,315.9 426.7,314.0 426.9,312.4 427.2,311.8 427.5,312.3 427.8,313.3 428.1,314.5 428.4,315.8 428.7,316.5 429.0,316.4 429.3,316.1 429.6,315.1 429.9,314.3 430.2,312.4 430.5,311.7 430.8,312.0 431.1,313.5 431.4,314.5 431.7,316.2 432.0,316.7 432.3,317.5 432.6,318.4 432.9,318.5 433.2,318.2 433.5,318.5 433.8,318.8 434.1,318.8 434.4,318.9 434.6,319.1 434.9,319.0 435.2,319.1 435.5,319.1 435.8,318.9 436.1,319.2 436.4,318.9 436.7,319.1 437.0,318.9 437.3,318.9 437.6,318.9 437.9,319.0 438.2,319.0 438.5,319.2 438.8,319.0 439.1,319.3 439.4,319.2 439.7,319.0 440.0,319.1 440.3,319.0 440.6,319.3 440.9,318.9 441.2,319.2 441.5,319.1 441.8,319.1 442.1,318.9 442.3,319.2 442.6,319.3 442.9,319.5 443.2,319.2 443.5,319.3 443.8,319.0 444.1,318.8 444.4,319.5 444.7,319.2 445.0,318.9 445.3,318.6 445.6,318.7 445.9,318.6 446.2,318.3 446.5,317.8 446.8,317.0 447.1,316.4 447.4,315.8 447.7,315.0 448.0,314.7 448.3,315.5 448.6,316.3 448.9,317.2 449.2,317.9 449.5,318.1 449.7,318.6 450.0,318.9 450.3,319.0 450.6,318.9 450.9,318.5 451.2,318.9 451.5,318.7 451.8,318.9 452.1,319.5 452.4,319.0 452.7,319.2 453.0,319.3 453.3,319.3 453.6,318.7 453.9,319.3 454.2,319.1 454.5,318.8 454.8,318.8 455.1,319.3 455.4,319.0 455.7,319.0 456.0,318.9 456.3,318.6 456.6,318.8 456.9,318.6 457.2,318.1 457.4,318.4 457.7,317.5 458.0,316.5 458.3,315.7 458.6,314.1 458.9,313.0 459.2,312.1 459.5,312.8 459.8,313.8 460.1,315.2 460.4,316.5 460.7,317.4 461.0,317.8 461.3,318.2 461.6,318.6 461.9,318.1 462.2,318.3 462.5,318.0 462.8,318.2 463.1,317.5 463.4,316.9 463.7,317.1 464.0,317.6 464.3,317.5 464.6,317.8 464.9,317.9 465.1,318.0 465.4,317.7 465.7,317.5 466.0,316.7 466.3,315.7 466.6,313.9 466.9,311.6 467.2,309.7 467.5,308.1 467.8,308.8 468.1,310.4 468.4,312.7 468.7,314.4 469.0,316.3 469.3,316.9 469.6,318.1 469.9,318.2 470.2,318.2 470.5,318.4 470.8,318.9 471.1,319.0 471.4,318.7 471.7,319.1 472.0,318.8 472.3,319.1 472.5,319.0 472.8,318.6 473.1,318.7 473.4,318.9 473.7,319.4 474.0,319.0 474.3,319.1 474.6,319.1 474.9,318.9 475.2,319.5 475.5,319.1 475.8,319.1 476.1,319.3 476.4,318.8 476.7,319.4 477.0,319.2 477.3,319.2 477.6,319.6 477.9,319.5 478.2,319.4 478.5,319.0 478.8,319.0 479.1,319.1 479.4,319.1 479.7,319.6 480.0,319.1 480.2,319.3 480.5,318.9 480.8,318.9 481.1,318.7 481.4,319.0 481.7,319.0 482.0,319.3 482.3,319.0 482.6,319.2 482.9,318.7 483.2,318.9 483.5,318.5 483.8,318.3 484.1,318.0 484.4,317.6 484.7,318.0 485.0,318.1 485.3,318.6 485.6,318.4 485.9,319.0 486.2,318.8 486.5,318.6 486.8,319.6 487.1,319.3 487.4,319.2 487.6,318.9 487.9,319.3 488.2,319.1 488.5,319.3 488.8,319.1 489.1,319.5 489.4,319.0 489.7,319.8 490.0,319.6 490.3,318.8 490.6,319.2 490.9,319.4 491.2,318.8 491.5,319.0 491.8,319.0 492.1,319.3 492.4,319.1 492.7,319.1 493.0,319.6 493.3,319.1 493.6,319.3 493.9,319.0 494.2,318.9 494.5,319.3 494.8,319.3 495.1,319.2 495.3,319.1 495.6,319.3 495.9,319.2 496.2,319.0 496.5,319.1 496.8,318.9 497.1,319.1 497.4,319.3 497.7,319.4 498.0,318.8 498.3,319.0 498.6,318.8 498.9,318.5 499.2,318.4 499.5,317.7 499.8,317.6 500.1,316.8 500.4,317.0 500.7,316.9 501.0,317.7 501.3,318.2 501.6,318.5 501.9,318.6 502.2,319.1 502.5,319.0 502.8,319.1 503.0,318.6 503.3,319.1 503.6,319.5 503.9,319.0 504.2,318.6 504.5,319.3 504.8,318.4 505.1,319.1 505.4,318.9 505.7,319.2 506.0,319.1 506.3,319.2 506.6,319.1 506.9,319.1 507.2,318.2 507.5,318.3 507.8,317.7 508.1,317.6 508.4,318.0 508.7,318.1 509.0,318.4 509.3,318.7 509.6,318.8 509.9,318.9 510.2,319.2 510.4,319.3 510.7,319.2 511.0,319.0 511.3,318.7 511.6,318.7 511.9,318.9 512.2,318.7 512.5,318.8 512.8,318.5 513.1,318.5 513.4,318.2 513.7,317.9 514.0,317.1 514.3,315.9 514.6,315.6 514.9,314.8 515.2,315.0 515.5,315.4 515.8,316.2 516.1,317.4 516.4,318.6 516.7,318.3 517.0,318.5 517.3,319.2 517.6,319.0 517.9,319.0 518.1,319.5 518.4,318.9 518.7,319.0 519.0,319.0 519.3,319.3 519.6,319.2 519.9,319.2 520.2,319.0 520.5,319.2 520.8,318.7 521.1,318.8 521.4,319.2 521.7,318.1 522.0,318.1 522.3,317.9 522.6,317.4 522.9,317.6 523.2,317.4 523.5,318.3 523.8,318.4 524.1,318.2 524.4,318.5 524.7,319.0 525.0,319.2 525.3,318.9 525.6,319.1 525.8,319.1 526.1,319.0 526.4,319.4 526.7,319.0 527.0,319.6 527.3,318.9 527.6,319.5 527.9,319.4 528.2,319.4 528.5,319.1 528.8,319.1 529.1,319.2 529.4,319.1 529.7,319.2 530.0,319.3 530.3,319.7 530.6,319.7 530.9,319.7 531.2,319.3 531.5,319.3 531.8,319.3 532.1,319.2 532.4,319.3 532.7,319.5 533.0,319.6 533.2,319.7 533.5,319.0 533.8,319.1 534.1,319.6 534.4,319.3 534.7,319.2 535.0,318.9 535.3,319.4 535.6,319.2 535.9,319.0 536.2,319.6 536.5,319.4 536.8,319.3"/>
<path d="M114.2 378.0V364.1 M128.8 378.0V360.8 M133.2 378.0V333.7 M156.0 378.0V327.0 M160.0 378.0V355.0 M194.9 378.0V351.6 M198.6 378.0V364.0 M213.1 378.0V330.4 M225.3 378.0V359.3 M232.4 378.0V258.0 M235.1 378.0V355.6 M242.7 378.0V355.2 M245.6 378.0V358.3 M253.5 378.0V300.0 M285.9 378.0V355.2 M301.6 378.0V366.5 M308.8 378.0V357.2 M317.6 378.0V366.5 M327.0 378.0V360.7 M353.6 378.0V366.6 M355.6 378.0V351.4 M359.7 378.0V351.4 M364.1 378.0V356.4 M367.6 378.0V351.4 M372.8 378.0V363.8 M389.4 378.0V365.1 M402.3 378.0V351.4 M409.5 378.0V362.3 M413.2 378.0V363.8 M420.2 378.0V365.5 M422.0 378.0V357.9 M424.8 378.0V365.3 M427.5 378.0V355.0 M430.9 378.0V359.4 M446.8 378.0V359.4 M458.8 378.0V355.0 M462.5 378.0V359.4 M465.8 378.0V359.4" stroke="#000" stroke-width="1.6" fill="none"/>
<rect x="43.5" y="13.9" width="493.5" height="364.1" fill="none" stroke="#000" stroke-width="1.7"/>
<path d="M43.5 378.0v7 M92.8 378.0v3.6 M142.2 378.0v7 M191.5 378.0v3.6 M240.9 378.0v7 M290.2 378.0v3.6 M339.6 378.0v7 M388.9 378.0v3.6 M438.3 378.0v7 M487.6 378.0v3.6 M537.0 378.0v7" stroke="#000" stroke-width="1.6" fill="none"/>
<text x="43.5" y="403.7" text-anchor="middle" style="font-family:'Liberation Serif',serif;font-weight:bold;stroke:#000;stroke-width:0.35px;font-size:17.5px">10</text>
<text x="142.2" y="403.7" text-anchor="middle" style="font-family:'Liberation Serif',serif;font-weight:bold;stroke:#000;stroke-width:0.35px;font-size:17.5px">20</text>
<text x="240.9" y="403.7" text-anchor="middle" style="font-family:'Liberation Serif',serif;font-weight:bold;stroke:#000;stroke-width:0.35px;font-size:17.5px">30</text>
<text x="339.6" y="403.7" text-anchor="middle" style="font-family:'Liberation Serif',serif;font-weight:bold;stroke:#000;stroke-width:0.35px;font-size:17.5px">40</text>
<text x="438.3" y="403.7" text-anchor="middle" style="font-family:'Liberation Serif',serif;font-weight:bold;stroke:#000;stroke-width:0.35px;font-size:17.5px">50</text>
<text x="537.0" y="403.7" text-anchor="middle" style="font-family:'Liberation Serif',serif;font-weight:bold;stroke:#000;stroke-width:0.35px;font-size:17.5px">60</text>
<text x="290.05" y="434.7" text-anchor="middle" style="font-family:'Liberation Serif',serif;font-weight:bold;stroke:#000;stroke-width:0.35px;font-size:21px">2-Theta (Degree)</text>
<text transform="translate(19.7,181.9) rotate(-90)" x="0" y="0" text-anchor="middle" style="font-family:'Liberation Serif',serif;font-weight:bold;stroke:#000;stroke-width:0.35px;font-size:23px">Intensity (a.u.)</text>
<text x="528.6" y="40.8" text-anchor="end" style="font-family:'Liberation Serif',serif;font-weight:bold;stroke:#000;stroke-width:0.35px;font-size:17.4px">15%-CN/BiP</text>
<text x="528.6" y="82.1" text-anchor="end" style="font-family:'Liberation Serif',serif;font-weight:bold;stroke:#000;stroke-width:0.35px;font-size:17.4px">10%-CN/BiP</text>
<text x="529.2" y="126.0" text-anchor="end" style="font-family:'Liberation Serif',serif;font-weight:bold;stroke:#000;stroke-width:0.35px;font-size:17.4px">5%-CN/BiP</text>
<text x="529.0" y="166.4" text-anchor="end" style="font-family:'Liberation Serif',serif;font-weight:bold;stroke:#000;stroke-width:0.35px;font-size:17.4px">2%-CN/BiP</text>
<text x="529.0" y="200.1" text-anchor="end" style="font-family:'Liberation Serif',serif;font-weight:bold;stroke:#000;stroke-width:0.35px;font-size:17.4px">1%-CN/BiP</text>
<text x="520.3" y="241.7" text-anchor="end" style="font-family:'Liberation Serif',serif;font-weight:bold;stroke:#000;stroke-width:0.35px;font-size:16.9px">CN</text>
<text x="521.9" y="298.6" text-anchor="end" style="font-family:'Liberation Serif',serif;font-weight:bold;stroke:#000;stroke-width:0.35px;font-size:17.2px">BiP</text>
<text transform="translate(139.1,276.35) rotate(-90) scale(1.115,1)" x="0" y="0" text-anchor="middle" style="font-family:'Liberation Serif',serif;font-weight:bold;stroke:#000;stroke-width:0.35px;font-size:16.0px">(011)</text>
<text transform="translate(171.6,278.9) rotate(-90) scale(1.103,1)" x="0" y="0" text-anchor="middle" style="font-family:'Liberation Serif',serif;font-weight:bold;stroke:#000;stroke-width:0.35px;font-size:16.0px">(-111)</text>
<text transform="translate(202.0,281.95) rotate(-90) scale(1.102,1)" x="0" y="0" text-anchor="middle" style="font-family:'Liberation Serif',serif;font-weight:bold;stroke:#000;stroke-width:0.35px;font-size:16.0px">(111)</text>
<text transform="translate(219.0,262.6) rotate(-90) scale(1.092,1)" x="0" y="0" text-anchor="middle" style="font-family:'Liberation Serif',serif;font-weight:bold;stroke:#000;stroke-width:0.35px;font-size:16.0px">(200)</text>
<text transform="translate(247.0,265.4) rotate(-90) scale(1.149,1)" x="0" y="0" text-anchor="middle" style="font-family:'Liberation Serif',serif;font-weight:bold;stroke:#000;stroke-width:0.35px;font-size:16.0px">(120)</text>
<text transform="translate(267.0,275.9) rotate(-90) scale(1.149,1)" x="0" y="0" text-anchor="middle" style="font-family:'Liberation Serif',serif;font-weight:bold;stroke:#000;stroke-width:0.35px;font-size:16.0px">(012)</text>
<text transform="translate(291.7,283.25) rotate(-90) scale(1.133,1)" x="0" y="0" text-anchor="middle" style="font-family:'Liberation Serif',serif;font-weight:bold;stroke:#000;stroke-width:0.35px;font-size:16.0px">(-202)</text>
<text transform="translate(315.8,284.05) rotate(-90) scale(1.122,1)" x="0" y="0" text-anchor="middle" style="font-family:'Liberation Serif',serif;font-weight:bold;stroke:#000;stroke-width:0.35px;font-size:16.0px">(-212)</text>
</svg></body></html>
